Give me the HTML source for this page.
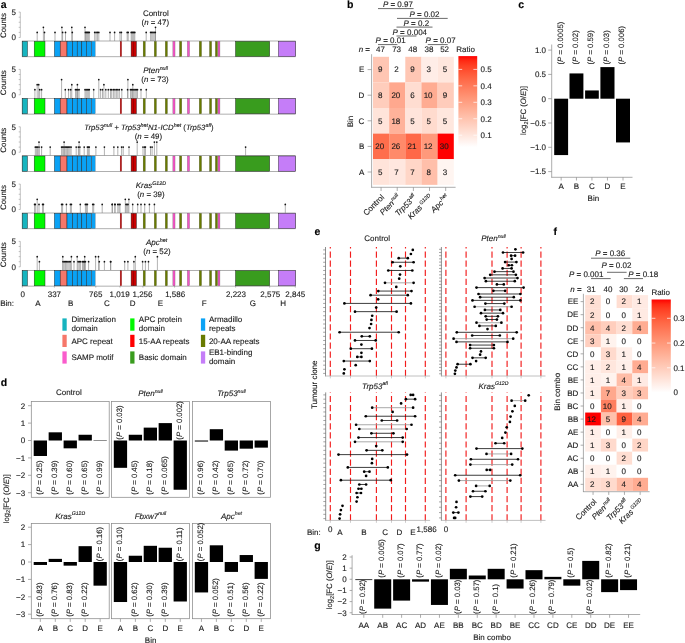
<!DOCTYPE html>
<html><head><meta charset="utf-8"><style>
html,body{margin:0;padding:0;background:#fff;width:685px;height:643px;overflow:hidden}
svg{display:block}
text{font-family:"Liberation Sans",sans-serif;text-rendering:geometricPrecision}
svg{will-change:transform}
</style></head><body>
<svg width="685" height="643" viewBox="0 0 685 643">
<rect width="685" height="643" fill="#fff"/>
<text x="0.80" y="8.30" font-size="10.5" fill="#000" stroke="#000" stroke-width="0.12" font-weight="bold" >a</text>
<line x1="20.30" y1="12.10" x2="20.30" y2="37.50" stroke="#999" stroke-width="0.6" />
<line x1="18.70" y1="37.50" x2="20.30" y2="37.50" stroke="#999" stroke-width="0.6" />
<line x1="18.70" y1="32.42" x2="20.30" y2="32.42" stroke="#999" stroke-width="0.6" />
<line x1="18.70" y1="27.34" x2="20.30" y2="27.34" stroke="#999" stroke-width="0.6" />
<line x1="18.70" y1="22.26" x2="20.30" y2="22.26" stroke="#999" stroke-width="0.6" />
<line x1="18.70" y1="17.18" x2="20.30" y2="17.18" stroke="#999" stroke-width="0.6" />
<line x1="18.70" y1="12.10" x2="20.30" y2="12.10" stroke="#999" stroke-width="0.6" />
<text x="16.00" y="14.90" font-size="8.0" fill="#1a1a1a" stroke="#1a1a1a" stroke-width="0.12" text-anchor="end" >5</text>
<text x="16.00" y="40.30" font-size="8.0" fill="#1a1a1a" stroke="#1a1a1a" stroke-width="0.12" text-anchor="end" >0</text>
<text transform="translate(6.10,25.50) rotate(-90)" font-size="7.9" fill="#1a1a1a" stroke="#1a1a1a" stroke-width="0.12" text-anchor="middle" >Counts</text>
<line x1="37.20" y1="41.00" x2="37.20" y2="32.42" stroke="#808080" stroke-width="0.6" />
<line x1="43.40" y1="41.00" x2="43.40" y2="27.34" stroke="#808080" stroke-width="0.6" />
<line x1="44.50" y1="41.00" x2="44.50" y2="32.42" stroke="#808080" stroke-width="0.6" />
<line x1="55.00" y1="41.00" x2="55.00" y2="32.42" stroke="#808080" stroke-width="0.6" />
<line x1="61.90" y1="41.00" x2="61.90" y2="27.34" stroke="#808080" stroke-width="0.6" />
<line x1="62.60" y1="41.00" x2="62.60" y2="32.42" stroke="#808080" stroke-width="0.6" />
<line x1="65.50" y1="41.00" x2="65.50" y2="32.42" stroke="#808080" stroke-width="0.6" />
<line x1="71.80" y1="41.00" x2="71.80" y2="27.34" stroke="#808080" stroke-width="0.6" />
<line x1="72.30" y1="41.00" x2="72.30" y2="32.42" stroke="#808080" stroke-width="0.6" />
<line x1="85.00" y1="41.00" x2="85.00" y2="27.34" stroke="#808080" stroke-width="0.6" />
<line x1="85.40" y1="41.00" x2="85.40" y2="32.42" stroke="#808080" stroke-width="0.6" />
<line x1="86.38" y1="41.00" x2="86.38" y2="32.42" stroke="#808080" stroke-width="0.6" />
<line x1="87.35" y1="41.00" x2="87.35" y2="32.42" stroke="#808080" stroke-width="0.6" />
<line x1="88.33" y1="41.00" x2="88.33" y2="32.42" stroke="#808080" stroke-width="0.6" />
<line x1="89.30" y1="41.00" x2="89.30" y2="32.42" stroke="#808080" stroke-width="0.6" />
<line x1="94.70" y1="41.00" x2="94.70" y2="32.42" stroke="#808080" stroke-width="0.6" />
<line x1="96.07" y1="41.00" x2="96.07" y2="32.42" stroke="#808080" stroke-width="0.6" />
<line x1="97.43" y1="41.00" x2="97.43" y2="32.42" stroke="#808080" stroke-width="0.6" />
<line x1="98.80" y1="41.00" x2="98.80" y2="32.42" stroke="#808080" stroke-width="0.6" />
<line x1="110.00" y1="41.00" x2="110.00" y2="32.42" stroke="#808080" stroke-width="0.6" />
<line x1="114.60" y1="41.00" x2="114.60" y2="32.42" stroke="#808080" stroke-width="0.6" />
<line x1="120.00" y1="41.00" x2="120.00" y2="32.42" stroke="#808080" stroke-width="0.6" />
<line x1="121.40" y1="41.00" x2="121.40" y2="32.42" stroke="#808080" stroke-width="0.6" />
<line x1="127.20" y1="41.00" x2="127.20" y2="32.42" stroke="#808080" stroke-width="0.6" />
<line x1="128.20" y1="41.00" x2="128.20" y2="32.42" stroke="#808080" stroke-width="0.6" />
<line x1="131.20" y1="41.00" x2="131.20" y2="32.42" stroke="#808080" stroke-width="0.6" />
<line x1="132.10" y1="41.00" x2="132.10" y2="32.42" stroke="#808080" stroke-width="0.6" />
<line x1="133.00" y1="41.00" x2="133.00" y2="32.42" stroke="#808080" stroke-width="0.6" />
<line x1="133.90" y1="41.00" x2="133.90" y2="32.42" stroke="#808080" stroke-width="0.6" />
<line x1="134.80" y1="41.00" x2="134.80" y2="32.42" stroke="#808080" stroke-width="0.6" />
<line x1="146.20" y1="41.00" x2="146.20" y2="32.42" stroke="#808080" stroke-width="0.6" />
<line x1="150.60" y1="41.00" x2="150.60" y2="32.42" stroke="#808080" stroke-width="0.6" />
<line x1="151.78" y1="41.00" x2="151.78" y2="32.42" stroke="#808080" stroke-width="0.6" />
<line x1="152.95" y1="41.00" x2="152.95" y2="32.42" stroke="#808080" stroke-width="0.6" />
<line x1="154.12" y1="41.00" x2="154.12" y2="32.42" stroke="#808080" stroke-width="0.6" />
<line x1="155.30" y1="41.00" x2="155.30" y2="32.42" stroke="#808080" stroke-width="0.6" />
<line x1="155.50" y1="41.00" x2="155.50" y2="27.34" stroke="#808080" stroke-width="0.6" />
<circle cx="37.20" cy="32.42" r="0.85" fill="#111"/>
<circle cx="43.40" cy="27.34" r="0.85" fill="#111"/>
<circle cx="44.50" cy="32.42" r="0.85" fill="#111"/>
<circle cx="55.00" cy="32.42" r="0.85" fill="#111"/>
<circle cx="61.90" cy="27.34" r="0.85" fill="#111"/>
<circle cx="62.60" cy="32.42" r="0.85" fill="#111"/>
<circle cx="65.50" cy="32.42" r="0.85" fill="#111"/>
<circle cx="71.80" cy="27.34" r="0.85" fill="#111"/>
<circle cx="72.30" cy="32.42" r="0.85" fill="#111"/>
<circle cx="85.00" cy="27.34" r="0.85" fill="#111"/>
<circle cx="85.40" cy="32.42" r="0.85" fill="#111"/>
<circle cx="86.38" cy="32.42" r="0.85" fill="#111"/>
<circle cx="87.35" cy="32.42" r="0.85" fill="#111"/>
<circle cx="88.33" cy="32.42" r="0.85" fill="#111"/>
<circle cx="89.30" cy="32.42" r="0.85" fill="#111"/>
<circle cx="94.70" cy="32.42" r="0.85" fill="#111"/>
<circle cx="96.07" cy="32.42" r="0.85" fill="#111"/>
<circle cx="97.43" cy="32.42" r="0.85" fill="#111"/>
<circle cx="98.80" cy="32.42" r="0.85" fill="#111"/>
<circle cx="110.00" cy="32.42" r="0.85" fill="#111"/>
<circle cx="114.60" cy="32.42" r="0.85" fill="#111"/>
<circle cx="120.00" cy="32.42" r="0.85" fill="#111"/>
<circle cx="121.40" cy="32.42" r="0.85" fill="#111"/>
<circle cx="127.20" cy="32.42" r="0.85" fill="#111"/>
<circle cx="128.20" cy="32.42" r="0.85" fill="#111"/>
<circle cx="131.20" cy="32.42" r="0.85" fill="#111"/>
<circle cx="132.10" cy="32.42" r="0.85" fill="#111"/>
<circle cx="133.00" cy="32.42" r="0.85" fill="#111"/>
<circle cx="133.90" cy="32.42" r="0.85" fill="#111"/>
<circle cx="134.80" cy="32.42" r="0.85" fill="#111"/>
<circle cx="146.20" cy="32.42" r="0.85" fill="#111"/>
<circle cx="150.60" cy="32.42" r="0.85" fill="#111"/>
<circle cx="151.78" cy="32.42" r="0.85" fill="#111"/>
<circle cx="152.95" cy="32.42" r="0.85" fill="#111"/>
<circle cx="154.12" cy="32.42" r="0.85" fill="#111"/>
<circle cx="155.30" cy="32.42" r="0.85" fill="#111"/>
<circle cx="155.50" cy="27.34" r="0.85" fill="#111"/>
<rect x="22.20" y="41.00" width="273.30" height="15.80" fill="#fff" stroke="#7a7a7a" stroke-width="0.6" />
<rect x="22.20" y="41.30" width="5.30" height="15.20" fill="#16b4bf" stroke="#222" stroke-width="0.45" />
<rect x="34.20" y="41.30" width="10.80" height="15.20" fill="#00f800" stroke="#222" stroke-width="0.45" />
<rect x="54.40" y="41.30" width="5.80" height="15.20" fill="#0aa2f5" stroke="#222" stroke-width="0.45" />
<rect x="60.20" y="41.30" width="6.80" height="15.20" fill="#f6776a" stroke="#222" stroke-width="0.45" />
<rect x="67.00" y="41.30" width="5.60" height="15.20" fill="#0aa2f5" stroke="#222" stroke-width="0.45" />
<rect x="72.60" y="41.30" width="4.60" height="15.20" fill="#0aa2f5" stroke="#222" stroke-width="0.45" />
<rect x="77.20" y="41.30" width="4.60" height="15.20" fill="#0aa2f5" stroke="#222" stroke-width="0.45" />
<rect x="81.80" y="41.30" width="4.60" height="15.20" fill="#0aa2f5" stroke="#222" stroke-width="0.45" />
<rect x="86.40" y="41.30" width="5.20" height="15.20" fill="#0aa2f5" stroke="#222" stroke-width="0.45" />
<rect x="91.85" y="41.30" width="3.40" height="15.20" fill="#0aa2f5" stroke="#222" stroke-width="0.35" stroke-opacity="0.55"/>
<rect x="120.15" y="41.30" width="1.50" height="15.20" fill="#c80000" stroke="#222" stroke-width="0.35" stroke-opacity="0.55"/>
<rect x="131.10" y="41.30" width="5.30" height="15.20" fill="#c80000" stroke="#222" stroke-width="0.45" />
<rect x="143.15" y="41.30" width="2.20" height="15.20" fill="#687a00" stroke="#222" stroke-width="0.35" stroke-opacity="0.55"/>
<rect x="154.25" y="41.30" width="2.20" height="15.20" fill="#687a00" stroke="#222" stroke-width="0.35" stroke-opacity="0.55"/>
<rect x="165.25" y="41.30" width="2.20" height="15.20" fill="#687a00" stroke="#222" stroke-width="0.35" stroke-opacity="0.55"/>
<rect x="172.85" y="41.30" width="2.20" height="15.20" fill="#f056c4" stroke="#222" stroke-width="0.35" stroke-opacity="0.55"/>
<rect x="179.45" y="41.30" width="2.30" height="15.20" fill="#687a00" stroke="#222" stroke-width="0.35" stroke-opacity="0.55"/>
<rect x="187.35" y="41.30" width="2.20" height="15.20" fill="#f056c4" stroke="#222" stroke-width="0.35" stroke-opacity="0.55"/>
<rect x="199.25" y="41.30" width="2.30" height="15.20" fill="#687a00" stroke="#222" stroke-width="0.35" stroke-opacity="0.55"/>
<rect x="209.45" y="41.30" width="2.20" height="15.20" fill="#687a00" stroke="#222" stroke-width="0.35" stroke-opacity="0.55"/>
<rect x="215.35" y="41.30" width="2.20" height="15.20" fill="#687a00" stroke="#222" stroke-width="0.35" stroke-opacity="0.55"/>
<rect x="218.05" y="41.30" width="1.90" height="15.20" fill="#f056c4" stroke="#222" stroke-width="0.35" stroke-opacity="0.55"/>
<rect x="235.50" y="41.30" width="34.20" height="15.20" fill="#399c1e" stroke="#222" stroke-width="0.45" />
<rect x="278.40" y="41.30" width="17.10" height="15.20" fill="#c57df8" stroke="#222" stroke-width="0.45" />
<line x1="133.50" y1="41.30" x2="133.50" y2="56.50" stroke="#600" stroke-width="0.45" />
<text x="155.80" y="15.70" font-size="8.0" fill="#1a1a1a" stroke="#1a1a1a" stroke-width="0.12" text-anchor="middle" >Control</text>
<text x="155.30" y="24.50" font-size="7.9" fill="#1a1a1a" stroke="#1a1a1a" stroke-width="0.12" text-anchor="middle" ><tspan>(</tspan><tspan font-style="italic">n</tspan><tspan> = 47)</tspan></text>
<line x1="20.30" y1="69.40" x2="20.30" y2="94.80" stroke="#999" stroke-width="0.6" />
<line x1="18.70" y1="94.80" x2="20.30" y2="94.80" stroke="#999" stroke-width="0.6" />
<line x1="18.70" y1="89.72" x2="20.30" y2="89.72" stroke="#999" stroke-width="0.6" />
<line x1="18.70" y1="84.64" x2="20.30" y2="84.64" stroke="#999" stroke-width="0.6" />
<line x1="18.70" y1="79.56" x2="20.30" y2="79.56" stroke="#999" stroke-width="0.6" />
<line x1="18.70" y1="74.48" x2="20.30" y2="74.48" stroke="#999" stroke-width="0.6" />
<line x1="18.70" y1="69.40" x2="20.30" y2="69.40" stroke="#999" stroke-width="0.6" />
<text x="16.00" y="72.20" font-size="8.0" fill="#1a1a1a" stroke="#1a1a1a" stroke-width="0.12" text-anchor="end" >5</text>
<text x="16.00" y="97.60" font-size="8.0" fill="#1a1a1a" stroke="#1a1a1a" stroke-width="0.12" text-anchor="end" >0</text>
<text transform="translate(6.10,82.80) rotate(-90)" font-size="7.9" fill="#1a1a1a" stroke="#1a1a1a" stroke-width="0.12" text-anchor="middle" >Counts</text>
<line x1="34.90" y1="98.30" x2="34.90" y2="89.72" stroke="#808080" stroke-width="0.6" />
<line x1="37.20" y1="98.30" x2="37.20" y2="84.64" stroke="#808080" stroke-width="0.6" />
<line x1="38.70" y1="98.30" x2="38.70" y2="84.64" stroke="#808080" stroke-width="0.6" />
<line x1="39.70" y1="98.30" x2="39.70" y2="89.72" stroke="#808080" stroke-width="0.6" />
<line x1="41.60" y1="98.30" x2="41.60" y2="89.72" stroke="#808080" stroke-width="0.6" />
<line x1="61.60" y1="98.30" x2="61.60" y2="79.56" stroke="#808080" stroke-width="0.6" />
<line x1="65.30" y1="98.30" x2="65.30" y2="89.72" stroke="#808080" stroke-width="0.6" />
<line x1="68.60" y1="98.30" x2="68.60" y2="89.72" stroke="#808080" stroke-width="0.6" />
<line x1="70.70" y1="98.30" x2="70.70" y2="89.72" stroke="#808080" stroke-width="0.6" />
<line x1="71.80" y1="98.30" x2="71.80" y2="84.64" stroke="#808080" stroke-width="0.6" />
<line x1="75.50" y1="98.30" x2="75.50" y2="89.72" stroke="#808080" stroke-width="0.6" />
<line x1="76.70" y1="98.30" x2="76.70" y2="89.72" stroke="#808080" stroke-width="0.6" />
<line x1="77.90" y1="98.30" x2="77.90" y2="89.72" stroke="#808080" stroke-width="0.6" />
<line x1="79.10" y1="98.30" x2="79.10" y2="89.72" stroke="#808080" stroke-width="0.6" />
<line x1="77.40" y1="98.30" x2="77.40" y2="84.64" stroke="#808080" stroke-width="0.6" />
<line x1="85.00" y1="98.30" x2="85.00" y2="89.72" stroke="#808080" stroke-width="0.6" />
<line x1="86.08" y1="98.30" x2="86.08" y2="89.72" stroke="#808080" stroke-width="0.6" />
<line x1="87.15" y1="98.30" x2="87.15" y2="89.72" stroke="#808080" stroke-width="0.6" />
<line x1="88.22" y1="98.30" x2="88.22" y2="89.72" stroke="#808080" stroke-width="0.6" />
<line x1="89.30" y1="98.30" x2="89.30" y2="89.72" stroke="#808080" stroke-width="0.6" />
<line x1="93.70" y1="98.30" x2="93.70" y2="89.72" stroke="#808080" stroke-width="0.6" />
<line x1="98.80" y1="98.30" x2="98.80" y2="79.56" stroke="#808080" stroke-width="0.6" />
<line x1="100.60" y1="98.30" x2="100.60" y2="89.72" stroke="#808080" stroke-width="0.6" />
<line x1="102.50" y1="98.30" x2="102.50" y2="89.72" stroke="#808080" stroke-width="0.6" />
<line x1="103.90" y1="98.30" x2="103.90" y2="84.64" stroke="#808080" stroke-width="0.6" />
<line x1="105.80" y1="98.30" x2="105.80" y2="89.72" stroke="#808080" stroke-width="0.6" />
<line x1="108.30" y1="98.30" x2="108.30" y2="89.72" stroke="#808080" stroke-width="0.6" />
<line x1="110.50" y1="98.30" x2="110.50" y2="89.72" stroke="#808080" stroke-width="0.6" />
<line x1="111.70" y1="98.30" x2="111.70" y2="89.72" stroke="#808080" stroke-width="0.6" />
<line x1="113.40" y1="98.30" x2="113.40" y2="89.72" stroke="#808080" stroke-width="0.6" />
<line x1="114.88" y1="98.30" x2="114.88" y2="89.72" stroke="#808080" stroke-width="0.6" />
<line x1="116.35" y1="98.30" x2="116.35" y2="89.72" stroke="#808080" stroke-width="0.6" />
<line x1="117.83" y1="98.30" x2="117.83" y2="89.72" stroke="#808080" stroke-width="0.6" />
<line x1="119.30" y1="98.30" x2="119.30" y2="89.72" stroke="#808080" stroke-width="0.6" />
<line x1="121.80" y1="98.30" x2="121.80" y2="89.72" stroke="#808080" stroke-width="0.6" />
<line x1="127.60" y1="98.30" x2="127.60" y2="89.72" stroke="#808080" stroke-width="0.6" />
<line x1="127.90" y1="98.30" x2="127.90" y2="79.56" stroke="#808080" stroke-width="0.6" />
<line x1="130.50" y1="98.30" x2="130.50" y2="89.72" stroke="#808080" stroke-width="0.6" />
<line x1="131.67" y1="98.30" x2="131.67" y2="89.72" stroke="#808080" stroke-width="0.6" />
<line x1="132.83" y1="98.30" x2="132.83" y2="89.72" stroke="#808080" stroke-width="0.6" />
<line x1="134.00" y1="98.30" x2="134.00" y2="89.72" stroke="#808080" stroke-width="0.6" />
<line x1="135.17" y1="98.30" x2="135.17" y2="89.72" stroke="#808080" stroke-width="0.6" />
<line x1="136.33" y1="98.30" x2="136.33" y2="89.72" stroke="#808080" stroke-width="0.6" />
<line x1="137.50" y1="98.30" x2="137.50" y2="89.72" stroke="#808080" stroke-width="0.6" />
<line x1="132.80" y1="98.30" x2="132.80" y2="84.64" stroke="#808080" stroke-width="0.6" />
<line x1="141.00" y1="98.30" x2="141.00" y2="89.72" stroke="#808080" stroke-width="0.6" />
<line x1="146.30" y1="98.30" x2="146.30" y2="89.72" stroke="#808080" stroke-width="0.6" />
<circle cx="34.90" cy="89.72" r="0.85" fill="#111"/>
<circle cx="37.20" cy="84.64" r="0.85" fill="#111"/>
<circle cx="38.70" cy="84.64" r="0.85" fill="#111"/>
<circle cx="39.70" cy="89.72" r="0.85" fill="#111"/>
<circle cx="41.60" cy="89.72" r="0.85" fill="#111"/>
<circle cx="61.60" cy="79.56" r="0.85" fill="#111"/>
<circle cx="65.30" cy="89.72" r="0.85" fill="#111"/>
<circle cx="68.60" cy="89.72" r="0.85" fill="#111"/>
<circle cx="70.70" cy="89.72" r="0.85" fill="#111"/>
<circle cx="71.80" cy="84.64" r="0.85" fill="#111"/>
<circle cx="75.50" cy="89.72" r="0.85" fill="#111"/>
<circle cx="76.70" cy="89.72" r="0.85" fill="#111"/>
<circle cx="77.90" cy="89.72" r="0.85" fill="#111"/>
<circle cx="79.10" cy="89.72" r="0.85" fill="#111"/>
<circle cx="77.40" cy="84.64" r="0.85" fill="#111"/>
<circle cx="85.00" cy="89.72" r="0.85" fill="#111"/>
<circle cx="86.08" cy="89.72" r="0.85" fill="#111"/>
<circle cx="87.15" cy="89.72" r="0.85" fill="#111"/>
<circle cx="88.22" cy="89.72" r="0.85" fill="#111"/>
<circle cx="89.30" cy="89.72" r="0.85" fill="#111"/>
<circle cx="93.70" cy="89.72" r="0.85" fill="#111"/>
<circle cx="98.80" cy="79.56" r="0.85" fill="#111"/>
<circle cx="100.60" cy="89.72" r="0.85" fill="#111"/>
<circle cx="102.50" cy="89.72" r="0.85" fill="#111"/>
<circle cx="103.90" cy="84.64" r="0.85" fill="#111"/>
<circle cx="105.80" cy="89.72" r="0.85" fill="#111"/>
<circle cx="108.30" cy="89.72" r="0.85" fill="#111"/>
<circle cx="110.50" cy="89.72" r="0.85" fill="#111"/>
<circle cx="111.70" cy="89.72" r="0.85" fill="#111"/>
<circle cx="113.40" cy="89.72" r="0.85" fill="#111"/>
<circle cx="114.88" cy="89.72" r="0.85" fill="#111"/>
<circle cx="116.35" cy="89.72" r="0.85" fill="#111"/>
<circle cx="117.83" cy="89.72" r="0.85" fill="#111"/>
<circle cx="119.30" cy="89.72" r="0.85" fill="#111"/>
<circle cx="121.80" cy="89.72" r="0.85" fill="#111"/>
<circle cx="127.60" cy="89.72" r="0.85" fill="#111"/>
<circle cx="127.90" cy="79.56" r="0.85" fill="#111"/>
<circle cx="130.50" cy="89.72" r="0.85" fill="#111"/>
<circle cx="131.67" cy="89.72" r="0.85" fill="#111"/>
<circle cx="132.83" cy="89.72" r="0.85" fill="#111"/>
<circle cx="134.00" cy="89.72" r="0.85" fill="#111"/>
<circle cx="135.17" cy="89.72" r="0.85" fill="#111"/>
<circle cx="136.33" cy="89.72" r="0.85" fill="#111"/>
<circle cx="137.50" cy="89.72" r="0.85" fill="#111"/>
<circle cx="132.80" cy="84.64" r="0.85" fill="#111"/>
<circle cx="141.00" cy="89.72" r="0.85" fill="#111"/>
<circle cx="146.30" cy="89.72" r="0.85" fill="#111"/>
<rect x="22.20" y="98.30" width="273.30" height="15.80" fill="#fff" stroke="#7a7a7a" stroke-width="0.6" />
<rect x="22.20" y="98.60" width="5.30" height="15.20" fill="#16b4bf" stroke="#222" stroke-width="0.45" />
<rect x="34.20" y="98.60" width="10.80" height="15.20" fill="#00f800" stroke="#222" stroke-width="0.45" />
<rect x="54.40" y="98.60" width="5.80" height="15.20" fill="#0aa2f5" stroke="#222" stroke-width="0.45" />
<rect x="60.20" y="98.60" width="6.80" height="15.20" fill="#f6776a" stroke="#222" stroke-width="0.45" />
<rect x="67.00" y="98.60" width="5.60" height="15.20" fill="#0aa2f5" stroke="#222" stroke-width="0.45" />
<rect x="72.60" y="98.60" width="4.60" height="15.20" fill="#0aa2f5" stroke="#222" stroke-width="0.45" />
<rect x="77.20" y="98.60" width="4.60" height="15.20" fill="#0aa2f5" stroke="#222" stroke-width="0.45" />
<rect x="81.80" y="98.60" width="4.60" height="15.20" fill="#0aa2f5" stroke="#222" stroke-width="0.45" />
<rect x="86.40" y="98.60" width="5.20" height="15.20" fill="#0aa2f5" stroke="#222" stroke-width="0.45" />
<rect x="91.85" y="98.60" width="3.40" height="15.20" fill="#0aa2f5" stroke="#222" stroke-width="0.35" stroke-opacity="0.55"/>
<rect x="120.15" y="98.60" width="1.50" height="15.20" fill="#c80000" stroke="#222" stroke-width="0.35" stroke-opacity="0.55"/>
<rect x="131.10" y="98.60" width="5.30" height="15.20" fill="#c80000" stroke="#222" stroke-width="0.45" />
<rect x="143.15" y="98.60" width="2.20" height="15.20" fill="#687a00" stroke="#222" stroke-width="0.35" stroke-opacity="0.55"/>
<rect x="154.25" y="98.60" width="2.20" height="15.20" fill="#687a00" stroke="#222" stroke-width="0.35" stroke-opacity="0.55"/>
<rect x="165.25" y="98.60" width="2.20" height="15.20" fill="#687a00" stroke="#222" stroke-width="0.35" stroke-opacity="0.55"/>
<rect x="172.85" y="98.60" width="2.20" height="15.20" fill="#f056c4" stroke="#222" stroke-width="0.35" stroke-opacity="0.55"/>
<rect x="179.45" y="98.60" width="2.30" height="15.20" fill="#687a00" stroke="#222" stroke-width="0.35" stroke-opacity="0.55"/>
<rect x="187.35" y="98.60" width="2.20" height="15.20" fill="#f056c4" stroke="#222" stroke-width="0.35" stroke-opacity="0.55"/>
<rect x="199.25" y="98.60" width="2.30" height="15.20" fill="#687a00" stroke="#222" stroke-width="0.35" stroke-opacity="0.55"/>
<rect x="209.45" y="98.60" width="2.20" height="15.20" fill="#687a00" stroke="#222" stroke-width="0.35" stroke-opacity="0.55"/>
<rect x="215.35" y="98.60" width="2.20" height="15.20" fill="#687a00" stroke="#222" stroke-width="0.35" stroke-opacity="0.55"/>
<rect x="218.05" y="98.60" width="1.90" height="15.20" fill="#f056c4" stroke="#222" stroke-width="0.35" stroke-opacity="0.55"/>
<rect x="235.50" y="98.60" width="34.20" height="15.20" fill="#399c1e" stroke="#222" stroke-width="0.45" />
<rect x="278.40" y="98.60" width="17.10" height="15.20" fill="#c57df8" stroke="#222" stroke-width="0.45" />
<line x1="133.50" y1="98.60" x2="133.50" y2="113.80" stroke="#600" stroke-width="0.45" />
<text x="155.60" y="73.00" font-size="8.0" fill="#1a1a1a" stroke="#1a1a1a" stroke-width="0.12" text-anchor="middle" ><tspan font-style="italic">Pten</tspan><tspan dy="-3.0" font-style="italic" font-size="5.4">null</tspan></text>
<text x="155.00" y="81.80" font-size="7.9" fill="#1a1a1a" stroke="#1a1a1a" stroke-width="0.12" text-anchor="middle" ><tspan>(</tspan><tspan font-style="italic">n</tspan><tspan> = 73)</tspan></text>
<line x1="20.30" y1="126.80" x2="20.30" y2="152.20" stroke="#999" stroke-width="0.6" />
<line x1="18.70" y1="152.20" x2="20.30" y2="152.20" stroke="#999" stroke-width="0.6" />
<line x1="18.70" y1="147.12" x2="20.30" y2="147.12" stroke="#999" stroke-width="0.6" />
<line x1="18.70" y1="142.04" x2="20.30" y2="142.04" stroke="#999" stroke-width="0.6" />
<line x1="18.70" y1="136.96" x2="20.30" y2="136.96" stroke="#999" stroke-width="0.6" />
<line x1="18.70" y1="131.88" x2="20.30" y2="131.88" stroke="#999" stroke-width="0.6" />
<line x1="18.70" y1="126.80" x2="20.30" y2="126.80" stroke="#999" stroke-width="0.6" />
<text x="16.00" y="129.60" font-size="8.0" fill="#1a1a1a" stroke="#1a1a1a" stroke-width="0.12" text-anchor="end" >5</text>
<text x="16.00" y="155.00" font-size="8.0" fill="#1a1a1a" stroke="#1a1a1a" stroke-width="0.12" text-anchor="end" >0</text>
<text transform="translate(6.10,140.20) rotate(-90)" font-size="7.9" fill="#1a1a1a" stroke="#1a1a1a" stroke-width="0.12" text-anchor="middle" >Counts</text>
<line x1="35.30" y1="155.70" x2="35.30" y2="147.12" stroke="#808080" stroke-width="0.6" />
<line x1="36.40" y1="155.70" x2="36.40" y2="147.12" stroke="#808080" stroke-width="0.6" />
<line x1="37.50" y1="155.70" x2="37.50" y2="147.12" stroke="#808080" stroke-width="0.6" />
<line x1="39.00" y1="155.70" x2="39.00" y2="142.04" stroke="#808080" stroke-width="0.6" />
<line x1="39.00" y1="155.70" x2="39.00" y2="147.12" stroke="#808080" stroke-width="0.6" />
<line x1="41.60" y1="155.70" x2="41.60" y2="147.12" stroke="#808080" stroke-width="0.6" />
<line x1="50.20" y1="155.70" x2="50.20" y2="147.12" stroke="#808080" stroke-width="0.6" />
<line x1="61.60" y1="155.70" x2="61.60" y2="147.12" stroke="#808080" stroke-width="0.6" />
<line x1="62.79" y1="155.70" x2="62.79" y2="147.12" stroke="#808080" stroke-width="0.6" />
<line x1="63.98" y1="155.70" x2="63.98" y2="147.12" stroke="#808080" stroke-width="0.6" />
<line x1="65.16" y1="155.70" x2="65.16" y2="147.12" stroke="#808080" stroke-width="0.6" />
<line x1="66.35" y1="155.70" x2="66.35" y2="147.12" stroke="#808080" stroke-width="0.6" />
<line x1="67.54" y1="155.70" x2="67.54" y2="147.12" stroke="#808080" stroke-width="0.6" />
<line x1="68.72" y1="155.70" x2="68.72" y2="147.12" stroke="#808080" stroke-width="0.6" />
<line x1="69.91" y1="155.70" x2="69.91" y2="147.12" stroke="#808080" stroke-width="0.6" />
<line x1="71.10" y1="155.70" x2="71.10" y2="147.12" stroke="#808080" stroke-width="0.6" />
<line x1="64.10" y1="155.70" x2="64.10" y2="142.04" stroke="#808080" stroke-width="0.6" />
<line x1="76.20" y1="155.70" x2="76.20" y2="147.12" stroke="#808080" stroke-width="0.6" />
<line x1="78.40" y1="155.70" x2="78.40" y2="147.12" stroke="#808080" stroke-width="0.6" />
<line x1="79.90" y1="155.70" x2="79.90" y2="147.12" stroke="#808080" stroke-width="0.6" />
<line x1="79.10" y1="155.70" x2="79.10" y2="142.04" stroke="#808080" stroke-width="0.6" />
<line x1="84.20" y1="155.70" x2="84.20" y2="147.12" stroke="#808080" stroke-width="0.6" />
<line x1="87.40" y1="155.70" x2="87.40" y2="147.12" stroke="#808080" stroke-width="0.6" />
<line x1="88.35" y1="155.70" x2="88.35" y2="147.12" stroke="#808080" stroke-width="0.6" />
<line x1="89.30" y1="155.70" x2="89.30" y2="147.12" stroke="#808080" stroke-width="0.6" />
<line x1="95.90" y1="155.70" x2="95.90" y2="147.12" stroke="#808080" stroke-width="0.6" />
<line x1="104.40" y1="155.70" x2="104.40" y2="147.12" stroke="#808080" stroke-width="0.6" />
<line x1="113.90" y1="155.70" x2="113.90" y2="147.12" stroke="#808080" stroke-width="0.6" />
<line x1="117.80" y1="155.70" x2="117.80" y2="147.12" stroke="#808080" stroke-width="0.6" />
<line x1="121.60" y1="155.70" x2="121.60" y2="147.12" stroke="#808080" stroke-width="0.6" />
<line x1="123.20" y1="155.70" x2="123.20" y2="147.12" stroke="#808080" stroke-width="0.6" />
<line x1="129.00" y1="155.70" x2="129.00" y2="147.12" stroke="#808080" stroke-width="0.6" />
<line x1="137.20" y1="155.70" x2="137.20" y2="142.04" stroke="#808080" stroke-width="0.6" />
<line x1="143.00" y1="155.70" x2="143.00" y2="147.12" stroke="#808080" stroke-width="0.6" />
<line x1="144.70" y1="155.70" x2="144.70" y2="147.12" stroke="#808080" stroke-width="0.6" />
<line x1="145.40" y1="155.70" x2="145.40" y2="147.12" stroke="#808080" stroke-width="0.6" />
<line x1="150.50" y1="155.70" x2="150.50" y2="147.12" stroke="#808080" stroke-width="0.6" />
<line x1="152.10" y1="155.70" x2="152.10" y2="147.12" stroke="#808080" stroke-width="0.6" />
<line x1="154.40" y1="155.70" x2="154.40" y2="142.04" stroke="#808080" stroke-width="0.6" />
<line x1="156.80" y1="155.70" x2="156.80" y2="142.04" stroke="#808080" stroke-width="0.6" />
<line x1="245.60" y1="155.70" x2="245.60" y2="147.12" stroke="#808080" stroke-width="0.6" />
<circle cx="35.30" cy="147.12" r="0.85" fill="#111"/>
<circle cx="36.40" cy="147.12" r="0.85" fill="#111"/>
<circle cx="37.50" cy="147.12" r="0.85" fill="#111"/>
<circle cx="39.00" cy="142.04" r="0.85" fill="#111"/>
<circle cx="39.00" cy="147.12" r="0.85" fill="#111"/>
<circle cx="41.60" cy="147.12" r="0.85" fill="#111"/>
<circle cx="50.20" cy="147.12" r="0.85" fill="#111"/>
<circle cx="61.60" cy="147.12" r="0.85" fill="#111"/>
<circle cx="62.79" cy="147.12" r="0.85" fill="#111"/>
<circle cx="63.98" cy="147.12" r="0.85" fill="#111"/>
<circle cx="65.16" cy="147.12" r="0.85" fill="#111"/>
<circle cx="66.35" cy="147.12" r="0.85" fill="#111"/>
<circle cx="67.54" cy="147.12" r="0.85" fill="#111"/>
<circle cx="68.72" cy="147.12" r="0.85" fill="#111"/>
<circle cx="69.91" cy="147.12" r="0.85" fill="#111"/>
<circle cx="71.10" cy="147.12" r="0.85" fill="#111"/>
<circle cx="64.10" cy="142.04" r="0.85" fill="#111"/>
<circle cx="76.20" cy="147.12" r="0.85" fill="#111"/>
<circle cx="78.40" cy="147.12" r="0.85" fill="#111"/>
<circle cx="79.90" cy="147.12" r="0.85" fill="#111"/>
<circle cx="79.10" cy="142.04" r="0.85" fill="#111"/>
<circle cx="84.20" cy="147.12" r="0.85" fill="#111"/>
<circle cx="87.40" cy="147.12" r="0.85" fill="#111"/>
<circle cx="88.35" cy="147.12" r="0.85" fill="#111"/>
<circle cx="89.30" cy="147.12" r="0.85" fill="#111"/>
<circle cx="95.90" cy="147.12" r="0.85" fill="#111"/>
<circle cx="104.40" cy="147.12" r="0.85" fill="#111"/>
<circle cx="113.90" cy="147.12" r="0.85" fill="#111"/>
<circle cx="117.80" cy="147.12" r="0.85" fill="#111"/>
<circle cx="121.60" cy="147.12" r="0.85" fill="#111"/>
<circle cx="123.20" cy="147.12" r="0.85" fill="#111"/>
<circle cx="129.00" cy="147.12" r="0.85" fill="#111"/>
<circle cx="137.20" cy="142.04" r="0.85" fill="#111"/>
<circle cx="143.00" cy="147.12" r="0.85" fill="#111"/>
<circle cx="144.70" cy="147.12" r="0.85" fill="#111"/>
<circle cx="145.40" cy="147.12" r="0.85" fill="#111"/>
<circle cx="150.50" cy="147.12" r="0.85" fill="#111"/>
<circle cx="152.10" cy="147.12" r="0.85" fill="#111"/>
<circle cx="154.40" cy="142.04" r="0.85" fill="#111"/>
<circle cx="156.80" cy="142.04" r="0.85" fill="#111"/>
<circle cx="245.60" cy="147.12" r="0.85" fill="#111"/>
<rect x="22.20" y="155.70" width="273.30" height="15.80" fill="#fff" stroke="#7a7a7a" stroke-width="0.6" />
<rect x="22.20" y="156.00" width="5.30" height="15.20" fill="#16b4bf" stroke="#222" stroke-width="0.45" />
<rect x="34.20" y="156.00" width="10.80" height="15.20" fill="#00f800" stroke="#222" stroke-width="0.45" />
<rect x="54.40" y="156.00" width="5.80" height="15.20" fill="#0aa2f5" stroke="#222" stroke-width="0.45" />
<rect x="60.20" y="156.00" width="6.80" height="15.20" fill="#f6776a" stroke="#222" stroke-width="0.45" />
<rect x="67.00" y="156.00" width="5.60" height="15.20" fill="#0aa2f5" stroke="#222" stroke-width="0.45" />
<rect x="72.60" y="156.00" width="4.60" height="15.20" fill="#0aa2f5" stroke="#222" stroke-width="0.45" />
<rect x="77.20" y="156.00" width="4.60" height="15.20" fill="#0aa2f5" stroke="#222" stroke-width="0.45" />
<rect x="81.80" y="156.00" width="4.60" height="15.20" fill="#0aa2f5" stroke="#222" stroke-width="0.45" />
<rect x="86.40" y="156.00" width="5.20" height="15.20" fill="#0aa2f5" stroke="#222" stroke-width="0.45" />
<rect x="91.85" y="156.00" width="3.40" height="15.20" fill="#0aa2f5" stroke="#222" stroke-width="0.35" stroke-opacity="0.55"/>
<rect x="120.15" y="156.00" width="1.50" height="15.20" fill="#c80000" stroke="#222" stroke-width="0.35" stroke-opacity="0.55"/>
<rect x="131.10" y="156.00" width="5.30" height="15.20" fill="#c80000" stroke="#222" stroke-width="0.45" />
<rect x="143.15" y="156.00" width="2.20" height="15.20" fill="#687a00" stroke="#222" stroke-width="0.35" stroke-opacity="0.55"/>
<rect x="154.25" y="156.00" width="2.20" height="15.20" fill="#687a00" stroke="#222" stroke-width="0.35" stroke-opacity="0.55"/>
<rect x="165.25" y="156.00" width="2.20" height="15.20" fill="#687a00" stroke="#222" stroke-width="0.35" stroke-opacity="0.55"/>
<rect x="172.85" y="156.00" width="2.20" height="15.20" fill="#f056c4" stroke="#222" stroke-width="0.35" stroke-opacity="0.55"/>
<rect x="179.45" y="156.00" width="2.30" height="15.20" fill="#687a00" stroke="#222" stroke-width="0.35" stroke-opacity="0.55"/>
<rect x="187.35" y="156.00" width="2.20" height="15.20" fill="#f056c4" stroke="#222" stroke-width="0.35" stroke-opacity="0.55"/>
<rect x="199.25" y="156.00" width="2.30" height="15.20" fill="#687a00" stroke="#222" stroke-width="0.35" stroke-opacity="0.55"/>
<rect x="209.45" y="156.00" width="2.20" height="15.20" fill="#687a00" stroke="#222" stroke-width="0.35" stroke-opacity="0.55"/>
<rect x="215.35" y="156.00" width="2.20" height="15.20" fill="#687a00" stroke="#222" stroke-width="0.35" stroke-opacity="0.55"/>
<rect x="218.05" y="156.00" width="1.90" height="15.20" fill="#f056c4" stroke="#222" stroke-width="0.35" stroke-opacity="0.55"/>
<rect x="235.50" y="156.00" width="34.20" height="15.20" fill="#399c1e" stroke="#222" stroke-width="0.45" />
<rect x="278.40" y="156.00" width="17.10" height="15.20" fill="#c57df8" stroke="#222" stroke-width="0.45" />
<line x1="133.50" y1="156.00" x2="133.50" y2="171.20" stroke="#600" stroke-width="0.45" />
<text x="149.00" y="130.40" font-size="7.7" fill="#1a1a1a" stroke="#1a1a1a" stroke-width="0.12" text-anchor="middle" ><tspan font-style="italic">Trp53</tspan><tspan dy="-3.0" font-style="italic" font-size="5.4">null</tspan><tspan dy="3.0"> + </tspan><tspan font-style="italic">Trp53</tspan><tspan dy="-3.0" font-style="italic" font-size="5.4">het</tspan><tspan dy="3.0" font-style="italic">N1-ICD</tspan><tspan dy="-3.0" font-style="italic" font-size="5.4">het</tspan><tspan dy="3.0"> (</tspan><tspan font-style="italic">Trp53</tspan><tspan dy="-3.0" font-style="italic" font-size="5.4">afl</tspan><tspan dy="3.0">)</tspan></text>
<text x="148.40" y="139.20" font-size="7.9" fill="#1a1a1a" stroke="#1a1a1a" stroke-width="0.12" text-anchor="middle" ><tspan>(</tspan><tspan font-style="italic">n</tspan><tspan> = 49)</tspan></text>
<line x1="20.30" y1="184.10" x2="20.30" y2="209.50" stroke="#999" stroke-width="0.6" />
<line x1="18.70" y1="209.50" x2="20.30" y2="209.50" stroke="#999" stroke-width="0.6" />
<line x1="18.70" y1="204.42" x2="20.30" y2="204.42" stroke="#999" stroke-width="0.6" />
<line x1="18.70" y1="199.34" x2="20.30" y2="199.34" stroke="#999" stroke-width="0.6" />
<line x1="18.70" y1="194.26" x2="20.30" y2="194.26" stroke="#999" stroke-width="0.6" />
<line x1="18.70" y1="189.18" x2="20.30" y2="189.18" stroke="#999" stroke-width="0.6" />
<line x1="18.70" y1="184.10" x2="20.30" y2="184.10" stroke="#999" stroke-width="0.6" />
<text x="16.00" y="186.90" font-size="8.0" fill="#1a1a1a" stroke="#1a1a1a" stroke-width="0.12" text-anchor="end" >5</text>
<text x="16.00" y="212.30" font-size="8.0" fill="#1a1a1a" stroke="#1a1a1a" stroke-width="0.12" text-anchor="end" >0</text>
<text transform="translate(6.10,197.50) rotate(-90)" font-size="7.9" fill="#1a1a1a" stroke="#1a1a1a" stroke-width="0.12" text-anchor="middle" >Counts</text>
<line x1="34.60" y1="213.00" x2="34.60" y2="204.42" stroke="#808080" stroke-width="0.6" />
<line x1="35.30" y1="213.00" x2="35.30" y2="204.42" stroke="#808080" stroke-width="0.6" />
<line x1="37.20" y1="213.00" x2="37.20" y2="199.34" stroke="#808080" stroke-width="0.6" />
<line x1="39.00" y1="213.00" x2="39.00" y2="204.42" stroke="#808080" stroke-width="0.6" />
<line x1="42.60" y1="213.00" x2="42.60" y2="204.42" stroke="#808080" stroke-width="0.6" />
<line x1="43.40" y1="213.00" x2="43.40" y2="204.42" stroke="#808080" stroke-width="0.6" />
<line x1="61.60" y1="213.00" x2="61.60" y2="204.42" stroke="#808080" stroke-width="0.6" />
<line x1="62.60" y1="213.00" x2="62.60" y2="204.42" stroke="#808080" stroke-width="0.6" />
<line x1="66.40" y1="213.00" x2="66.40" y2="204.42" stroke="#808080" stroke-width="0.6" />
<line x1="70.40" y1="213.00" x2="70.40" y2="204.42" stroke="#808080" stroke-width="0.6" />
<line x1="71.40" y1="213.00" x2="71.40" y2="204.42" stroke="#808080" stroke-width="0.6" />
<line x1="80.30" y1="213.00" x2="80.30" y2="204.42" stroke="#808080" stroke-width="0.6" />
<line x1="85.40" y1="213.00" x2="85.40" y2="204.42" stroke="#808080" stroke-width="0.6" />
<line x1="86.40" y1="213.00" x2="86.40" y2="204.42" stroke="#808080" stroke-width="0.6" />
<line x1="87.40" y1="213.00" x2="87.40" y2="204.42" stroke="#808080" stroke-width="0.6" />
<line x1="92.70" y1="213.00" x2="92.70" y2="204.42" stroke="#808080" stroke-width="0.6" />
<line x1="93.70" y1="213.00" x2="93.70" y2="204.42" stroke="#808080" stroke-width="0.6" />
<line x1="102.20" y1="213.00" x2="102.20" y2="204.42" stroke="#808080" stroke-width="0.6" />
<line x1="112.30" y1="213.00" x2="112.30" y2="204.42" stroke="#808080" stroke-width="0.6" />
<line x1="114.90" y1="213.00" x2="114.90" y2="204.42" stroke="#808080" stroke-width="0.6" />
<line x1="117.80" y1="213.00" x2="117.80" y2="204.42" stroke="#808080" stroke-width="0.6" />
<line x1="119.00" y1="213.00" x2="119.00" y2="204.42" stroke="#808080" stroke-width="0.6" />
<line x1="120.00" y1="213.00" x2="120.00" y2="204.42" stroke="#808080" stroke-width="0.6" />
<line x1="112.20" y1="213.00" x2="112.20" y2="204.42" stroke="#808080" stroke-width="0.6" />
<line x1="115.00" y1="213.00" x2="115.00" y2="204.42" stroke="#808080" stroke-width="0.6" />
<line x1="125.30" y1="213.00" x2="125.30" y2="199.34" stroke="#808080" stroke-width="0.6" />
<line x1="126.00" y1="213.00" x2="126.00" y2="204.42" stroke="#808080" stroke-width="0.6" />
<line x1="127.00" y1="213.00" x2="127.00" y2="204.42" stroke="#808080" stroke-width="0.6" />
<line x1="128.00" y1="213.00" x2="128.00" y2="204.42" stroke="#808080" stroke-width="0.6" />
<line x1="128.90" y1="213.00" x2="128.90" y2="199.34" stroke="#808080" stroke-width="0.6" />
<line x1="132.70" y1="213.00" x2="132.70" y2="204.42" stroke="#808080" stroke-width="0.6" />
<line x1="137.70" y1="213.00" x2="137.70" y2="204.42" stroke="#808080" stroke-width="0.6" />
<line x1="141.00" y1="213.00" x2="141.00" y2="204.42" stroke="#808080" stroke-width="0.6" />
<line x1="144.70" y1="213.00" x2="144.70" y2="204.42" stroke="#808080" stroke-width="0.6" />
<line x1="149.40" y1="213.00" x2="149.40" y2="204.42" stroke="#808080" stroke-width="0.6" />
<line x1="154.40" y1="213.00" x2="154.40" y2="204.42" stroke="#808080" stroke-width="0.6" />
<line x1="285.30" y1="213.00" x2="285.30" y2="204.42" stroke="#808080" stroke-width="0.6" />
<circle cx="34.60" cy="204.42" r="0.85" fill="#111"/>
<circle cx="35.30" cy="204.42" r="0.85" fill="#111"/>
<circle cx="37.20" cy="199.34" r="0.85" fill="#111"/>
<circle cx="39.00" cy="204.42" r="0.85" fill="#111"/>
<circle cx="42.60" cy="204.42" r="0.85" fill="#111"/>
<circle cx="43.40" cy="204.42" r="0.85" fill="#111"/>
<circle cx="61.60" cy="204.42" r="0.85" fill="#111"/>
<circle cx="62.60" cy="204.42" r="0.85" fill="#111"/>
<circle cx="66.40" cy="204.42" r="0.85" fill="#111"/>
<circle cx="70.40" cy="204.42" r="0.85" fill="#111"/>
<circle cx="71.40" cy="204.42" r="0.85" fill="#111"/>
<circle cx="80.30" cy="204.42" r="0.85" fill="#111"/>
<circle cx="85.40" cy="204.42" r="0.85" fill="#111"/>
<circle cx="86.40" cy="204.42" r="0.85" fill="#111"/>
<circle cx="87.40" cy="204.42" r="0.85" fill="#111"/>
<circle cx="92.70" cy="204.42" r="0.85" fill="#111"/>
<circle cx="93.70" cy="204.42" r="0.85" fill="#111"/>
<circle cx="102.20" cy="204.42" r="0.85" fill="#111"/>
<circle cx="112.30" cy="204.42" r="0.85" fill="#111"/>
<circle cx="114.90" cy="204.42" r="0.85" fill="#111"/>
<circle cx="117.80" cy="204.42" r="0.85" fill="#111"/>
<circle cx="119.00" cy="204.42" r="0.85" fill="#111"/>
<circle cx="120.00" cy="204.42" r="0.85" fill="#111"/>
<circle cx="112.20" cy="204.42" r="0.85" fill="#111"/>
<circle cx="115.00" cy="204.42" r="0.85" fill="#111"/>
<circle cx="125.30" cy="199.34" r="0.85" fill="#111"/>
<circle cx="126.00" cy="204.42" r="0.85" fill="#111"/>
<circle cx="127.00" cy="204.42" r="0.85" fill="#111"/>
<circle cx="128.00" cy="204.42" r="0.85" fill="#111"/>
<circle cx="128.90" cy="199.34" r="0.85" fill="#111"/>
<circle cx="132.70" cy="204.42" r="0.85" fill="#111"/>
<circle cx="137.70" cy="204.42" r="0.85" fill="#111"/>
<circle cx="141.00" cy="204.42" r="0.85" fill="#111"/>
<circle cx="144.70" cy="204.42" r="0.85" fill="#111"/>
<circle cx="149.40" cy="204.42" r="0.85" fill="#111"/>
<circle cx="154.40" cy="204.42" r="0.85" fill="#111"/>
<circle cx="285.30" cy="204.42" r="0.85" fill="#111"/>
<rect x="22.20" y="213.00" width="273.30" height="15.80" fill="#fff" stroke="#7a7a7a" stroke-width="0.6" />
<rect x="22.20" y="213.30" width="5.30" height="15.20" fill="#16b4bf" stroke="#222" stroke-width="0.45" />
<rect x="34.20" y="213.30" width="10.80" height="15.20" fill="#00f800" stroke="#222" stroke-width="0.45" />
<rect x="54.40" y="213.30" width="5.80" height="15.20" fill="#0aa2f5" stroke="#222" stroke-width="0.45" />
<rect x="60.20" y="213.30" width="6.80" height="15.20" fill="#f6776a" stroke="#222" stroke-width="0.45" />
<rect x="67.00" y="213.30" width="5.60" height="15.20" fill="#0aa2f5" stroke="#222" stroke-width="0.45" />
<rect x="72.60" y="213.30" width="4.60" height="15.20" fill="#0aa2f5" stroke="#222" stroke-width="0.45" />
<rect x="77.20" y="213.30" width="4.60" height="15.20" fill="#0aa2f5" stroke="#222" stroke-width="0.45" />
<rect x="81.80" y="213.30" width="4.60" height="15.20" fill="#0aa2f5" stroke="#222" stroke-width="0.45" />
<rect x="86.40" y="213.30" width="5.20" height="15.20" fill="#0aa2f5" stroke="#222" stroke-width="0.45" />
<rect x="91.85" y="213.30" width="3.40" height="15.20" fill="#0aa2f5" stroke="#222" stroke-width="0.35" stroke-opacity="0.55"/>
<rect x="120.15" y="213.30" width="1.50" height="15.20" fill="#c80000" stroke="#222" stroke-width="0.35" stroke-opacity="0.55"/>
<rect x="131.10" y="213.30" width="5.30" height="15.20" fill="#c80000" stroke="#222" stroke-width="0.45" />
<rect x="143.15" y="213.30" width="2.20" height="15.20" fill="#687a00" stroke="#222" stroke-width="0.35" stroke-opacity="0.55"/>
<rect x="154.25" y="213.30" width="2.20" height="15.20" fill="#687a00" stroke="#222" stroke-width="0.35" stroke-opacity="0.55"/>
<rect x="165.25" y="213.30" width="2.20" height="15.20" fill="#687a00" stroke="#222" stroke-width="0.35" stroke-opacity="0.55"/>
<rect x="172.85" y="213.30" width="2.20" height="15.20" fill="#f056c4" stroke="#222" stroke-width="0.35" stroke-opacity="0.55"/>
<rect x="179.45" y="213.30" width="2.30" height="15.20" fill="#687a00" stroke="#222" stroke-width="0.35" stroke-opacity="0.55"/>
<rect x="187.35" y="213.30" width="2.20" height="15.20" fill="#f056c4" stroke="#222" stroke-width="0.35" stroke-opacity="0.55"/>
<rect x="199.25" y="213.30" width="2.30" height="15.20" fill="#687a00" stroke="#222" stroke-width="0.35" stroke-opacity="0.55"/>
<rect x="209.45" y="213.30" width="2.20" height="15.20" fill="#687a00" stroke="#222" stroke-width="0.35" stroke-opacity="0.55"/>
<rect x="215.35" y="213.30" width="2.20" height="15.20" fill="#687a00" stroke="#222" stroke-width="0.35" stroke-opacity="0.55"/>
<rect x="218.05" y="213.30" width="1.90" height="15.20" fill="#f056c4" stroke="#222" stroke-width="0.35" stroke-opacity="0.55"/>
<rect x="235.50" y="213.30" width="34.20" height="15.20" fill="#399c1e" stroke="#222" stroke-width="0.45" />
<rect x="278.40" y="213.30" width="17.10" height="15.20" fill="#c57df8" stroke="#222" stroke-width="0.45" />
<line x1="133.50" y1="213.30" x2="133.50" y2="228.50" stroke="#600" stroke-width="0.45" />
<text x="151.00" y="187.70" font-size="8.0" fill="#1a1a1a" stroke="#1a1a1a" stroke-width="0.12" text-anchor="middle" ><tspan font-style="italic">Kras</tspan><tspan dy="-3.0" font-style="italic" font-size="5.4">G12D</tspan></text>
<text x="150.90" y="196.50" font-size="7.9" fill="#1a1a1a" stroke="#1a1a1a" stroke-width="0.12" text-anchor="middle" ><tspan>(</tspan><tspan font-style="italic">n</tspan><tspan> = 39)</tspan></text>
<line x1="20.30" y1="241.40" x2="20.30" y2="266.80" stroke="#999" stroke-width="0.6" />
<line x1="18.70" y1="266.80" x2="20.30" y2="266.80" stroke="#999" stroke-width="0.6" />
<line x1="18.70" y1="261.72" x2="20.30" y2="261.72" stroke="#999" stroke-width="0.6" />
<line x1="18.70" y1="256.64" x2="20.30" y2="256.64" stroke="#999" stroke-width="0.6" />
<line x1="18.70" y1="251.56" x2="20.30" y2="251.56" stroke="#999" stroke-width="0.6" />
<line x1="18.70" y1="246.48" x2="20.30" y2="246.48" stroke="#999" stroke-width="0.6" />
<line x1="18.70" y1="241.40" x2="20.30" y2="241.40" stroke="#999" stroke-width="0.6" />
<text x="16.00" y="244.20" font-size="8.0" fill="#1a1a1a" stroke="#1a1a1a" stroke-width="0.12" text-anchor="end" >5</text>
<text x="16.00" y="269.60" font-size="8.0" fill="#1a1a1a" stroke="#1a1a1a" stroke-width="0.12" text-anchor="end" >0</text>
<text transform="translate(6.10,254.80) rotate(-90)" font-size="7.9" fill="#1a1a1a" stroke="#1a1a1a" stroke-width="0.12" text-anchor="middle" >Counts</text>
<line x1="37.20" y1="270.30" x2="37.20" y2="256.64" stroke="#808080" stroke-width="0.6" />
<line x1="39.40" y1="270.30" x2="39.40" y2="261.72" stroke="#808080" stroke-width="0.6" />
<line x1="62.80" y1="270.30" x2="62.80" y2="256.64" stroke="#808080" stroke-width="0.6" />
<line x1="63.00" y1="270.30" x2="63.00" y2="261.72" stroke="#808080" stroke-width="0.6" />
<line x1="64.23" y1="270.30" x2="64.23" y2="261.72" stroke="#808080" stroke-width="0.6" />
<line x1="65.47" y1="270.30" x2="65.47" y2="261.72" stroke="#808080" stroke-width="0.6" />
<line x1="66.70" y1="270.30" x2="66.70" y2="261.72" stroke="#808080" stroke-width="0.6" />
<line x1="67.93" y1="270.30" x2="67.93" y2="261.72" stroke="#808080" stroke-width="0.6" />
<line x1="69.17" y1="270.30" x2="69.17" y2="261.72" stroke="#808080" stroke-width="0.6" />
<line x1="70.40" y1="270.30" x2="70.40" y2="261.72" stroke="#808080" stroke-width="0.6" />
<line x1="71.40" y1="270.30" x2="71.40" y2="256.64" stroke="#808080" stroke-width="0.6" />
<line x1="74.00" y1="270.30" x2="74.00" y2="261.72" stroke="#808080" stroke-width="0.6" />
<line x1="77.20" y1="270.30" x2="77.20" y2="256.64" stroke="#808080" stroke-width="0.6" />
<line x1="78.10" y1="270.30" x2="78.10" y2="261.72" stroke="#808080" stroke-width="0.6" />
<line x1="79.35" y1="270.30" x2="79.35" y2="261.72" stroke="#808080" stroke-width="0.6" />
<line x1="80.60" y1="270.30" x2="80.60" y2="261.72" stroke="#808080" stroke-width="0.6" />
<line x1="82.50" y1="270.30" x2="82.50" y2="261.72" stroke="#808080" stroke-width="0.6" />
<line x1="83.47" y1="270.30" x2="83.47" y2="261.72" stroke="#808080" stroke-width="0.6" />
<line x1="84.43" y1="270.30" x2="84.43" y2="261.72" stroke="#808080" stroke-width="0.6" />
<line x1="85.40" y1="270.30" x2="85.40" y2="261.72" stroke="#808080" stroke-width="0.6" />
<line x1="84.70" y1="270.30" x2="84.70" y2="256.64" stroke="#808080" stroke-width="0.6" />
<line x1="88.60" y1="270.30" x2="88.60" y2="261.72" stroke="#808080" stroke-width="0.6" />
<line x1="95.60" y1="270.30" x2="95.60" y2="256.64" stroke="#808080" stroke-width="0.6" />
<line x1="98.50" y1="270.30" x2="98.50" y2="256.64" stroke="#808080" stroke-width="0.6" />
<line x1="99.30" y1="270.30" x2="99.30" y2="261.72" stroke="#808080" stroke-width="0.6" />
<line x1="104.40" y1="270.30" x2="104.40" y2="261.72" stroke="#808080" stroke-width="0.6" />
<line x1="110.50" y1="270.30" x2="110.50" y2="261.72" stroke="#808080" stroke-width="0.6" />
<line x1="110.80" y1="270.30" x2="110.80" y2="261.72" stroke="#808080" stroke-width="0.6" />
<line x1="124.70" y1="270.30" x2="124.70" y2="261.72" stroke="#808080" stroke-width="0.6" />
<line x1="127.90" y1="270.30" x2="127.90" y2="261.72" stroke="#808080" stroke-width="0.6" />
<line x1="133.90" y1="270.30" x2="133.90" y2="261.72" stroke="#808080" stroke-width="0.6" />
<line x1="135.30" y1="270.30" x2="135.30" y2="256.64" stroke="#808080" stroke-width="0.6" />
<line x1="142.60" y1="270.30" x2="142.60" y2="261.72" stroke="#808080" stroke-width="0.6" />
<line x1="145.40" y1="270.30" x2="145.40" y2="261.72" stroke="#808080" stroke-width="0.6" />
<line x1="148.50" y1="270.30" x2="148.50" y2="261.72" stroke="#808080" stroke-width="0.6" />
<line x1="157.40" y1="270.30" x2="157.40" y2="256.64" stroke="#808080" stroke-width="0.6" />
<circle cx="37.20" cy="256.64" r="0.85" fill="#111"/>
<circle cx="39.40" cy="261.72" r="0.85" fill="#111"/>
<circle cx="62.80" cy="256.64" r="0.85" fill="#111"/>
<circle cx="63.00" cy="261.72" r="0.85" fill="#111"/>
<circle cx="64.23" cy="261.72" r="0.85" fill="#111"/>
<circle cx="65.47" cy="261.72" r="0.85" fill="#111"/>
<circle cx="66.70" cy="261.72" r="0.85" fill="#111"/>
<circle cx="67.93" cy="261.72" r="0.85" fill="#111"/>
<circle cx="69.17" cy="261.72" r="0.85" fill="#111"/>
<circle cx="70.40" cy="261.72" r="0.85" fill="#111"/>
<circle cx="71.40" cy="256.64" r="0.85" fill="#111"/>
<circle cx="74.00" cy="261.72" r="0.85" fill="#111"/>
<circle cx="77.20" cy="256.64" r="0.85" fill="#111"/>
<circle cx="78.10" cy="261.72" r="0.85" fill="#111"/>
<circle cx="79.35" cy="261.72" r="0.85" fill="#111"/>
<circle cx="80.60" cy="261.72" r="0.85" fill="#111"/>
<circle cx="82.50" cy="261.72" r="0.85" fill="#111"/>
<circle cx="83.47" cy="261.72" r="0.85" fill="#111"/>
<circle cx="84.43" cy="261.72" r="0.85" fill="#111"/>
<circle cx="85.40" cy="261.72" r="0.85" fill="#111"/>
<circle cx="84.70" cy="256.64" r="0.85" fill="#111"/>
<circle cx="88.60" cy="261.72" r="0.85" fill="#111"/>
<circle cx="95.60" cy="256.64" r="0.85" fill="#111"/>
<circle cx="98.50" cy="256.64" r="0.85" fill="#111"/>
<circle cx="99.30" cy="261.72" r="0.85" fill="#111"/>
<circle cx="104.40" cy="261.72" r="0.85" fill="#111"/>
<circle cx="110.50" cy="261.72" r="0.85" fill="#111"/>
<circle cx="110.80" cy="261.72" r="0.85" fill="#111"/>
<circle cx="124.70" cy="261.72" r="0.85" fill="#111"/>
<circle cx="127.90" cy="261.72" r="0.85" fill="#111"/>
<circle cx="133.90" cy="261.72" r="0.85" fill="#111"/>
<circle cx="135.30" cy="256.64" r="0.85" fill="#111"/>
<circle cx="142.60" cy="261.72" r="0.85" fill="#111"/>
<circle cx="145.40" cy="261.72" r="0.85" fill="#111"/>
<circle cx="148.50" cy="261.72" r="0.85" fill="#111"/>
<circle cx="157.40" cy="256.64" r="0.85" fill="#111"/>
<rect x="22.20" y="270.30" width="273.30" height="15.80" fill="#fff" stroke="#7a7a7a" stroke-width="0.6" />
<rect x="22.20" y="270.60" width="5.30" height="15.20" fill="#16b4bf" stroke="#222" stroke-width="0.45" />
<rect x="34.20" y="270.60" width="10.80" height="15.20" fill="#00f800" stroke="#222" stroke-width="0.45" />
<rect x="54.40" y="270.60" width="5.80" height="15.20" fill="#0aa2f5" stroke="#222" stroke-width="0.45" />
<rect x="60.20" y="270.60" width="6.80" height="15.20" fill="#f6776a" stroke="#222" stroke-width="0.45" />
<rect x="67.00" y="270.60" width="5.60" height="15.20" fill="#0aa2f5" stroke="#222" stroke-width="0.45" />
<rect x="72.60" y="270.60" width="4.60" height="15.20" fill="#0aa2f5" stroke="#222" stroke-width="0.45" />
<rect x="77.20" y="270.60" width="4.60" height="15.20" fill="#0aa2f5" stroke="#222" stroke-width="0.45" />
<rect x="81.80" y="270.60" width="4.60" height="15.20" fill="#0aa2f5" stroke="#222" stroke-width="0.45" />
<rect x="86.40" y="270.60" width="5.20" height="15.20" fill="#0aa2f5" stroke="#222" stroke-width="0.45" />
<rect x="91.85" y="270.60" width="3.40" height="15.20" fill="#0aa2f5" stroke="#222" stroke-width="0.35" stroke-opacity="0.55"/>
<rect x="120.15" y="270.60" width="1.50" height="15.20" fill="#c80000" stroke="#222" stroke-width="0.35" stroke-opacity="0.55"/>
<rect x="131.10" y="270.60" width="5.30" height="15.20" fill="#c80000" stroke="#222" stroke-width="0.45" />
<rect x="143.15" y="270.60" width="2.20" height="15.20" fill="#687a00" stroke="#222" stroke-width="0.35" stroke-opacity="0.55"/>
<rect x="154.25" y="270.60" width="2.20" height="15.20" fill="#687a00" stroke="#222" stroke-width="0.35" stroke-opacity="0.55"/>
<rect x="165.25" y="270.60" width="2.20" height="15.20" fill="#687a00" stroke="#222" stroke-width="0.35" stroke-opacity="0.55"/>
<rect x="172.85" y="270.60" width="2.20" height="15.20" fill="#f056c4" stroke="#222" stroke-width="0.35" stroke-opacity="0.55"/>
<rect x="179.45" y="270.60" width="2.30" height="15.20" fill="#687a00" stroke="#222" stroke-width="0.35" stroke-opacity="0.55"/>
<rect x="187.35" y="270.60" width="2.20" height="15.20" fill="#f056c4" stroke="#222" stroke-width="0.35" stroke-opacity="0.55"/>
<rect x="199.25" y="270.60" width="2.30" height="15.20" fill="#687a00" stroke="#222" stroke-width="0.35" stroke-opacity="0.55"/>
<rect x="209.45" y="270.60" width="2.20" height="15.20" fill="#687a00" stroke="#222" stroke-width="0.35" stroke-opacity="0.55"/>
<rect x="215.35" y="270.60" width="2.20" height="15.20" fill="#687a00" stroke="#222" stroke-width="0.35" stroke-opacity="0.55"/>
<rect x="218.05" y="270.60" width="1.90" height="15.20" fill="#f056c4" stroke="#222" stroke-width="0.35" stroke-opacity="0.55"/>
<rect x="235.50" y="270.60" width="34.20" height="15.20" fill="#399c1e" stroke="#222" stroke-width="0.45" />
<rect x="278.40" y="270.60" width="17.10" height="15.20" fill="#c57df8" stroke="#222" stroke-width="0.45" />
<line x1="133.50" y1="270.60" x2="133.50" y2="285.80" stroke="#600" stroke-width="0.45" />
<text x="156.60" y="245.00" font-size="8.0" fill="#1a1a1a" stroke="#1a1a1a" stroke-width="0.12" text-anchor="middle" ><tspan font-style="italic">Apc</tspan><tspan dy="-3.0" font-style="italic" font-size="5.4">het</tspan></text>
<text x="157.00" y="253.80" font-size="7.9" fill="#1a1a1a" stroke="#1a1a1a" stroke-width="0.12" text-anchor="middle" ><tspan>(</tspan><tspan font-style="italic">n</tspan><tspan> = 52)</tspan></text>
<text x="22.70" y="297.00" font-size="8.0" fill="#1a1a1a" stroke="#1a1a1a" stroke-width="0.12" text-anchor="middle" >0</text>
<text x="54.40" y="297.00" font-size="8.0" fill="#1a1a1a" stroke="#1a1a1a" stroke-width="0.12" text-anchor="middle" >337</text>
<text x="95.80" y="297.00" font-size="8.0" fill="#1a1a1a" stroke="#1a1a1a" stroke-width="0.12" text-anchor="middle" >765</text>
<text x="119.60" y="297.00" font-size="8.0" fill="#1a1a1a" stroke="#1a1a1a" stroke-width="0.12" text-anchor="middle" >1,019</text>
<text x="142.50" y="297.00" font-size="8.0" fill="#1a1a1a" stroke="#1a1a1a" stroke-width="0.12" text-anchor="middle" >1,256</text>
<text x="175.20" y="297.00" font-size="8.0" fill="#1a1a1a" stroke="#1a1a1a" stroke-width="0.12" text-anchor="middle" >1,586</text>
<text x="236.00" y="297.00" font-size="8.0" fill="#1a1a1a" stroke="#1a1a1a" stroke-width="0.12" text-anchor="middle" >2,223</text>
<text x="270.30" y="297.00" font-size="8.0" fill="#1a1a1a" stroke="#1a1a1a" stroke-width="0.12" text-anchor="middle" >2,575</text>
<text x="295.30" y="297.00" font-size="8.0" fill="#1a1a1a" stroke="#1a1a1a" stroke-width="0.12" text-anchor="middle" >2,845</text>
<text x="0.20" y="306.30" font-size="8.0" fill="#1a1a1a" stroke="#1a1a1a" stroke-width="0.12" >Bin:</text>
<text x="38.00" y="306.30" font-size="8.0" fill="#1a1a1a" stroke="#1a1a1a" stroke-width="0.12" text-anchor="middle" >A</text>
<text x="70.60" y="306.30" font-size="8.0" fill="#1a1a1a" stroke="#1a1a1a" stroke-width="0.12" text-anchor="middle" >B</text>
<text x="106.80" y="306.30" font-size="8.0" fill="#1a1a1a" stroke="#1a1a1a" stroke-width="0.12" text-anchor="middle" >C</text>
<text x="132.70" y="306.30" font-size="8.0" fill="#1a1a1a" stroke="#1a1a1a" stroke-width="0.12" text-anchor="middle" >D</text>
<text x="160.50" y="306.30" font-size="8.0" fill="#1a1a1a" stroke="#1a1a1a" stroke-width="0.12" text-anchor="middle" >E</text>
<text x="204.20" y="306.30" font-size="8.0" fill="#1a1a1a" stroke="#1a1a1a" stroke-width="0.12" text-anchor="middle" >F</text>
<text x="252.80" y="306.30" font-size="8.0" fill="#1a1a1a" stroke="#1a1a1a" stroke-width="0.12" text-anchor="middle" >G</text>
<text x="283.20" y="306.30" font-size="8.0" fill="#1a1a1a" stroke="#1a1a1a" stroke-width="0.12" text-anchor="middle" >H</text>
<rect x="62.40" y="318.40" width="4.30" height="12.30" fill="#16b4bf" />
<text x="71.40" y="322.30" font-size="8.0" fill="#1a1a1a" stroke="#1a1a1a" stroke-width="0.12" >Dimerization</text>
<text x="71.40" y="331.30" font-size="8.0" fill="#1a1a1a" stroke="#1a1a1a" stroke-width="0.12" >domain</text>
<rect x="62.40" y="334.80" width="4.30" height="12.20" fill="#f6776a" />
<text x="71.40" y="343.75" font-size="8.0" fill="#1a1a1a" stroke="#1a1a1a" stroke-width="0.12" >APC repeat</text>
<rect x="62.40" y="351.40" width="4.30" height="12.20" fill="#fa5ccc" />
<text x="71.40" y="360.35" font-size="8.0" fill="#1a1a1a" stroke="#1a1a1a" stroke-width="0.12" >SAMP motif</text>
<rect x="130.20" y="318.40" width="4.30" height="12.30" fill="#00f800" />
<text x="138.80" y="322.30" font-size="8.0" fill="#1a1a1a" stroke="#1a1a1a" stroke-width="0.12" >APC protein</text>
<text x="138.80" y="331.30" font-size="8.0" fill="#1a1a1a" stroke="#1a1a1a" stroke-width="0.12" >domain</text>
<rect x="130.20" y="334.80" width="4.30" height="12.20" fill="#ff0000" />
<text x="138.80" y="343.75" font-size="8.0" fill="#1a1a1a" stroke="#1a1a1a" stroke-width="0.12" >15-AA repeats</text>
<rect x="130.20" y="351.40" width="4.30" height="12.20" fill="#399c1e" />
<text x="138.80" y="360.35" font-size="8.0" fill="#1a1a1a" stroke="#1a1a1a" stroke-width="0.12" >Basic domain</text>
<rect x="200.90" y="318.40" width="4.30" height="12.30" fill="#0aa2f5" />
<text x="208.90" y="322.30" font-size="8.0" fill="#1a1a1a" stroke="#1a1a1a" stroke-width="0.12" >Armadillo</text>
<text x="208.90" y="331.30" font-size="8.0" fill="#1a1a1a" stroke="#1a1a1a" stroke-width="0.12" >repeats</text>
<rect x="200.90" y="334.80" width="4.30" height="12.20" fill="#687a00" />
<text x="208.90" y="343.75" font-size="8.0" fill="#1a1a1a" stroke="#1a1a1a" stroke-width="0.12" >20-AA repeats</text>
<rect x="200.90" y="351.40" width="4.30" height="12.20" fill="#c57df8" />
<text x="208.90" y="355.30" font-size="8.0" fill="#1a1a1a" stroke="#1a1a1a" stroke-width="0.12" >EB1-binding</text>
<text x="208.90" y="364.30" font-size="8.0" fill="#1a1a1a" stroke="#1a1a1a" stroke-width="0.12" >domain</text>
<line x1="22.30" y1="285.90" x2="22.30" y2="287.60" stroke="#777" stroke-width="0.5" />
<line x1="54.40" y1="285.90" x2="54.40" y2="287.60" stroke="#777" stroke-width="0.5" />
<line x1="95.80" y1="285.90" x2="95.80" y2="287.60" stroke="#777" stroke-width="0.5" />
<line x1="120.00" y1="285.90" x2="120.00" y2="287.60" stroke="#777" stroke-width="0.5" />
<line x1="142.90" y1="285.90" x2="142.90" y2="287.60" stroke="#777" stroke-width="0.5" />
<line x1="174.60" y1="285.90" x2="174.60" y2="287.60" stroke="#777" stroke-width="0.5" />
<line x1="235.60" y1="285.90" x2="235.60" y2="287.60" stroke="#777" stroke-width="0.5" />
<line x1="269.70" y1="285.90" x2="269.70" y2="287.60" stroke="#777" stroke-width="0.5" />
<line x1="295.30" y1="285.90" x2="295.30" y2="287.60" stroke="#777" stroke-width="0.5" />
<text x="346.90" y="7.80" font-size="10.5" fill="#000" stroke="#000" stroke-width="0.12" font-weight="bold" >b</text>
<rect x="373.00" y="56.80" width="16.20" height="25.65" fill="#ffc6b3" />
<rect x="389.15" y="56.80" width="16.20" height="25.65" fill="#ffffff" />
<rect x="405.30" y="56.80" width="16.20" height="25.65" fill="#ffc7b4" />
<rect x="421.45" y="56.80" width="16.20" height="25.65" fill="#ffede7" />
<rect x="437.60" y="56.80" width="16.20" height="25.65" fill="#ffe7de" />
<rect x="373.00" y="82.40" width="16.20" height="25.65" fill="#ffcdbc" />
<rect x="389.15" y="82.40" width="16.20" height="25.65" fill="#ffa88e" />
<rect x="405.30" y="82.40" width="16.20" height="25.65" fill="#ffddd1" />
<rect x="421.45" y="82.40" width="16.20" height="25.65" fill="#ffac92" />
<rect x="437.60" y="82.40" width="16.20" height="25.65" fill="#ffccbb" />
<rect x="373.00" y="108.00" width="16.20" height="25.65" fill="#ffe4da" />
<rect x="389.15" y="108.00" width="16.20" height="25.65" fill="#ffb29a" />
<rect x="405.30" y="108.00" width="16.20" height="25.65" fill="#ffe4db" />
<rect x="421.45" y="108.00" width="16.20" height="25.65" fill="#ffdbce" />
<rect x="437.60" y="108.00" width="16.20" height="25.65" fill="#ffe7de" />
<rect x="373.00" y="133.60" width="16.20" height="25.65" fill="#ff6e4c" />
<rect x="389.15" y="133.60" width="16.20" height="25.65" fill="#ff8a6a" />
<rect x="405.30" y="133.60" width="16.20" height="25.65" fill="#ff6847" />
<rect x="421.45" y="133.60" width="16.20" height="25.65" fill="#ff997b" />
<rect x="437.60" y="133.60" width="16.20" height="25.65" fill="#ff0000" />
<rect x="373.00" y="159.20" width="16.20" height="25.65" fill="#ffe4da" />
<rect x="389.15" y="159.20" width="16.20" height="25.65" fill="#ffe7df" />
<rect x="405.30" y="159.20" width="16.20" height="25.65" fill="#ffd6c7" />
<rect x="421.45" y="159.20" width="16.20" height="25.65" fill="#ffbfaa" />
<rect x="437.60" y="159.20" width="16.20" height="25.65" fill="#fff5f1" />
<text x="380.27" y="72.45" font-size="8.0" fill="#1a1a1a" stroke="#1a1a1a" stroke-width="0.12" text-anchor="middle" >9</text>
<text x="396.43" y="72.45" font-size="8.0" fill="#1a1a1a" stroke="#1a1a1a" stroke-width="0.12" text-anchor="middle" >2</text>
<text x="412.57" y="72.45" font-size="8.0" fill="#1a1a1a" stroke="#1a1a1a" stroke-width="0.12" text-anchor="middle" >9</text>
<text x="428.72" y="72.45" font-size="8.0" fill="#1a1a1a" stroke="#1a1a1a" stroke-width="0.12" text-anchor="middle" >3</text>
<text x="444.88" y="72.45" font-size="8.0" fill="#1a1a1a" stroke="#1a1a1a" stroke-width="0.12" text-anchor="middle" >5</text>
<line x1="367.60" y1="69.60" x2="371.60" y2="69.60" stroke="#8a8a8a" stroke-width="0.7" />
<text x="364.40" y="72.40" font-size="8.0" fill="#1a1a1a" stroke="#1a1a1a" stroke-width="0.12" text-anchor="end" >E</text>
<text x="380.27" y="98.05" font-size="8.0" fill="#1a1a1a" stroke="#1a1a1a" stroke-width="0.12" text-anchor="middle" >8</text>
<text x="395.83" y="98.05" font-size="8.0" fill="#1a1a1a" stroke="#1a1a1a" stroke-width="0.12" text-anchor="middle" >20</text>
<text x="412.57" y="98.05" font-size="8.0" fill="#1a1a1a" stroke="#1a1a1a" stroke-width="0.12" text-anchor="middle" >6</text>
<text x="428.12" y="98.05" font-size="8.0" fill="#1a1a1a" stroke="#1a1a1a" stroke-width="0.12" text-anchor="middle" >10</text>
<text x="444.88" y="98.05" font-size="8.0" fill="#1a1a1a" stroke="#1a1a1a" stroke-width="0.12" text-anchor="middle" >9</text>
<line x1="367.60" y1="95.20" x2="371.60" y2="95.20" stroke="#8a8a8a" stroke-width="0.7" />
<text x="364.40" y="98.00" font-size="8.0" fill="#1a1a1a" stroke="#1a1a1a" stroke-width="0.12" text-anchor="end" >D</text>
<text x="380.27" y="123.65" font-size="8.0" fill="#1a1a1a" stroke="#1a1a1a" stroke-width="0.12" text-anchor="middle" >5</text>
<text x="395.83" y="123.65" font-size="8.0" fill="#1a1a1a" stroke="#1a1a1a" stroke-width="0.12" text-anchor="middle" >18</text>
<text x="412.57" y="123.65" font-size="8.0" fill="#1a1a1a" stroke="#1a1a1a" stroke-width="0.12" text-anchor="middle" >5</text>
<text x="428.72" y="123.65" font-size="8.0" fill="#1a1a1a" stroke="#1a1a1a" stroke-width="0.12" text-anchor="middle" >5</text>
<text x="444.88" y="123.65" font-size="8.0" fill="#1a1a1a" stroke="#1a1a1a" stroke-width="0.12" text-anchor="middle" >5</text>
<line x1="367.60" y1="120.80" x2="371.60" y2="120.80" stroke="#8a8a8a" stroke-width="0.7" />
<text x="364.40" y="123.60" font-size="8.0" fill="#1a1a1a" stroke="#1a1a1a" stroke-width="0.12" text-anchor="end" >C</text>
<text x="379.68" y="149.25" font-size="8.0" fill="#1a1a1a" stroke="#1a1a1a" stroke-width="0.12" text-anchor="middle" >20</text>
<text x="395.83" y="149.25" font-size="8.0" fill="#1a1a1a" stroke="#1a1a1a" stroke-width="0.12" text-anchor="middle" >26</text>
<text x="411.98" y="149.25" font-size="8.0" fill="#1a1a1a" stroke="#1a1a1a" stroke-width="0.12" text-anchor="middle" >21</text>
<text x="428.12" y="149.25" font-size="8.0" fill="#1a1a1a" stroke="#1a1a1a" stroke-width="0.12" text-anchor="middle" >12</text>
<text x="444.28" y="149.25" font-size="8.0" fill="#1a1a1a" stroke="#1a1a1a" stroke-width="0.12" text-anchor="middle" >30</text>
<line x1="367.60" y1="146.40" x2="371.60" y2="146.40" stroke="#8a8a8a" stroke-width="0.7" />
<text x="364.40" y="149.20" font-size="8.0" fill="#1a1a1a" stroke="#1a1a1a" stroke-width="0.12" text-anchor="end" >B</text>
<text x="380.27" y="174.85" font-size="8.0" fill="#1a1a1a" stroke="#1a1a1a" stroke-width="0.12" text-anchor="middle" >5</text>
<text x="396.43" y="174.85" font-size="8.0" fill="#1a1a1a" stroke="#1a1a1a" stroke-width="0.12" text-anchor="middle" >7</text>
<text x="412.57" y="174.85" font-size="8.0" fill="#1a1a1a" stroke="#1a1a1a" stroke-width="0.12" text-anchor="middle" >7</text>
<text x="428.72" y="174.85" font-size="8.0" fill="#1a1a1a" stroke="#1a1a1a" stroke-width="0.12" text-anchor="middle" >8</text>
<text x="444.88" y="174.85" font-size="8.0" fill="#1a1a1a" stroke="#1a1a1a" stroke-width="0.12" text-anchor="middle" >3</text>
<line x1="367.60" y1="172.00" x2="371.60" y2="172.00" stroke="#8a8a8a" stroke-width="0.7" />
<text x="364.40" y="174.80" font-size="8.0" fill="#1a1a1a" stroke="#1a1a1a" stroke-width="0.12" text-anchor="end" >A</text>
<line x1="371.60" y1="54.20" x2="371.60" y2="187.60" stroke="#8a8a8a" stroke-width="0.7" />
<line x1="371.30" y1="187.30" x2="455.60" y2="187.30" stroke="#8a8a8a" stroke-width="0.7" />
<line x1="381.07" y1="187.30" x2="381.07" y2="191.00" stroke="#8a8a8a" stroke-width="0.7" />
<line x1="397.23" y1="187.30" x2="397.23" y2="191.00" stroke="#8a8a8a" stroke-width="0.7" />
<line x1="413.38" y1="187.30" x2="413.38" y2="191.00" stroke="#8a8a8a" stroke-width="0.7" />
<line x1="429.52" y1="187.30" x2="429.52" y2="191.00" stroke="#8a8a8a" stroke-width="0.7" />
<line x1="445.68" y1="187.30" x2="445.68" y2="191.00" stroke="#8a8a8a" stroke-width="0.7" />
<text transform="translate(353.00,121.50) rotate(-90)" font-size="8.0" fill="#1a1a1a" stroke="#1a1a1a" stroke-width="0.12" text-anchor="middle" >Bin</text>
<text x="370.00" y="52.20" font-size="8.0" fill="#1a1a1a" stroke="#1a1a1a" stroke-width="0.12" text-anchor="end" ><tspan font-style="italic">n</tspan> =</text>
<text x="380.50" y="52.20" font-size="8.0" fill="#1a1a1a" stroke="#1a1a1a" stroke-width="0.12" text-anchor="middle" >47</text>
<text x="396.60" y="52.20" font-size="8.0" fill="#1a1a1a" stroke="#1a1a1a" stroke-width="0.12" text-anchor="middle" >73</text>
<text x="412.80" y="52.20" font-size="8.0" fill="#1a1a1a" stroke="#1a1a1a" stroke-width="0.12" text-anchor="middle" >48</text>
<text x="428.90" y="52.20" font-size="8.0" fill="#1a1a1a" stroke="#1a1a1a" stroke-width="0.12" text-anchor="middle" >38</text>
<text x="444.60" y="52.20" font-size="8.0" fill="#1a1a1a" stroke="#1a1a1a" stroke-width="0.12" text-anchor="middle" >52</text>
<text x="456.30" y="52.20" font-size="8.0" fill="#1a1a1a" stroke="#1a1a1a" stroke-width="0.12" >Ratio</text>
<defs><linearGradient id="cbb" x1="0" y1="1" x2="0" y2="0"><stop offset="0.00" stop-color="#ffffff"/><stop offset="0.05" stop-color="#fff5f2"/><stop offset="0.10" stop-color="#ffece5"/><stop offset="0.15" stop-color="#ffe2d8"/><stop offset="0.20" stop-color="#ffd9cb"/><stop offset="0.25" stop-color="#ffcfbf"/><stop offset="0.30" stop-color="#ffc6b2"/><stop offset="0.35" stop-color="#ffbca6"/><stop offset="0.40" stop-color="#ffb299"/><stop offset="0.45" stop-color="#ffa88d"/><stop offset="0.50" stop-color="#ff9e81"/><stop offset="0.55" stop-color="#ff9475"/><stop offset="0.60" stop-color="#ff8969"/><stop offset="0.65" stop-color="#ff7e5e"/><stop offset="0.70" stop-color="#ff7352"/><stop offset="0.75" stop-color="#ff6846"/><stop offset="0.80" stop-color="#ff5b3a"/><stop offset="0.85" stop-color="#ff4d2e"/><stop offset="0.90" stop-color="#ff3e22"/><stop offset="0.95" stop-color="#ff2913"/><stop offset="1.00" stop-color="#ff0000"/></linearGradient></defs>
<rect x="458.40" y="56.10" width="18.80" height="91.04" fill="url(#cbb)" />
<line x1="458.40" y1="69.40" x2="462.20" y2="69.40" stroke="#fff" stroke-width="0.7" />
<line x1="473.40" y1="69.40" x2="477.20" y2="69.40" stroke="#fff" stroke-width="0.7" />
<text x="480.60" y="72.20" font-size="8.0" fill="#1a1a1a" stroke="#1a1a1a" stroke-width="0.12" >0.5</text>
<line x1="458.40" y1="85.85" x2="462.20" y2="85.85" stroke="#fff" stroke-width="0.7" />
<line x1="473.40" y1="85.85" x2="477.20" y2="85.85" stroke="#fff" stroke-width="0.7" />
<text x="480.60" y="88.65" font-size="8.0" fill="#1a1a1a" stroke="#1a1a1a" stroke-width="0.12" >0.4</text>
<line x1="458.40" y1="102.30" x2="462.20" y2="102.30" stroke="#fff" stroke-width="0.7" />
<line x1="473.40" y1="102.30" x2="477.20" y2="102.30" stroke="#fff" stroke-width="0.7" />
<text x="480.60" y="105.10" font-size="8.0" fill="#1a1a1a" stroke="#1a1a1a" stroke-width="0.12" >0.3</text>
<line x1="458.40" y1="118.75" x2="462.20" y2="118.75" stroke="#fff" stroke-width="0.7" />
<line x1="473.40" y1="118.75" x2="477.20" y2="118.75" stroke="#fff" stroke-width="0.7" />
<text x="480.60" y="121.55" font-size="8.0" fill="#1a1a1a" stroke="#1a1a1a" stroke-width="0.12" >0.2</text>
<line x1="458.40" y1="135.20" x2="462.20" y2="135.20" stroke="#fff" stroke-width="0.7" />
<line x1="473.40" y1="135.20" x2="477.20" y2="135.20" stroke="#fff" stroke-width="0.7" />
<text x="480.60" y="138.00" font-size="8.0" fill="#1a1a1a" stroke="#1a1a1a" stroke-width="0.12" >0.1</text>
<text x="397.90" y="7.20" font-size="8.0" fill="#1a1a1a" stroke="#1a1a1a" stroke-width="0.12" text-anchor="middle" ><tspan font-style="italic">P</tspan> = 0.97</text>
<line x1="378.00" y1="8.60" x2="413.60" y2="8.60" stroke="#3a3a3a" stroke-width="0.75" />
<text x="424.50" y="17.00" font-size="8.0" fill="#1a1a1a" stroke="#1a1a1a" stroke-width="0.12" text-anchor="middle" ><tspan font-style="italic">P</tspan> = 0.02</text>
<line x1="397.00" y1="18.40" x2="447.70" y2="18.40" stroke="#3a3a3a" stroke-width="0.75" />
<text x="416.30" y="25.60" font-size="8.0" fill="#1a1a1a" stroke="#1a1a1a" stroke-width="0.12" text-anchor="middle" ><tspan font-style="italic">P</tspan> = 0.2</text>
<line x1="396.50" y1="27.10" x2="432.50" y2="27.10" stroke="#3a3a3a" stroke-width="0.75" />
<text x="409.80" y="34.70" font-size="8.0" fill="#1a1a1a" stroke="#1a1a1a" stroke-width="0.12" text-anchor="middle" ><tspan font-style="italic">P</tspan> = 0.004</text>
<line x1="396.50" y1="36.00" x2="416.40" y2="36.00" stroke="#3a3a3a" stroke-width="0.75" />
<text x="390.60" y="43.30" font-size="8.0" fill="#1a1a1a" stroke="#1a1a1a" stroke-width="0.12" text-anchor="middle" ><tspan font-style="italic">P</tspan> = 0.01</text>
<line x1="378.00" y1="44.60" x2="397.40" y2="44.60" stroke="#3a3a3a" stroke-width="0.75" />
<text x="440.60" y="43.30" font-size="8.0" fill="#1a1a1a" stroke="#1a1a1a" stroke-width="0.12" text-anchor="middle" ><tspan font-style="italic">P</tspan> = 0.07</text>
<line x1="427.80" y1="44.60" x2="447.70" y2="44.60" stroke="#3a3a3a" stroke-width="0.75" />
<text transform="translate(384.68,197.80) rotate(-45)" font-size="8.0" fill="#1a1a1a" stroke="#1a1a1a" stroke-width="0.12" text-anchor="end" >Control</text>
<text transform="translate(400.83,197.80) rotate(-45)" font-size="8.0" fill="#1a1a1a" stroke="#1a1a1a" stroke-width="0.12" text-anchor="end" ><tspan font-style="italic">Pten</tspan><tspan dy="-3.3" dx="0.6" font-style="italic" font-size="5.2">null</tspan></text>
<text transform="translate(416.98,197.80) rotate(-45)" font-size="8.0" fill="#1a1a1a" stroke="#1a1a1a" stroke-width="0.12" text-anchor="end" ><tspan font-style="italic">Trp53</tspan><tspan dy="-3.3" dx="0.6" font-style="italic" font-size="5.2">afl</tspan></text>
<text transform="translate(433.12,197.80) rotate(-45)" font-size="8.0" fill="#1a1a1a" stroke="#1a1a1a" stroke-width="0.12" text-anchor="end" ><tspan font-style="italic">Kras</tspan><tspan dy="-3.3" dx="1.2" font-style="italic" font-size="5.2">G12D</tspan></text>
<text transform="translate(449.28,197.80) rotate(-45)" font-size="8.0" fill="#1a1a1a" stroke="#1a1a1a" stroke-width="0.12" text-anchor="end" ><tspan font-style="italic">Apc</tspan><tspan dy="-3.3" dx="0.6" font-style="italic" font-size="5.2">het</tspan></text>
<text x="518.30" y="7.60" font-size="10.5" fill="#000" stroke="#000" stroke-width="0.12" font-weight="bold" >c</text>
<line x1="551.70" y1="44.50" x2="551.70" y2="177.60" stroke="#8a8a8a" stroke-width="0.7" />
<line x1="551.40" y1="177.30" x2="632.50" y2="177.30" stroke="#8a8a8a" stroke-width="0.7" />
<line x1="548.20" y1="50.10" x2="551.70" y2="50.10" stroke="#8a8a8a" stroke-width="0.7" />
<text x="546.00" y="52.90" font-size="8.0" fill="#1a1a1a" stroke="#1a1a1a" stroke-width="0.12" text-anchor="end" >1.0</text>
<line x1="548.20" y1="74.40" x2="551.70" y2="74.40" stroke="#8a8a8a" stroke-width="0.7" />
<text x="546.00" y="77.20" font-size="8.0" fill="#1a1a1a" stroke="#1a1a1a" stroke-width="0.12" text-anchor="end" >0.5</text>
<line x1="548.20" y1="98.70" x2="551.70" y2="98.70" stroke="#8a8a8a" stroke-width="0.7" />
<text x="546.00" y="101.50" font-size="8.0" fill="#1a1a1a" stroke="#1a1a1a" stroke-width="0.12" text-anchor="end" >0</text>
<line x1="548.20" y1="123.00" x2="551.70" y2="123.00" stroke="#8a8a8a" stroke-width="0.7" />
<text x="546.00" y="125.80" font-size="8.0" fill="#1a1a1a" stroke="#1a1a1a" stroke-width="0.12" text-anchor="end" >−0.5</text>
<line x1="548.20" y1="147.30" x2="551.70" y2="147.30" stroke="#8a8a8a" stroke-width="0.7" />
<text x="546.00" y="150.10" font-size="8.0" fill="#1a1a1a" stroke="#1a1a1a" stroke-width="0.12" text-anchor="end" >−1.0</text>
<line x1="548.20" y1="171.60" x2="551.70" y2="171.60" stroke="#8a8a8a" stroke-width="0.7" />
<text x="546.00" y="174.40" font-size="8.0" fill="#1a1a1a" stroke="#1a1a1a" stroke-width="0.12" text-anchor="end" >−1.5</text>
<rect x="554.20" y="98.70" width="13.90" height="56.38" fill="#000" />
<line x1="561.15" y1="177.30" x2="561.15" y2="180.50" stroke="#8a8a8a" stroke-width="0.7" />
<text x="561.15" y="189.20" font-size="8.0" fill="#1a1a1a" stroke="#1a1a1a" stroke-width="0.12" text-anchor="middle" >A</text>
<text transform="translate(562.55,64.50) rotate(-90)" font-size="7.75" fill="#1a1a1a" stroke="#1a1a1a" stroke-width="0.12" >(<tspan font-style="italic">P</tspan> = 0.0005)</text>
<rect x="569.50" y="73.43" width="13.90" height="25.27" fill="#000" />
<line x1="576.45" y1="177.30" x2="576.45" y2="180.50" stroke="#8a8a8a" stroke-width="0.7" />
<text x="576.45" y="189.20" font-size="8.0" fill="#1a1a1a" stroke="#1a1a1a" stroke-width="0.12" text-anchor="middle" >B</text>
<text transform="translate(577.85,64.50) rotate(-90)" font-size="7.75" fill="#1a1a1a" stroke="#1a1a1a" stroke-width="0.12" >(<tspan font-style="italic">P</tspan> = 0.02)</text>
<rect x="585.10" y="90.44" width="13.70" height="8.26" fill="#000" />
<line x1="591.95" y1="177.30" x2="591.95" y2="180.50" stroke="#8a8a8a" stroke-width="0.7" />
<text x="591.95" y="189.20" font-size="8.0" fill="#1a1a1a" stroke="#1a1a1a" stroke-width="0.12" text-anchor="middle" >C</text>
<text transform="translate(593.35,64.50) rotate(-90)" font-size="7.75" fill="#1a1a1a" stroke="#1a1a1a" stroke-width="0.12" >(<tspan font-style="italic">P</tspan> = 0.59)</text>
<rect x="600.40" y="67.11" width="14.10" height="31.59" fill="#000" />
<line x1="607.45" y1="177.30" x2="607.45" y2="180.50" stroke="#8a8a8a" stroke-width="0.7" />
<text x="607.45" y="189.20" font-size="8.0" fill="#1a1a1a" stroke="#1a1a1a" stroke-width="0.12" text-anchor="middle" >D</text>
<text transform="translate(608.85,64.50) rotate(-90)" font-size="7.75" fill="#1a1a1a" stroke="#1a1a1a" stroke-width="0.12" >(<tspan font-style="italic">P</tspan> = 0.03)</text>
<rect x="616.00" y="98.70" width="14.00" height="43.74" fill="#000" />
<line x1="623.00" y1="177.30" x2="623.00" y2="180.50" stroke="#8a8a8a" stroke-width="0.7" />
<text x="623.00" y="189.20" font-size="8.0" fill="#1a1a1a" stroke="#1a1a1a" stroke-width="0.12" text-anchor="middle" >E</text>
<text transform="translate(624.40,64.50) rotate(-90)" font-size="7.75" fill="#1a1a1a" stroke="#1a1a1a" stroke-width="0.12" >(<tspan font-style="italic">P</tspan> = 0.006)</text>
<text x="593.40" y="200.50" font-size="8.0" fill="#1a1a1a" stroke="#1a1a1a" stroke-width="0.12" text-anchor="middle" >Bin</text>
<text transform="translate(526.40,110.50) rotate(-90)" font-size="7.8" fill="#1a1a1a" stroke="#1a1a1a" stroke-width="0.12" text-anchor="middle" >log<tspan font-size="5.5" dy="1.8">2</tspan><tspan dy="-1.8">[FC (</tspan><tspan font-style="italic">O</tspan>/<tspan font-style="italic">E</tspan>)]</text>
<text x="0.80" y="386.20" font-size="10.5" fill="#000" stroke="#000" stroke-width="0.12" font-weight="bold" >d</text>
<line x1="28.00" y1="405.70" x2="31.30" y2="405.70" stroke="#8a8a8a" stroke-width="0.7" />
<text x="25.20" y="408.50" font-size="8.0" fill="#1a1a1a" stroke="#1a1a1a" stroke-width="0.12" text-anchor="end" >2</text>
<line x1="28.00" y1="423.10" x2="31.30" y2="423.10" stroke="#8a8a8a" stroke-width="0.7" />
<text x="25.20" y="425.90" font-size="8.0" fill="#1a1a1a" stroke="#1a1a1a" stroke-width="0.12" text-anchor="end" >1</text>
<line x1="28.00" y1="440.50" x2="31.30" y2="440.50" stroke="#8a8a8a" stroke-width="0.7" />
<text x="25.20" y="443.30" font-size="8.0" fill="#1a1a1a" stroke="#1a1a1a" stroke-width="0.12" text-anchor="end" >0</text>
<line x1="28.00" y1="457.90" x2="31.30" y2="457.90" stroke="#8a8a8a" stroke-width="0.7" />
<text x="25.20" y="460.70" font-size="8.0" fill="#1a1a1a" stroke="#1a1a1a" stroke-width="0.12" text-anchor="end" >−1</text>
<line x1="28.00" y1="475.30" x2="31.30" y2="475.30" stroke="#8a8a8a" stroke-width="0.7" />
<text x="25.20" y="478.10" font-size="8.0" fill="#1a1a1a" stroke="#1a1a1a" stroke-width="0.12" text-anchor="end" >−2</text>
<line x1="28.00" y1="492.70" x2="31.30" y2="492.70" stroke="#8a8a8a" stroke-width="0.7" />
<text x="25.20" y="495.50" font-size="8.0" fill="#1a1a1a" stroke="#1a1a1a" stroke-width="0.12" text-anchor="end" >−3</text>
<rect x="31.30" y="401.50" width="77.90" height="95.80" fill="none" stroke="#8a8a8a" stroke-width="0.75" />
<text x="68.85" y="395.40" font-size="8.0" fill="#1a1a1a" stroke="#1a1a1a" stroke-width="0.12" text-anchor="middle" ><tspan>Control</tspan></text>
<rect x="33.70" y="440.50" width="13.30" height="15.49" fill="#000" />
<text transform="translate(41.75,494.70) rotate(-90)" font-size="7.75" fill="#1a1a1a" stroke="#1a1a1a" stroke-width="0.12" >(<tspan font-style="italic">P</tspan> = 0.25)</text>
<rect x="48.65" y="432.32" width="13.30" height="8.18" fill="#000" />
<text transform="translate(56.70,494.70) rotate(-90)" font-size="7.75" fill="#1a1a1a" stroke="#1a1a1a" stroke-width="0.12" >(<tspan font-style="italic">P</tspan> = 0.39)</text>
<rect x="63.60" y="440.50" width="13.30" height="7.83" fill="#000" />
<text transform="translate(71.65,494.70) rotate(-90)" font-size="7.75" fill="#1a1a1a" stroke="#1a1a1a" stroke-width="0.12" >(<tspan font-style="italic">P</tspan> = 0.60)</text>
<rect x="78.55" y="434.76" width="13.30" height="5.74" fill="#000" />
<text transform="translate(86.60,494.70) rotate(-90)" font-size="7.75" fill="#1a1a1a" stroke="#1a1a1a" stroke-width="0.12" >(<tspan font-style="italic">P</tspan> = 0.65)</text>
<rect x="93.50" y="440.50" width="13.30" height="0.44" fill="#000" />
<text transform="translate(101.55,494.70) rotate(-90)" font-size="7.75" fill="#1a1a1a" stroke="#1a1a1a" stroke-width="0.12" >(<tspan font-style="italic">P</tspan> = 0.99)</text>
<rect x="111.40" y="401.50" width="78.10" height="95.80" fill="none" stroke="#8a8a8a" stroke-width="0.75" />
<text x="150.45" y="396.00" font-size="8.0" fill="#1a1a1a" stroke="#1a1a1a" stroke-width="0.12" text-anchor="middle" ><tspan font-style="italic">Pten</tspan><tspan font-style="italic" font-size="5.2" dy="-3.2">null</tspan></text>
<rect x="113.80" y="440.50" width="13.30" height="27.32" fill="#000" />
<text transform="translate(121.85,439.70) rotate(-90)" font-size="7.75" fill="#1a1a1a" stroke="#1a1a1a" stroke-width="0.12" >(<tspan font-style="italic">P</tspan> = 0.03)</text>
<rect x="128.75" y="434.76" width="13.30" height="5.74" fill="#000" />
<text transform="translate(136.80,494.70) rotate(-90)" font-size="7.75" fill="#1a1a1a" stroke="#1a1a1a" stroke-width="0.12" >(<tspan font-style="italic">P</tspan> = 0.45)</text>
<rect x="143.70" y="427.62" width="13.30" height="12.88" fill="#000" />
<text transform="translate(151.75,494.70) rotate(-90)" font-size="7.75" fill="#1a1a1a" stroke="#1a1a1a" stroke-width="0.12" >(<tspan font-style="italic">P</tspan> = 0.18)</text>
<rect x="158.65" y="423.10" width="13.30" height="17.40" fill="#000" />
<text transform="translate(166.70,494.70) rotate(-90)" font-size="7.75" fill="#1a1a1a" stroke="#1a1a1a" stroke-width="0.12" >(<tspan font-style="italic">P</tspan> = 0.065)</text>
<rect x="173.60" y="440.50" width="13.30" height="49.24" fill="#000" />
<text transform="translate(181.65,439.70) rotate(-90)" font-size="7.75" fill="#1a1a1a" stroke="#1a1a1a" stroke-width="0.12" >(<tspan font-style="italic">P</tspan> = 0.002)</text>
<rect x="192.40" y="401.50" width="78.20" height="95.80" fill="none" stroke="#8a8a8a" stroke-width="0.75" />
<text x="231.50" y="396.00" font-size="8.0" fill="#1a1a1a" stroke="#1a1a1a" stroke-width="0.12" text-anchor="middle" ><tspan font-style="italic">Trp53</tspan><tspan font-style="italic" font-size="5.2" dy="-3.2">null</tspan></text>
<rect x="194.80" y="440.50" width="13.30" height="1.04" fill="#000" />
<text transform="translate(202.85,494.70) rotate(-90)" font-size="7.75" fill="#1a1a1a" stroke="#1a1a1a" stroke-width="0.12" >(<tspan font-style="italic">P</tspan> = 0.96)</text>
<rect x="209.75" y="429.19" width="13.30" height="11.31" fill="#000" />
<text transform="translate(217.80,494.70) rotate(-90)" font-size="7.75" fill="#1a1a1a" stroke="#1a1a1a" stroke-width="0.12" >(<tspan font-style="italic">P</tspan> = 0.42)</text>
<rect x="224.70" y="440.50" width="13.30" height="10.09" fill="#000" />
<text transform="translate(232.75,494.70) rotate(-90)" font-size="7.75" fill="#1a1a1a" stroke="#1a1a1a" stroke-width="0.12" >(<tspan font-style="italic">P</tspan> = 0.65)</text>
<rect x="239.65" y="440.50" width="13.30" height="8.18" fill="#000" />
<text transform="translate(247.70,494.70) rotate(-90)" font-size="7.75" fill="#1a1a1a" stroke="#1a1a1a" stroke-width="0.12" >(<tspan font-style="italic">P</tspan> = 0.72)</text>
<rect x="254.60" y="440.50" width="13.30" height="7.13" fill="#000" />
<text transform="translate(262.65,494.70) rotate(-90)" font-size="7.75" fill="#1a1a1a" stroke="#1a1a1a" stroke-width="0.12" >(<tspan font-style="italic">P</tspan> = 0.70)</text>
<line x1="28.00" y1="527.20" x2="31.30" y2="527.20" stroke="#8a8a8a" stroke-width="0.7" />
<text x="25.20" y="530.00" font-size="8.0" fill="#1a1a1a" stroke="#1a1a1a" stroke-width="0.12" text-anchor="end" >2</text>
<line x1="28.00" y1="544.60" x2="31.30" y2="544.60" stroke="#8a8a8a" stroke-width="0.7" />
<text x="25.20" y="547.40" font-size="8.0" fill="#1a1a1a" stroke="#1a1a1a" stroke-width="0.12" text-anchor="end" >1</text>
<line x1="28.00" y1="562.00" x2="31.30" y2="562.00" stroke="#8a8a8a" stroke-width="0.7" />
<text x="25.20" y="564.80" font-size="8.0" fill="#1a1a1a" stroke="#1a1a1a" stroke-width="0.12" text-anchor="end" >0</text>
<line x1="28.00" y1="579.40" x2="31.30" y2="579.40" stroke="#8a8a8a" stroke-width="0.7" />
<text x="25.20" y="582.20" font-size="8.0" fill="#1a1a1a" stroke="#1a1a1a" stroke-width="0.12" text-anchor="end" >−1</text>
<line x1="28.00" y1="596.80" x2="31.30" y2="596.80" stroke="#8a8a8a" stroke-width="0.7" />
<text x="25.20" y="599.60" font-size="8.0" fill="#1a1a1a" stroke="#1a1a1a" stroke-width="0.12" text-anchor="end" >−2</text>
<line x1="28.00" y1="614.20" x2="31.30" y2="614.20" stroke="#8a8a8a" stroke-width="0.7" />
<text x="25.20" y="617.00" font-size="8.0" fill="#1a1a1a" stroke="#1a1a1a" stroke-width="0.12" text-anchor="end" >−3</text>
<rect x="31.30" y="523.60" width="77.90" height="95.10" fill="none" stroke="#8a8a8a" stroke-width="0.75" />
<text x="70.25" y="518.60" font-size="8.0" fill="#1a1a1a" stroke="#1a1a1a" stroke-width="0.12" text-anchor="middle" ><tspan font-style="italic">Kras</tspan><tspan font-style="italic" font-size="5.2" dy="-3.2">G12D</tspan></text>
<rect x="33.70" y="562.00" width="13.30" height="2.96" fill="#000" />
<text transform="translate(41.75,616.80) rotate(-90)" font-size="7.75" fill="#1a1a1a" stroke="#1a1a1a" stroke-width="0.12" >(<tspan font-style="italic">P</tspan> = 0.83)</text>
<line x1="40.35" y1="618.70" x2="40.35" y2="621.90" stroke="#8a8a8a" stroke-width="0.7" />
<text x="40.35" y="631.00" font-size="8.0" fill="#1a1a1a" stroke="#1a1a1a" stroke-width="0.12" text-anchor="middle" >A</text>
<rect x="48.65" y="558.87" width="13.30" height="3.13" fill="#000" />
<text transform="translate(56.70,616.80) rotate(-90)" font-size="7.75" fill="#1a1a1a" stroke="#1a1a1a" stroke-width="0.12" >(<tspan font-style="italic">P</tspan> = 0.76)</text>
<line x1="55.30" y1="618.70" x2="55.30" y2="621.90" stroke="#8a8a8a" stroke-width="0.7" />
<text x="55.30" y="631.00" font-size="8.0" fill="#1a1a1a" stroke="#1a1a1a" stroke-width="0.12" text-anchor="middle" >B</text>
<rect x="63.60" y="562.00" width="13.30" height="3.65" fill="#000" />
<text transform="translate(71.65,616.80) rotate(-90)" font-size="7.75" fill="#1a1a1a" stroke="#1a1a1a" stroke-width="0.12" >(<tspan font-style="italic">P</tspan> = 0.83)</text>
<line x1="70.25" y1="618.70" x2="70.25" y2="621.90" stroke="#8a8a8a" stroke-width="0.7" />
<text x="70.25" y="631.00" font-size="8.0" fill="#1a1a1a" stroke="#1a1a1a" stroke-width="0.12" text-anchor="middle" >C</text>
<rect x="78.55" y="546.17" width="13.30" height="15.83" fill="#000" />
<text transform="translate(86.60,616.80) rotate(-90)" font-size="7.75" fill="#1a1a1a" stroke="#1a1a1a" stroke-width="0.12" >(<tspan font-style="italic">P</tspan> = 0.22)</text>
<line x1="85.20" y1="618.70" x2="85.20" y2="621.90" stroke="#8a8a8a" stroke-width="0.7" />
<text x="85.20" y="631.00" font-size="8.0" fill="#1a1a1a" stroke="#1a1a1a" stroke-width="0.12" text-anchor="middle" >D</text>
<rect x="93.50" y="562.00" width="13.30" height="23.66" fill="#000" />
<text transform="translate(101.55,561.20) rotate(-90)" font-size="7.75" fill="#1a1a1a" stroke="#1a1a1a" stroke-width="0.12" >(<tspan font-style="italic">P</tspan> = 0.16)</text>
<line x1="100.15" y1="618.70" x2="100.15" y2="621.90" stroke="#8a8a8a" stroke-width="0.7" />
<text x="100.15" y="631.00" font-size="8.0" fill="#1a1a1a" stroke="#1a1a1a" stroke-width="0.12" text-anchor="middle" >E</text>
<rect x="111.40" y="523.60" width="78.10" height="95.10" fill="none" stroke="#8a8a8a" stroke-width="0.75" />
<text x="150.45" y="518.60" font-size="8.0" fill="#1a1a1a" stroke="#1a1a1a" stroke-width="0.12" text-anchor="middle" ><tspan font-style="italic">Fbxw7</tspan><tspan font-style="italic" font-size="5.2" dy="-3.2">null</tspan></text>
<rect x="113.80" y="562.00" width="13.30" height="40.02" fill="#000" />
<text transform="translate(121.85,561.20) rotate(-90)" font-size="7.75" fill="#1a1a1a" stroke="#1a1a1a" stroke-width="0.12" >(<tspan font-style="italic">P</tspan> = 0.10)</text>
<line x1="120.45" y1="618.70" x2="120.45" y2="621.90" stroke="#8a8a8a" stroke-width="0.7" />
<text x="120.45" y="631.00" font-size="8.0" fill="#1a1a1a" stroke="#1a1a1a" stroke-width="0.12" text-anchor="middle" >A</text>
<rect x="128.75" y="555.74" width="13.30" height="6.26" fill="#000" />
<text transform="translate(136.80,616.80) rotate(-90)" font-size="7.75" fill="#1a1a1a" stroke="#1a1a1a" stroke-width="0.12" >(<tspan font-style="italic">P</tspan> = 0.62)</text>
<line x1="135.40" y1="618.70" x2="135.40" y2="621.90" stroke="#8a8a8a" stroke-width="0.7" />
<text x="135.40" y="631.00" font-size="8.0" fill="#1a1a1a" stroke="#1a1a1a" stroke-width="0.12" text-anchor="middle" >B</text>
<rect x="143.70" y="545.82" width="13.30" height="16.18" fill="#000" />
<text transform="translate(151.75,616.80) rotate(-90)" font-size="7.75" fill="#1a1a1a" stroke="#1a1a1a" stroke-width="0.12" >(<tspan font-style="italic">P</tspan> = 0.30)</text>
<line x1="150.35" y1="618.70" x2="150.35" y2="621.90" stroke="#8a8a8a" stroke-width="0.7" />
<text x="150.35" y="631.00" font-size="8.0" fill="#1a1a1a" stroke="#1a1a1a" stroke-width="0.12" text-anchor="middle" >C</text>
<rect x="158.65" y="547.73" width="13.30" height="14.27" fill="#000" />
<text transform="translate(166.70,616.80) rotate(-90)" font-size="7.75" fill="#1a1a1a" stroke="#1a1a1a" stroke-width="0.12" >(<tspan font-style="italic">P</tspan> = 0.39)</text>
<line x1="165.30" y1="618.70" x2="165.30" y2="621.90" stroke="#8a8a8a" stroke-width="0.7" />
<text x="165.30" y="631.00" font-size="8.0" fill="#1a1a1a" stroke="#1a1a1a" stroke-width="0.12" text-anchor="middle" >D</text>
<rect x="173.60" y="562.00" width="13.30" height="39.50" fill="#000" />
<text transform="translate(181.65,561.20) rotate(-90)" font-size="7.75" fill="#1a1a1a" stroke="#1a1a1a" stroke-width="0.12" >(<tspan font-style="italic">P</tspan> = 0.11)</text>
<line x1="180.25" y1="618.70" x2="180.25" y2="621.90" stroke="#8a8a8a" stroke-width="0.7" />
<text x="180.25" y="631.00" font-size="8.0" fill="#1a1a1a" stroke="#1a1a1a" stroke-width="0.12" text-anchor="middle" >E</text>
<rect x="192.40" y="523.60" width="78.20" height="95.10" fill="none" stroke="#8a8a8a" stroke-width="0.75" />
<text x="231.50" y="518.60" font-size="8.0" fill="#1a1a1a" stroke="#1a1a1a" stroke-width="0.12" text-anchor="middle" ><tspan font-style="italic">Apc</tspan><tspan font-style="italic" font-size="5.2" dy="-3.2">het</tspan></text>
<rect x="194.80" y="562.00" width="13.30" height="30.45" fill="#000" />
<text transform="translate(202.85,561.20) rotate(-90)" font-size="7.75" fill="#1a1a1a" stroke="#1a1a1a" stroke-width="0.12" >(<tspan font-style="italic">P</tspan> = 0.052)</text>
<line x1="201.45" y1="618.70" x2="201.45" y2="621.90" stroke="#8a8a8a" stroke-width="0.7" />
<text x="201.45" y="631.00" font-size="8.0" fill="#1a1a1a" stroke="#1a1a1a" stroke-width="0.12" text-anchor="middle" >A</text>
<rect x="209.75" y="545.30" width="13.30" height="16.70" fill="#000" />
<text transform="translate(217.80,616.80) rotate(-90)" font-size="7.75" fill="#1a1a1a" stroke="#1a1a1a" stroke-width="0.12" >(<tspan font-style="italic">P</tspan> = 0.052)</text>
<line x1="216.40" y1="618.70" x2="216.40" y2="621.90" stroke="#8a8a8a" stroke-width="0.7" />
<text x="216.40" y="631.00" font-size="8.0" fill="#1a1a1a" stroke="#1a1a1a" stroke-width="0.12" text-anchor="middle" >B</text>
<rect x="224.70" y="562.00" width="13.30" height="9.92" fill="#000" />
<text transform="translate(232.75,616.80) rotate(-90)" font-size="7.75" fill="#1a1a1a" stroke="#1a1a1a" stroke-width="0.12" >(<tspan font-style="italic">P</tspan> = 0.51)</text>
<line x1="231.35" y1="618.70" x2="231.35" y2="621.90" stroke="#8a8a8a" stroke-width="0.7" />
<text x="231.35" y="631.00" font-size="8.0" fill="#1a1a1a" stroke="#1a1a1a" stroke-width="0.12" text-anchor="middle" >C</text>
<rect x="239.65" y="555.04" width="13.30" height="6.96" fill="#000" />
<text transform="translate(247.70,616.80) rotate(-90)" font-size="7.75" fill="#1a1a1a" stroke="#1a1a1a" stroke-width="0.12" >(<tspan font-style="italic">P</tspan> = 0.56)</text>
<line x1="246.30" y1="618.70" x2="246.30" y2="621.90" stroke="#8a8a8a" stroke-width="0.7" />
<text x="246.30" y="631.00" font-size="8.0" fill="#1a1a1a" stroke="#1a1a1a" stroke-width="0.12" text-anchor="middle" >D</text>
<rect x="254.60" y="562.00" width="13.30" height="16.88" fill="#000" />
<text transform="translate(262.65,616.80) rotate(-90)" font-size="7.75" fill="#1a1a1a" stroke="#1a1a1a" stroke-width="0.12" >(<tspan font-style="italic">P</tspan> = 0.22)</text>
<line x1="261.25" y1="618.70" x2="261.25" y2="621.90" stroke="#8a8a8a" stroke-width="0.7" />
<text x="261.25" y="631.00" font-size="8.0" fill="#1a1a1a" stroke="#1a1a1a" stroke-width="0.12" text-anchor="middle" >E</text>
<text x="150.60" y="642.60" font-size="8.0" fill="#1a1a1a" stroke="#1a1a1a" stroke-width="0.12" text-anchor="middle" >Bin</text>
<text transform="translate(8.60,498.80) rotate(-90)" font-size="7.8" fill="#1a1a1a" stroke="#1a1a1a" stroke-width="0.12" text-anchor="middle" >log<tspan font-size="5.5" dy="1.8">2</tspan><tspan dy="-1.8">[FC (</tspan><tspan font-style="italic">O</tspan>/<tspan font-style="italic">E</tspan>)]</text>
<text x="314.60" y="234.60" font-size="10.5" fill="#000" stroke="#000" stroke-width="0.12" font-weight="bold" >e</text>
<line x1="330.30" y1="376.00" x2="330.30" y2="247.00" stroke="#f21c1c" stroke-width="1.15" stroke-dasharray="6.2 2.9"/>
<line x1="330.30" y1="376.00" x2="330.30" y2="378.40" stroke="#aaa" stroke-width="0.6" />
<line x1="350.50" y1="376.00" x2="350.50" y2="247.00" stroke="#f21c1c" stroke-width="1.15" stroke-dasharray="6.2 2.9"/>
<line x1="350.50" y1="376.00" x2="350.50" y2="378.40" stroke="#aaa" stroke-width="0.6" />
<line x1="376.40" y1="376.00" x2="376.40" y2="247.00" stroke="#f21c1c" stroke-width="1.15" stroke-dasharray="6.2 2.9"/>
<line x1="376.40" y1="376.00" x2="376.40" y2="378.40" stroke="#aaa" stroke-width="0.6" />
<line x1="391.50" y1="376.00" x2="391.50" y2="247.00" stroke="#f21c1c" stroke-width="1.15" stroke-dasharray="6.2 2.9"/>
<line x1="391.50" y1="376.00" x2="391.50" y2="378.40" stroke="#aaa" stroke-width="0.6" />
<line x1="405.50" y1="376.00" x2="405.50" y2="247.00" stroke="#f21c1c" stroke-width="1.15" stroke-dasharray="6.2 2.9"/>
<line x1="405.50" y1="376.00" x2="405.50" y2="378.40" stroke="#aaa" stroke-width="0.6" />
<line x1="425.30" y1="376.00" x2="425.30" y2="247.00" stroke="#f21c1c" stroke-width="1.15" stroke-dasharray="6.2 2.9"/>
<line x1="425.30" y1="376.00" x2="425.30" y2="378.40" stroke="#aaa" stroke-width="0.6" />
<line x1="325.50" y1="247.00" x2="325.50" y2="376.30" stroke="#6a6a6a" stroke-width="0.75" />
<line x1="325.20" y1="376.00" x2="430.10" y2="376.00" stroke="#b0b0b0" stroke-width="0.8" />
<line x1="323.10" y1="249.90" x2="325.50" y2="249.90" stroke="#6a6a6a" stroke-width="0.6" />
<line x1="323.10" y1="254.02" x2="325.50" y2="254.02" stroke="#6a6a6a" stroke-width="0.6" />
<line x1="323.10" y1="258.13" x2="325.50" y2="258.13" stroke="#6a6a6a" stroke-width="0.6" />
<line x1="323.10" y1="262.25" x2="325.50" y2="262.25" stroke="#6a6a6a" stroke-width="0.6" />
<line x1="323.10" y1="266.37" x2="325.50" y2="266.37" stroke="#6a6a6a" stroke-width="0.6" />
<line x1="323.10" y1="270.48" x2="325.50" y2="270.48" stroke="#6a6a6a" stroke-width="0.6" />
<line x1="323.10" y1="274.60" x2="325.50" y2="274.60" stroke="#6a6a6a" stroke-width="0.6" />
<line x1="323.10" y1="278.72" x2="325.50" y2="278.72" stroke="#6a6a6a" stroke-width="0.6" />
<line x1="323.10" y1="282.83" x2="325.50" y2="282.83" stroke="#6a6a6a" stroke-width="0.6" />
<line x1="323.10" y1="286.95" x2="325.50" y2="286.95" stroke="#6a6a6a" stroke-width="0.6" />
<line x1="323.10" y1="291.07" x2="325.50" y2="291.07" stroke="#6a6a6a" stroke-width="0.6" />
<line x1="323.10" y1="295.18" x2="325.50" y2="295.18" stroke="#6a6a6a" stroke-width="0.6" />
<line x1="323.10" y1="299.30" x2="325.50" y2="299.30" stroke="#6a6a6a" stroke-width="0.6" />
<line x1="323.10" y1="303.42" x2="325.50" y2="303.42" stroke="#6a6a6a" stroke-width="0.6" />
<line x1="323.10" y1="307.53" x2="325.50" y2="307.53" stroke="#6a6a6a" stroke-width="0.6" />
<line x1="323.10" y1="311.65" x2="325.50" y2="311.65" stroke="#6a6a6a" stroke-width="0.6" />
<line x1="323.10" y1="315.77" x2="325.50" y2="315.77" stroke="#6a6a6a" stroke-width="0.6" />
<line x1="323.10" y1="319.88" x2="325.50" y2="319.88" stroke="#6a6a6a" stroke-width="0.6" />
<line x1="323.10" y1="324.00" x2="325.50" y2="324.00" stroke="#6a6a6a" stroke-width="0.6" />
<line x1="323.10" y1="328.12" x2="325.50" y2="328.12" stroke="#6a6a6a" stroke-width="0.6" />
<line x1="323.10" y1="332.23" x2="325.50" y2="332.23" stroke="#6a6a6a" stroke-width="0.6" />
<line x1="323.10" y1="336.35" x2="325.50" y2="336.35" stroke="#6a6a6a" stroke-width="0.6" />
<line x1="323.10" y1="340.47" x2="325.50" y2="340.47" stroke="#6a6a6a" stroke-width="0.6" />
<line x1="323.10" y1="344.58" x2="325.50" y2="344.58" stroke="#6a6a6a" stroke-width="0.6" />
<line x1="323.10" y1="348.70" x2="325.50" y2="348.70" stroke="#6a6a6a" stroke-width="0.6" />
<line x1="323.10" y1="352.82" x2="325.50" y2="352.82" stroke="#6a6a6a" stroke-width="0.6" />
<line x1="323.10" y1="356.93" x2="325.50" y2="356.93" stroke="#6a6a6a" stroke-width="0.6" />
<line x1="323.10" y1="361.05" x2="325.50" y2="361.05" stroke="#6a6a6a" stroke-width="0.6" />
<line x1="323.10" y1="365.17" x2="325.50" y2="365.17" stroke="#6a6a6a" stroke-width="0.6" />
<line x1="323.10" y1="369.28" x2="325.50" y2="369.28" stroke="#6a6a6a" stroke-width="0.6" />
<line x1="323.10" y1="373.40" x2="325.50" y2="373.40" stroke="#6a6a6a" stroke-width="0.6" />
<line x1="398.70" y1="258.13" x2="407.80" y2="258.13" stroke="#1a1a1a" stroke-width="0.85" />
<line x1="392.60" y1="262.25" x2="413.60" y2="262.25" stroke="#1a1a1a" stroke-width="0.85" />
<line x1="388.30" y1="270.48" x2="412.30" y2="270.48" stroke="#1a1a1a" stroke-width="0.85" />
<line x1="385.00" y1="282.83" x2="413.60" y2="282.83" stroke="#9a9a9a" stroke-width="0.85" />
<line x1="378.30" y1="291.07" x2="411.50" y2="291.07" stroke="#1a1a1a" stroke-width="0.85" />
<line x1="370.60" y1="295.18" x2="407.80" y2="295.18" stroke="#1a1a1a" stroke-width="0.85" />
<line x1="344.40" y1="303.42" x2="410.90" y2="303.42" stroke="#1a1a1a" stroke-width="0.85" />
<line x1="355.00" y1="311.65" x2="396.60" y2="311.65" stroke="#1a1a1a" stroke-width="0.85" />
<line x1="339.60" y1="332.23" x2="398.70" y2="332.23" stroke="#1a1a1a" stroke-width="0.85" />
<line x1="361.80" y1="336.35" x2="369.80" y2="336.35" stroke="#1a1a1a" stroke-width="0.85" />
<line x1="355.00" y1="340.47" x2="375.70" y2="340.47" stroke="#1a1a1a" stroke-width="0.85" />
<line x1="350.80" y1="348.70" x2="371.90" y2="348.70" stroke="#1a1a1a" stroke-width="0.85" />
<line x1="357.30" y1="356.93" x2="361.40" y2="356.93" stroke="#1a1a1a" stroke-width="0.85" />
<line x1="343.80" y1="361.05" x2="369.80" y2="361.05" stroke="#1a1a1a" stroke-width="0.85" />
<circle cx="412.80" cy="249.90" r="1.35" fill="#000"/>
<circle cx="410.90" cy="254.02" r="1.35" fill="#000"/>
<circle cx="398.70" cy="258.13" r="1.35" fill="#000"/>
<circle cx="407.80" cy="258.13" r="1.35" fill="#000"/>
<circle cx="392.60" cy="262.25" r="1.35" fill="#000"/>
<circle cx="413.60" cy="262.25" r="1.35" fill="#000"/>
<circle cx="400.30" cy="266.37" r="1.35" fill="#000"/>
<circle cx="388.30" cy="270.48" r="1.35" fill="#000"/>
<circle cx="412.30" cy="270.48" r="1.35" fill="#000"/>
<circle cx="400.00" cy="274.60" r="1.35" fill="#000"/>
<circle cx="399.20" cy="278.72" r="1.35" fill="#000"/>
<circle cx="385.00" cy="282.83" r="1.35" fill="#000"/>
<circle cx="413.60" cy="282.83" r="1.35" fill="#000"/>
<circle cx="396.30" cy="286.95" r="1.35" fill="#000"/>
<circle cx="378.30" cy="291.07" r="1.35" fill="#000"/>
<circle cx="411.50" cy="291.07" r="1.35" fill="#000"/>
<circle cx="370.60" cy="295.18" r="1.35" fill="#000"/>
<circle cx="407.80" cy="295.18" r="1.35" fill="#000"/>
<circle cx="378.10" cy="299.30" r="1.35" fill="#000"/>
<circle cx="344.40" cy="303.42" r="1.35" fill="#000"/>
<circle cx="410.90" cy="303.42" r="1.35" fill="#000"/>
<circle cx="376.20" cy="307.53" r="1.35" fill="#000"/>
<circle cx="355.00" cy="311.65" r="1.35" fill="#000"/>
<circle cx="396.60" cy="311.65" r="1.35" fill="#000"/>
<circle cx="372.20" cy="315.77" r="1.35" fill="#000"/>
<circle cx="371.40" cy="319.88" r="1.35" fill="#000"/>
<circle cx="371.10" cy="324.00" r="1.35" fill="#000"/>
<circle cx="369.50" cy="328.12" r="1.35" fill="#000"/>
<circle cx="339.60" cy="332.23" r="1.35" fill="#000"/>
<circle cx="398.70" cy="332.23" r="1.35" fill="#000"/>
<circle cx="361.80" cy="336.35" r="1.35" fill="#000"/>
<circle cx="369.80" cy="336.35" r="1.35" fill="#000"/>
<circle cx="355.00" cy="340.47" r="1.35" fill="#000"/>
<circle cx="375.70" cy="340.47" r="1.35" fill="#000"/>
<circle cx="361.40" cy="344.58" r="1.35" fill="#000"/>
<circle cx="350.80" cy="348.70" r="1.35" fill="#000"/>
<circle cx="371.90" cy="348.70" r="1.35" fill="#000"/>
<circle cx="361.40" cy="352.82" r="1.35" fill="#000"/>
<circle cx="357.30" cy="356.93" r="1.35" fill="#000"/>
<circle cx="361.40" cy="356.93" r="1.35" fill="#000"/>
<circle cx="343.80" cy="361.05" r="1.35" fill="#000"/>
<circle cx="369.80" cy="361.05" r="1.35" fill="#000"/>
<circle cx="355.70" cy="365.17" r="1.35" fill="#000"/>
<circle cx="344.40" cy="369.28" r="1.35" fill="#000"/>
<circle cx="343.80" cy="373.40" r="1.35" fill="#000"/>
<text x="377.20" y="241.30" font-size="8.0" fill="#1a1a1a" stroke="#1a1a1a" stroke-width="0.12" text-anchor="middle" >Control</text>
<line x1="445.90" y1="376.00" x2="445.90" y2="247.00" stroke="#f21c1c" stroke-width="1.15" stroke-dasharray="6.2 2.9"/>
<line x1="445.90" y1="376.00" x2="445.90" y2="378.40" stroke="#aaa" stroke-width="0.6" />
<line x1="466.10" y1="376.00" x2="466.10" y2="247.00" stroke="#f21c1c" stroke-width="1.15" stroke-dasharray="6.2 2.9"/>
<line x1="466.10" y1="376.00" x2="466.10" y2="378.40" stroke="#aaa" stroke-width="0.6" />
<line x1="492.00" y1="376.00" x2="492.00" y2="247.00" stroke="#f21c1c" stroke-width="1.15" stroke-dasharray="6.2 2.9"/>
<line x1="492.00" y1="376.00" x2="492.00" y2="378.40" stroke="#aaa" stroke-width="0.6" />
<line x1="507.10" y1="376.00" x2="507.10" y2="247.00" stroke="#f21c1c" stroke-width="1.15" stroke-dasharray="6.2 2.9"/>
<line x1="507.10" y1="376.00" x2="507.10" y2="378.40" stroke="#aaa" stroke-width="0.6" />
<line x1="521.10" y1="376.00" x2="521.10" y2="247.00" stroke="#f21c1c" stroke-width="1.15" stroke-dasharray="6.2 2.9"/>
<line x1="521.10" y1="376.00" x2="521.10" y2="378.40" stroke="#aaa" stroke-width="0.6" />
<line x1="540.90" y1="376.00" x2="540.90" y2="247.00" stroke="#f21c1c" stroke-width="1.15" stroke-dasharray="6.2 2.9"/>
<line x1="540.90" y1="376.00" x2="540.90" y2="378.40" stroke="#aaa" stroke-width="0.6" />
<line x1="441.40" y1="247.00" x2="441.40" y2="376.30" stroke="#6a6a6a" stroke-width="0.75" />
<line x1="441.10" y1="376.00" x2="545.50" y2="376.00" stroke="#b0b0b0" stroke-width="0.8" />
<line x1="439.00" y1="249.30" x2="441.40" y2="249.30" stroke="#6a6a6a" stroke-width="0.6" />
<line x1="439.00" y1="252.49" x2="441.40" y2="252.49" stroke="#6a6a6a" stroke-width="0.6" />
<line x1="439.00" y1="255.68" x2="441.40" y2="255.68" stroke="#6a6a6a" stroke-width="0.6" />
<line x1="439.00" y1="258.88" x2="441.40" y2="258.88" stroke="#6a6a6a" stroke-width="0.6" />
<line x1="439.00" y1="262.07" x2="441.40" y2="262.07" stroke="#6a6a6a" stroke-width="0.6" />
<line x1="439.00" y1="265.26" x2="441.40" y2="265.26" stroke="#6a6a6a" stroke-width="0.6" />
<line x1="439.00" y1="268.45" x2="441.40" y2="268.45" stroke="#6a6a6a" stroke-width="0.6" />
<line x1="439.00" y1="271.65" x2="441.40" y2="271.65" stroke="#6a6a6a" stroke-width="0.6" />
<line x1="439.00" y1="274.84" x2="441.40" y2="274.84" stroke="#6a6a6a" stroke-width="0.6" />
<line x1="439.00" y1="278.03" x2="441.40" y2="278.03" stroke="#6a6a6a" stroke-width="0.6" />
<line x1="439.00" y1="281.22" x2="441.40" y2="281.22" stroke="#6a6a6a" stroke-width="0.6" />
<line x1="439.00" y1="284.42" x2="441.40" y2="284.42" stroke="#6a6a6a" stroke-width="0.6" />
<line x1="439.00" y1="287.61" x2="441.40" y2="287.61" stroke="#6a6a6a" stroke-width="0.6" />
<line x1="439.00" y1="290.80" x2="441.40" y2="290.80" stroke="#6a6a6a" stroke-width="0.6" />
<line x1="439.00" y1="293.99" x2="441.40" y2="293.99" stroke="#6a6a6a" stroke-width="0.6" />
<line x1="439.00" y1="297.18" x2="441.40" y2="297.18" stroke="#6a6a6a" stroke-width="0.6" />
<line x1="439.00" y1="300.38" x2="441.40" y2="300.38" stroke="#6a6a6a" stroke-width="0.6" />
<line x1="439.00" y1="303.57" x2="441.40" y2="303.57" stroke="#6a6a6a" stroke-width="0.6" />
<line x1="439.00" y1="306.76" x2="441.40" y2="306.76" stroke="#6a6a6a" stroke-width="0.6" />
<line x1="439.00" y1="309.95" x2="441.40" y2="309.95" stroke="#6a6a6a" stroke-width="0.6" />
<line x1="439.00" y1="313.15" x2="441.40" y2="313.15" stroke="#6a6a6a" stroke-width="0.6" />
<line x1="439.00" y1="316.34" x2="441.40" y2="316.34" stroke="#6a6a6a" stroke-width="0.6" />
<line x1="439.00" y1="319.53" x2="441.40" y2="319.53" stroke="#6a6a6a" stroke-width="0.6" />
<line x1="439.00" y1="322.72" x2="441.40" y2="322.72" stroke="#6a6a6a" stroke-width="0.6" />
<line x1="439.00" y1="325.92" x2="441.40" y2="325.92" stroke="#6a6a6a" stroke-width="0.6" />
<line x1="439.00" y1="329.11" x2="441.40" y2="329.11" stroke="#6a6a6a" stroke-width="0.6" />
<line x1="439.00" y1="332.30" x2="441.40" y2="332.30" stroke="#6a6a6a" stroke-width="0.6" />
<line x1="439.00" y1="335.49" x2="441.40" y2="335.49" stroke="#6a6a6a" stroke-width="0.6" />
<line x1="439.00" y1="338.68" x2="441.40" y2="338.68" stroke="#6a6a6a" stroke-width="0.6" />
<line x1="439.00" y1="341.88" x2="441.40" y2="341.88" stroke="#6a6a6a" stroke-width="0.6" />
<line x1="439.00" y1="345.07" x2="441.40" y2="345.07" stroke="#6a6a6a" stroke-width="0.6" />
<line x1="439.00" y1="348.26" x2="441.40" y2="348.26" stroke="#6a6a6a" stroke-width="0.6" />
<line x1="439.00" y1="351.45" x2="441.40" y2="351.45" stroke="#6a6a6a" stroke-width="0.6" />
<line x1="439.00" y1="354.65" x2="441.40" y2="354.65" stroke="#6a6a6a" stroke-width="0.6" />
<line x1="439.00" y1="357.84" x2="441.40" y2="357.84" stroke="#6a6a6a" stroke-width="0.6" />
<line x1="439.00" y1="361.03" x2="441.40" y2="361.03" stroke="#6a6a6a" stroke-width="0.6" />
<line x1="439.00" y1="364.22" x2="441.40" y2="364.22" stroke="#6a6a6a" stroke-width="0.6" />
<line x1="439.00" y1="367.42" x2="441.40" y2="367.42" stroke="#6a6a6a" stroke-width="0.6" />
<line x1="439.00" y1="370.61" x2="441.40" y2="370.61" stroke="#6a6a6a" stroke-width="0.6" />
<line x1="439.00" y1="373.80" x2="441.40" y2="373.80" stroke="#6a6a6a" stroke-width="0.6" />
<line x1="503.00" y1="252.49" x2="523.10" y2="252.49" stroke="#1a1a1a" stroke-width="0.85" />
<line x1="511.10" y1="255.68" x2="515.10" y2="255.68" stroke="#1a1a1a" stroke-width="0.85" />
<line x1="505.10" y1="262.07" x2="516.40" y2="262.07" stroke="#1a1a1a" stroke-width="0.85" />
<line x1="508.70" y1="265.26" x2="511.90" y2="265.26" stroke="#1a1a1a" stroke-width="0.85" />
<line x1="502.60" y1="268.45" x2="511.60" y2="268.45" stroke="#1a1a1a" stroke-width="0.85" />
<line x1="494.50" y1="271.65" x2="513.50" y2="271.65" stroke="#1a1a1a" stroke-width="0.85" />
<line x1="490.20" y1="274.84" x2="515.90" y2="274.84" stroke="#1a1a1a" stroke-width="0.85" />
<line x1="484.60" y1="278.03" x2="517.50" y2="278.03" stroke="#1a1a1a" stroke-width="0.85" />
<line x1="485.90" y1="281.22" x2="514.80" y2="281.22" stroke="#1a1a1a" stroke-width="0.85" />
<line x1="496.90" y1="284.42" x2="503.80" y2="284.42" stroke="#1a1a1a" stroke-width="0.85" />
<line x1="476.50" y1="287.61" x2="523.60" y2="287.61" stroke="#1a1a1a" stroke-width="0.85" />
<line x1="493.40" y1="290.80" x2="505.10" y2="290.80" stroke="#1a1a1a" stroke-width="0.85" />
<line x1="478.50" y1="293.99" x2="520.40" y2="293.99" stroke="#1a1a1a" stroke-width="0.85" />
<line x1="480.10" y1="297.18" x2="513.80" y2="297.18" stroke="#1a1a1a" stroke-width="0.85" />
<line x1="472.50" y1="300.38" x2="520.40" y2="300.38" stroke="#1a1a1a" stroke-width="0.85" />
<line x1="485.40" y1="303.57" x2="504.30" y2="303.57" stroke="#1a1a1a" stroke-width="0.85" />
<line x1="474.60" y1="306.76" x2="511.60" y2="306.76" stroke="#9a9a9a" stroke-width="0.85" />
<line x1="484.90" y1="309.95" x2="500.30" y2="309.95" stroke="#1a1a1a" stroke-width="0.85" />
<line x1="481.00" y1="313.15" x2="503.00" y2="313.15" stroke="#1a1a1a" stroke-width="0.85" />
<line x1="485.70" y1="316.34" x2="497.90" y2="316.34" stroke="#1a1a1a" stroke-width="0.85" />
<line x1="486.70" y1="319.53" x2="496.90" y2="319.53" stroke="#1a1a1a" stroke-width="0.85" />
<line x1="476.50" y1="322.72" x2="501.40" y2="322.72" stroke="#9a9a9a" stroke-width="0.85" />
<line x1="479.40" y1="325.92" x2="495.80" y2="325.92" stroke="#1a1a1a" stroke-width="0.85" />
<line x1="456.80" y1="332.30" x2="516.70" y2="332.30" stroke="#1a1a1a" stroke-width="0.85" />
<line x1="472.20" y1="335.49" x2="499.80" y2="335.49" stroke="#1a1a1a" stroke-width="0.85" />
<line x1="453.60" y1="338.68" x2="513.20" y2="338.68" stroke="#9a9a9a" stroke-width="0.85" />
<line x1="456.50" y1="341.88" x2="507.50" y2="341.88" stroke="#1a1a1a" stroke-width="0.85" />
<line x1="470.10" y1="345.07" x2="493.90" y2="345.07" stroke="#1a1a1a" stroke-width="0.85" />
<line x1="470.10" y1="348.26" x2="493.90" y2="348.26" stroke="#1a1a1a" stroke-width="0.85" />
<line x1="472.50" y1="357.84" x2="485.70" y2="357.84" stroke="#1a1a1a" stroke-width="0.85" />
<line x1="457.60" y1="364.22" x2="470.40" y2="364.22" stroke="#1a1a1a" stroke-width="0.85" />
<circle cx="515.40" cy="249.30" r="1.35" fill="#000"/>
<circle cx="503.00" cy="252.49" r="1.35" fill="#000"/>
<circle cx="523.10" cy="252.49" r="1.35" fill="#000"/>
<circle cx="511.10" cy="255.68" r="1.35" fill="#000"/>
<circle cx="515.10" cy="255.68" r="1.35" fill="#000"/>
<circle cx="511.60" cy="258.88" r="1.35" fill="#000"/>
<circle cx="505.10" cy="262.07" r="1.35" fill="#000"/>
<circle cx="516.40" cy="262.07" r="1.35" fill="#000"/>
<circle cx="508.70" cy="265.26" r="1.35" fill="#000"/>
<circle cx="511.90" cy="265.26" r="1.35" fill="#000"/>
<circle cx="502.60" cy="268.45" r="1.35" fill="#000"/>
<circle cx="511.60" cy="268.45" r="1.35" fill="#000"/>
<circle cx="494.50" cy="271.65" r="1.35" fill="#000"/>
<circle cx="513.50" cy="271.65" r="1.35" fill="#000"/>
<circle cx="490.20" cy="274.84" r="1.35" fill="#000"/>
<circle cx="515.90" cy="274.84" r="1.35" fill="#000"/>
<circle cx="484.60" cy="278.03" r="1.35" fill="#000"/>
<circle cx="517.50" cy="278.03" r="1.35" fill="#000"/>
<circle cx="485.90" cy="281.22" r="1.35" fill="#000"/>
<circle cx="514.80" cy="281.22" r="1.35" fill="#000"/>
<circle cx="496.90" cy="284.42" r="1.35" fill="#000"/>
<circle cx="503.80" cy="284.42" r="1.35" fill="#000"/>
<circle cx="476.50" cy="287.61" r="1.35" fill="#000"/>
<circle cx="523.60" cy="287.61" r="1.35" fill="#000"/>
<circle cx="493.40" cy="290.80" r="1.35" fill="#000"/>
<circle cx="505.10" cy="290.80" r="1.35" fill="#000"/>
<circle cx="478.50" cy="293.99" r="1.35" fill="#000"/>
<circle cx="520.40" cy="293.99" r="1.35" fill="#000"/>
<circle cx="480.10" cy="297.18" r="1.35" fill="#000"/>
<circle cx="513.80" cy="297.18" r="1.35" fill="#000"/>
<circle cx="472.50" cy="300.38" r="1.35" fill="#000"/>
<circle cx="520.40" cy="300.38" r="1.35" fill="#000"/>
<circle cx="485.40" cy="303.57" r="1.35" fill="#000"/>
<circle cx="504.30" cy="303.57" r="1.35" fill="#000"/>
<circle cx="474.60" cy="306.76" r="1.35" fill="#000"/>
<circle cx="511.60" cy="306.76" r="1.35" fill="#000"/>
<circle cx="484.90" cy="309.95" r="1.35" fill="#000"/>
<circle cx="500.30" cy="309.95" r="1.35" fill="#000"/>
<circle cx="481.00" cy="313.15" r="1.35" fill="#000"/>
<circle cx="503.00" cy="313.15" r="1.35" fill="#000"/>
<circle cx="485.70" cy="316.34" r="1.35" fill="#000"/>
<circle cx="497.90" cy="316.34" r="1.35" fill="#000"/>
<circle cx="486.70" cy="319.53" r="1.35" fill="#000"/>
<circle cx="496.90" cy="319.53" r="1.35" fill="#000"/>
<circle cx="476.50" cy="322.72" r="1.35" fill="#000"/>
<circle cx="501.40" cy="322.72" r="1.35" fill="#000"/>
<circle cx="479.40" cy="325.92" r="1.35" fill="#000"/>
<circle cx="495.80" cy="325.92" r="1.35" fill="#000"/>
<circle cx="487.50" cy="329.11" r="1.35" fill="#000"/>
<circle cx="456.80" cy="332.30" r="1.35" fill="#000"/>
<circle cx="516.70" cy="332.30" r="1.35" fill="#000"/>
<circle cx="472.20" cy="335.49" r="1.35" fill="#000"/>
<circle cx="499.80" cy="335.49" r="1.35" fill="#000"/>
<circle cx="453.60" cy="338.68" r="1.35" fill="#000"/>
<circle cx="513.20" cy="338.68" r="1.35" fill="#000"/>
<circle cx="456.50" cy="341.88" r="1.35" fill="#000"/>
<circle cx="507.50" cy="341.88" r="1.35" fill="#000"/>
<circle cx="470.10" cy="345.07" r="1.35" fill="#000"/>
<circle cx="493.90" cy="345.07" r="1.35" fill="#000"/>
<circle cx="470.10" cy="348.26" r="1.35" fill="#000"/>
<circle cx="493.90" cy="348.26" r="1.35" fill="#000"/>
<circle cx="481.00" cy="351.45" r="1.35" fill="#000"/>
<circle cx="480.10" cy="354.65" r="1.35" fill="#000"/>
<circle cx="472.50" cy="357.84" r="1.35" fill="#000"/>
<circle cx="485.70" cy="357.84" r="1.35" fill="#000"/>
<circle cx="476.10" cy="361.03" r="1.35" fill="#000"/>
<circle cx="457.60" cy="364.22" r="1.35" fill="#000"/>
<circle cx="470.40" cy="364.22" r="1.35" fill="#000"/>
<circle cx="456.50" cy="367.42" r="1.35" fill="#000"/>
<circle cx="455.30" cy="370.61" r="1.35" fill="#000"/>
<circle cx="454.90" cy="373.80" r="1.35" fill="#000"/>
<text x="493.50" y="241.30" font-size="8.0" fill="#1a1a1a" stroke="#1a1a1a" stroke-width="0.12" text-anchor="middle" ><tspan font-style="italic">Pten</tspan><tspan font-style="italic" font-size="5.2" dy="-3.2">null</tspan></text>
<line x1="330.30" y1="520.40" x2="330.30" y2="392.40" stroke="#f21c1c" stroke-width="1.15" stroke-dasharray="6.2 2.9"/>
<line x1="330.30" y1="520.40" x2="330.30" y2="522.80" stroke="#aaa" stroke-width="0.6" />
<line x1="350.50" y1="520.40" x2="350.50" y2="392.40" stroke="#f21c1c" stroke-width="1.15" stroke-dasharray="6.2 2.9"/>
<line x1="350.50" y1="520.40" x2="350.50" y2="522.80" stroke="#aaa" stroke-width="0.6" />
<line x1="376.40" y1="520.40" x2="376.40" y2="392.40" stroke="#f21c1c" stroke-width="1.15" stroke-dasharray="6.2 2.9"/>
<line x1="376.40" y1="520.40" x2="376.40" y2="522.80" stroke="#aaa" stroke-width="0.6" />
<line x1="391.50" y1="520.40" x2="391.50" y2="392.40" stroke="#f21c1c" stroke-width="1.15" stroke-dasharray="6.2 2.9"/>
<line x1="391.50" y1="520.40" x2="391.50" y2="522.80" stroke="#aaa" stroke-width="0.6" />
<line x1="405.50" y1="520.40" x2="405.50" y2="392.40" stroke="#f21c1c" stroke-width="1.15" stroke-dasharray="6.2 2.9"/>
<line x1="405.50" y1="520.40" x2="405.50" y2="522.80" stroke="#aaa" stroke-width="0.6" />
<line x1="425.30" y1="520.40" x2="425.30" y2="392.40" stroke="#f21c1c" stroke-width="1.15" stroke-dasharray="6.2 2.9"/>
<line x1="425.30" y1="520.40" x2="425.30" y2="522.80" stroke="#aaa" stroke-width="0.6" />
<line x1="325.70" y1="392.40" x2="325.70" y2="520.70" stroke="#6a6a6a" stroke-width="0.75" />
<line x1="325.40" y1="520.40" x2="430.10" y2="520.40" stroke="#b0b0b0" stroke-width="0.8" />
<line x1="323.30" y1="394.90" x2="325.70" y2="394.90" stroke="#6a6a6a" stroke-width="0.6" />
<line x1="323.30" y1="399.17" x2="325.70" y2="399.17" stroke="#6a6a6a" stroke-width="0.6" />
<line x1="323.30" y1="403.43" x2="325.70" y2="403.43" stroke="#6a6a6a" stroke-width="0.6" />
<line x1="323.30" y1="407.70" x2="325.70" y2="407.70" stroke="#6a6a6a" stroke-width="0.6" />
<line x1="323.30" y1="411.96" x2="325.70" y2="411.96" stroke="#6a6a6a" stroke-width="0.6" />
<line x1="323.30" y1="416.23" x2="325.70" y2="416.23" stroke="#6a6a6a" stroke-width="0.6" />
<line x1="323.30" y1="420.49" x2="325.70" y2="420.49" stroke="#6a6a6a" stroke-width="0.6" />
<line x1="323.30" y1="424.76" x2="325.70" y2="424.76" stroke="#6a6a6a" stroke-width="0.6" />
<line x1="323.30" y1="429.02" x2="325.70" y2="429.02" stroke="#6a6a6a" stroke-width="0.6" />
<line x1="323.30" y1="433.29" x2="325.70" y2="433.29" stroke="#6a6a6a" stroke-width="0.6" />
<line x1="323.30" y1="437.56" x2="325.70" y2="437.56" stroke="#6a6a6a" stroke-width="0.6" />
<line x1="323.30" y1="441.82" x2="325.70" y2="441.82" stroke="#6a6a6a" stroke-width="0.6" />
<line x1="323.30" y1="446.09" x2="325.70" y2="446.09" stroke="#6a6a6a" stroke-width="0.6" />
<line x1="323.30" y1="450.35" x2="325.70" y2="450.35" stroke="#6a6a6a" stroke-width="0.6" />
<line x1="323.30" y1="454.62" x2="325.70" y2="454.62" stroke="#6a6a6a" stroke-width="0.6" />
<line x1="323.30" y1="458.88" x2="325.70" y2="458.88" stroke="#6a6a6a" stroke-width="0.6" />
<line x1="323.30" y1="463.15" x2="325.70" y2="463.15" stroke="#6a6a6a" stroke-width="0.6" />
<line x1="323.30" y1="467.41" x2="325.70" y2="467.41" stroke="#6a6a6a" stroke-width="0.6" />
<line x1="323.30" y1="471.68" x2="325.70" y2="471.68" stroke="#6a6a6a" stroke-width="0.6" />
<line x1="323.30" y1="475.94" x2="325.70" y2="475.94" stroke="#6a6a6a" stroke-width="0.6" />
<line x1="323.30" y1="480.21" x2="325.70" y2="480.21" stroke="#6a6a6a" stroke-width="0.6" />
<line x1="323.30" y1="484.48" x2="325.70" y2="484.48" stroke="#6a6a6a" stroke-width="0.6" />
<line x1="323.30" y1="488.74" x2="325.70" y2="488.74" stroke="#6a6a6a" stroke-width="0.6" />
<line x1="323.30" y1="493.01" x2="325.70" y2="493.01" stroke="#6a6a6a" stroke-width="0.6" />
<line x1="323.30" y1="497.27" x2="325.70" y2="497.27" stroke="#6a6a6a" stroke-width="0.6" />
<line x1="323.30" y1="501.54" x2="325.70" y2="501.54" stroke="#6a6a6a" stroke-width="0.6" />
<line x1="323.30" y1="505.80" x2="325.70" y2="505.80" stroke="#6a6a6a" stroke-width="0.6" />
<line x1="323.30" y1="510.07" x2="325.70" y2="510.07" stroke="#6a6a6a" stroke-width="0.6" />
<line x1="323.30" y1="514.33" x2="325.70" y2="514.33" stroke="#6a6a6a" stroke-width="0.6" />
<line x1="323.30" y1="518.60" x2="325.70" y2="518.60" stroke="#6a6a6a" stroke-width="0.6" />
<line x1="410.70" y1="394.90" x2="413.10" y2="394.90" stroke="#1a1a1a" stroke-width="0.85" />
<line x1="405.90" y1="399.17" x2="415.10" y2="399.17" stroke="#1a1a1a" stroke-width="0.85" />
<line x1="372.20" y1="407.70" x2="413.10" y2="407.70" stroke="#9a9a9a" stroke-width="0.85" />
<line x1="365.80" y1="416.23" x2="415.10" y2="416.23" stroke="#1a1a1a" stroke-width="0.85" />
<line x1="381.80" y1="420.49" x2="397.10" y2="420.49" stroke="#1a1a1a" stroke-width="0.85" />
<line x1="356.10" y1="424.76" x2="411.50" y2="424.76" stroke="#9a9a9a" stroke-width="0.85" />
<line x1="359.30" y1="429.02" x2="406.70" y2="429.02" stroke="#9a9a9a" stroke-width="0.85" />
<line x1="371.40" y1="433.29" x2="393.40" y2="433.29" stroke="#1a1a1a" stroke-width="0.85" />
<line x1="358.50" y1="437.56" x2="402.70" y2="437.56" stroke="#1a1a1a" stroke-width="0.85" />
<line x1="355.00" y1="441.82" x2="402.70" y2="441.82" stroke="#9a9a9a" stroke-width="0.85" />
<line x1="366.60" y1="450.35" x2="382.30" y2="450.35" stroke="#1a1a1a" stroke-width="0.85" />
<line x1="338.50" y1="454.62" x2="407.00" y2="454.62" stroke="#1a1a1a" stroke-width="0.85" />
<line x1="347.80" y1="467.41" x2="387.80" y2="467.41" stroke="#1a1a1a" stroke-width="0.85" />
<line x1="364.20" y1="471.68" x2="369.50" y2="471.68" stroke="#1a1a1a" stroke-width="0.85" />
<line x1="340.90" y1="480.21" x2="390.70" y2="480.21" stroke="#1a1a1a" stroke-width="0.85" />
<line x1="359.30" y1="484.48" x2="366.10" y2="484.48" stroke="#1a1a1a" stroke-width="0.85" />
<line x1="358.50" y1="488.74" x2="361.40" y2="488.74" stroke="#1a1a1a" stroke-width="0.85" />
<line x1="356.60" y1="493.01" x2="361.00" y2="493.01" stroke="#1a1a1a" stroke-width="0.85" />
<circle cx="410.70" cy="394.90" r="1.35" fill="#000"/>
<circle cx="413.10" cy="394.90" r="1.35" fill="#000"/>
<circle cx="405.90" cy="399.17" r="1.35" fill="#000"/>
<circle cx="415.10" cy="399.17" r="1.35" fill="#000"/>
<circle cx="401.10" cy="403.43" r="1.35" fill="#000"/>
<circle cx="372.20" cy="407.70" r="1.35" fill="#000"/>
<circle cx="413.10" cy="407.70" r="1.35" fill="#000"/>
<circle cx="392.60" cy="411.96" r="1.35" fill="#000"/>
<circle cx="365.80" cy="416.23" r="1.35" fill="#000"/>
<circle cx="415.10" cy="416.23" r="1.35" fill="#000"/>
<circle cx="381.80" cy="420.49" r="1.35" fill="#000"/>
<circle cx="397.10" cy="420.49" r="1.35" fill="#000"/>
<circle cx="356.10" cy="424.76" r="1.35" fill="#000"/>
<circle cx="411.50" cy="424.76" r="1.35" fill="#000"/>
<circle cx="359.30" cy="429.02" r="1.35" fill="#000"/>
<circle cx="406.70" cy="429.02" r="1.35" fill="#000"/>
<circle cx="371.40" cy="433.29" r="1.35" fill="#000"/>
<circle cx="393.40" cy="433.29" r="1.35" fill="#000"/>
<circle cx="358.50" cy="437.56" r="1.35" fill="#000"/>
<circle cx="402.70" cy="437.56" r="1.35" fill="#000"/>
<circle cx="355.00" cy="441.82" r="1.35" fill="#000"/>
<circle cx="402.70" cy="441.82" r="1.35" fill="#000"/>
<circle cx="376.20" cy="446.09" r="1.35" fill="#000"/>
<circle cx="366.60" cy="450.35" r="1.35" fill="#000"/>
<circle cx="382.30" cy="450.35" r="1.35" fill="#000"/>
<circle cx="338.50" cy="454.62" r="1.35" fill="#000"/>
<circle cx="407.00" cy="454.62" r="1.35" fill="#000"/>
<circle cx="372.20" cy="458.88" r="1.35" fill="#000"/>
<circle cx="371.90" cy="463.15" r="1.35" fill="#000"/>
<circle cx="347.80" cy="467.41" r="1.35" fill="#000"/>
<circle cx="387.80" cy="467.41" r="1.35" fill="#000"/>
<circle cx="364.20" cy="471.68" r="1.35" fill="#000"/>
<circle cx="369.50" cy="471.68" r="1.35" fill="#000"/>
<circle cx="366.10" cy="475.94" r="1.35" fill="#000"/>
<circle cx="340.90" cy="480.21" r="1.35" fill="#000"/>
<circle cx="390.70" cy="480.21" r="1.35" fill="#000"/>
<circle cx="359.30" cy="484.48" r="1.35" fill="#000"/>
<circle cx="366.10" cy="484.48" r="1.35" fill="#000"/>
<circle cx="358.50" cy="488.74" r="1.35" fill="#000"/>
<circle cx="361.40" cy="488.74" r="1.35" fill="#000"/>
<circle cx="356.60" cy="493.01" r="1.35" fill="#000"/>
<circle cx="361.00" cy="493.01" r="1.35" fill="#000"/>
<circle cx="357.40" cy="497.27" r="1.35" fill="#000"/>
<circle cx="356.60" cy="501.54" r="1.35" fill="#000"/>
<circle cx="342.50" cy="505.80" r="1.35" fill="#000"/>
<circle cx="340.90" cy="510.07" r="1.35" fill="#000"/>
<circle cx="340.10" cy="514.33" r="1.35" fill="#000"/>
<circle cx="339.60" cy="518.60" r="1.35" fill="#000"/>
<text x="375.00" y="388.60" font-size="8.0" fill="#1a1a1a" stroke="#1a1a1a" stroke-width="0.12" text-anchor="middle" ><tspan font-style="italic">Trp53</tspan><tspan font-style="italic" font-size="5.2" dy="-3.2">afl</tspan></text>
<line x1="445.90" y1="520.40" x2="445.90" y2="392.40" stroke="#f21c1c" stroke-width="1.15" stroke-dasharray="6.2 2.9"/>
<line x1="445.90" y1="520.40" x2="445.90" y2="522.80" stroke="#aaa" stroke-width="0.6" />
<line x1="466.10" y1="520.40" x2="466.10" y2="392.40" stroke="#f21c1c" stroke-width="1.15" stroke-dasharray="6.2 2.9"/>
<line x1="466.10" y1="520.40" x2="466.10" y2="522.80" stroke="#aaa" stroke-width="0.6" />
<line x1="492.00" y1="520.40" x2="492.00" y2="392.40" stroke="#f21c1c" stroke-width="1.15" stroke-dasharray="6.2 2.9"/>
<line x1="492.00" y1="520.40" x2="492.00" y2="522.80" stroke="#aaa" stroke-width="0.6" />
<line x1="507.10" y1="520.40" x2="507.10" y2="392.40" stroke="#f21c1c" stroke-width="1.15" stroke-dasharray="6.2 2.9"/>
<line x1="507.10" y1="520.40" x2="507.10" y2="522.80" stroke="#aaa" stroke-width="0.6" />
<line x1="521.10" y1="520.40" x2="521.10" y2="392.40" stroke="#f21c1c" stroke-width="1.15" stroke-dasharray="6.2 2.9"/>
<line x1="521.10" y1="520.40" x2="521.10" y2="522.80" stroke="#aaa" stroke-width="0.6" />
<line x1="540.90" y1="520.40" x2="540.90" y2="392.40" stroke="#f21c1c" stroke-width="1.15" stroke-dasharray="6.2 2.9"/>
<line x1="540.90" y1="520.40" x2="540.90" y2="522.80" stroke="#aaa" stroke-width="0.6" />
<line x1="441.40" y1="392.40" x2="441.40" y2="520.70" stroke="#6a6a6a" stroke-width="0.75" />
<line x1="441.10" y1="520.40" x2="545.50" y2="520.40" stroke="#b0b0b0" stroke-width="0.8" />
<line x1="439.00" y1="395.30" x2="441.40" y2="395.30" stroke="#6a6a6a" stroke-width="0.6" />
<line x1="439.00" y1="400.63" x2="441.40" y2="400.63" stroke="#6a6a6a" stroke-width="0.6" />
<line x1="439.00" y1="405.96" x2="441.40" y2="405.96" stroke="#6a6a6a" stroke-width="0.6" />
<line x1="439.00" y1="411.29" x2="441.40" y2="411.29" stroke="#6a6a6a" stroke-width="0.6" />
<line x1="439.00" y1="416.62" x2="441.40" y2="416.62" stroke="#6a6a6a" stroke-width="0.6" />
<line x1="439.00" y1="421.95" x2="441.40" y2="421.95" stroke="#6a6a6a" stroke-width="0.6" />
<line x1="439.00" y1="427.28" x2="441.40" y2="427.28" stroke="#6a6a6a" stroke-width="0.6" />
<line x1="439.00" y1="432.61" x2="441.40" y2="432.61" stroke="#6a6a6a" stroke-width="0.6" />
<line x1="439.00" y1="437.94" x2="441.40" y2="437.94" stroke="#6a6a6a" stroke-width="0.6" />
<line x1="439.00" y1="443.27" x2="441.40" y2="443.27" stroke="#6a6a6a" stroke-width="0.6" />
<line x1="439.00" y1="448.60" x2="441.40" y2="448.60" stroke="#6a6a6a" stroke-width="0.6" />
<line x1="439.00" y1="453.93" x2="441.40" y2="453.93" stroke="#6a6a6a" stroke-width="0.6" />
<line x1="439.00" y1="459.27" x2="441.40" y2="459.27" stroke="#6a6a6a" stroke-width="0.6" />
<line x1="439.00" y1="464.60" x2="441.40" y2="464.60" stroke="#6a6a6a" stroke-width="0.6" />
<line x1="439.00" y1="469.93" x2="441.40" y2="469.93" stroke="#6a6a6a" stroke-width="0.6" />
<line x1="439.00" y1="475.26" x2="441.40" y2="475.26" stroke="#6a6a6a" stroke-width="0.6" />
<line x1="439.00" y1="480.59" x2="441.40" y2="480.59" stroke="#6a6a6a" stroke-width="0.6" />
<line x1="439.00" y1="485.92" x2="441.40" y2="485.92" stroke="#6a6a6a" stroke-width="0.6" />
<line x1="439.00" y1="491.25" x2="441.40" y2="491.25" stroke="#6a6a6a" stroke-width="0.6" />
<line x1="439.00" y1="496.58" x2="441.40" y2="496.58" stroke="#6a6a6a" stroke-width="0.6" />
<line x1="439.00" y1="501.91" x2="441.40" y2="501.91" stroke="#6a6a6a" stroke-width="0.6" />
<line x1="439.00" y1="507.24" x2="441.40" y2="507.24" stroke="#6a6a6a" stroke-width="0.6" />
<line x1="439.00" y1="512.57" x2="441.40" y2="512.57" stroke="#6a6a6a" stroke-width="0.6" />
<line x1="439.00" y1="517.90" x2="441.40" y2="517.90" stroke="#6a6a6a" stroke-width="0.6" />
<line x1="511.60" y1="400.63" x2="525.20" y2="400.63" stroke="#9a9a9a" stroke-width="0.85" />
<line x1="495.50" y1="443.27" x2="504.20" y2="443.27" stroke="#1a1a1a" stroke-width="0.85" />
<line x1="476.50" y1="448.60" x2="522.30" y2="448.60" stroke="#1a1a1a" stroke-width="0.85" />
<line x1="486.50" y1="453.93" x2="511.10" y2="453.93" stroke="#9a9a9a" stroke-width="0.85" />
<line x1="470.90" y1="459.27" x2="518.00" y2="459.27" stroke="#1a1a1a" stroke-width="0.85" />
<line x1="470.40" y1="464.60" x2="512.20" y2="464.60" stroke="#9a9a9a" stroke-width="0.85" />
<line x1="486.70" y1="469.93" x2="490.20" y2="469.93" stroke="#1a1a1a" stroke-width="0.85" />
<line x1="455.20" y1="475.26" x2="520.20" y2="475.26" stroke="#1a1a1a" stroke-width="0.85" />
<line x1="458.90" y1="480.59" x2="510.30" y2="480.59" stroke="#9a9a9a" stroke-width="0.85" />
<line x1="476.10" y1="485.92" x2="489.70" y2="485.92" stroke="#9a9a9a" stroke-width="0.85" />
<line x1="473.00" y1="491.25" x2="485.40" y2="491.25" stroke="#1a1a1a" stroke-width="0.85" />
<line x1="470.40" y1="496.58" x2="482.20" y2="496.58" stroke="#1a1a1a" stroke-width="0.85" />
<line x1="453.30" y1="512.57" x2="458.40" y2="512.57" stroke="#1a1a1a" stroke-width="0.85" />
<line x1="454.10" y1="517.90" x2="455.20" y2="517.90" stroke="#1a1a1a" stroke-width="0.85" />
<circle cx="528.70" cy="395.30" r="1.35" fill="#000"/>
<circle cx="511.60" cy="400.63" r="1.35" fill="#000"/>
<circle cx="525.20" cy="400.63" r="1.35" fill="#000"/>
<circle cx="514.80" cy="405.96" r="1.35" fill="#000"/>
<circle cx="512.40" cy="411.29" r="1.35" fill="#000"/>
<circle cx="510.60" cy="416.62" r="1.35" fill="#000"/>
<circle cx="509.90" cy="421.95" r="1.35" fill="#000"/>
<circle cx="506.70" cy="427.28" r="1.35" fill="#000"/>
<circle cx="505.40" cy="432.61" r="1.35" fill="#000"/>
<circle cx="502.20" cy="437.94" r="1.35" fill="#000"/>
<circle cx="495.50" cy="443.27" r="1.35" fill="#000"/>
<circle cx="504.20" cy="443.27" r="1.35" fill="#000"/>
<circle cx="476.50" cy="448.60" r="1.35" fill="#000"/>
<circle cx="522.30" cy="448.60" r="1.35" fill="#000"/>
<circle cx="486.50" cy="453.93" r="1.35" fill="#000"/>
<circle cx="511.10" cy="453.93" r="1.35" fill="#000"/>
<circle cx="470.90" cy="459.27" r="1.35" fill="#000"/>
<circle cx="518.00" cy="459.27" r="1.35" fill="#000"/>
<circle cx="470.40" cy="464.60" r="1.35" fill="#000"/>
<circle cx="512.20" cy="464.60" r="1.35" fill="#000"/>
<circle cx="486.70" cy="469.93" r="1.35" fill="#000"/>
<circle cx="490.20" cy="469.93" r="1.35" fill="#000"/>
<circle cx="455.20" cy="475.26" r="1.35" fill="#000"/>
<circle cx="520.20" cy="475.26" r="1.35" fill="#000"/>
<circle cx="458.90" cy="480.59" r="1.35" fill="#000"/>
<circle cx="510.30" cy="480.59" r="1.35" fill="#000"/>
<circle cx="476.10" cy="485.92" r="1.35" fill="#000"/>
<circle cx="489.70" cy="485.92" r="1.35" fill="#000"/>
<circle cx="473.00" cy="491.25" r="1.35" fill="#000"/>
<circle cx="485.40" cy="491.25" r="1.35" fill="#000"/>
<circle cx="470.40" cy="496.58" r="1.35" fill="#000"/>
<circle cx="482.20" cy="496.58" r="1.35" fill="#000"/>
<circle cx="456.50" cy="501.91" r="1.35" fill="#000"/>
<circle cx="456.10" cy="507.24" r="1.35" fill="#000"/>
<circle cx="453.30" cy="512.57" r="1.35" fill="#000"/>
<circle cx="458.40" cy="512.57" r="1.35" fill="#000"/>
<circle cx="454.10" cy="517.90" r="1.35" fill="#000"/>
<circle cx="455.20" cy="517.90" r="1.35" fill="#000"/>
<text x="493.50" y="388.60" font-size="8.0" fill="#1a1a1a" stroke="#1a1a1a" stroke-width="0.12" text-anchor="middle" ><tspan font-style="italic">Kras</tspan><tspan font-style="italic" font-size="5.2" dy="-3.2">G12D</tspan></text>
<text transform="translate(316.90,384.80) rotate(-90)" font-size="8.0" fill="#1a1a1a" stroke="#1a1a1a" stroke-width="0.12" text-anchor="middle" >Tumour clone</text>
<text x="306.90" y="534.80" font-size="8.0" fill="#1a1a1a" stroke="#1a1a1a" stroke-width="0.12" >Bin:</text>
<text x="330.30" y="531.80" font-size="8.0" fill="#1a1a1a" stroke="#1a1a1a" stroke-width="0.12" text-anchor="middle" >0</text>
<text x="445.90" y="531.80" font-size="8.0" fill="#1a1a1a" stroke="#1a1a1a" stroke-width="0.12" text-anchor="middle" >0</text>
<text x="426.60" y="531.80" font-size="8.0" fill="#1a1a1a" stroke="#1a1a1a" stroke-width="0.12" text-anchor="middle" >1,586</text>
<text x="340.00" y="534.80" font-size="8.0" fill="#1a1a1a" stroke="#1a1a1a" stroke-width="0.12" text-anchor="middle" >A</text>
<text x="364.00" y="534.80" font-size="8.0" fill="#1a1a1a" stroke="#1a1a1a" stroke-width="0.12" text-anchor="middle" >B</text>
<text x="385.10" y="534.80" font-size="8.0" fill="#1a1a1a" stroke="#1a1a1a" stroke-width="0.12" text-anchor="middle" >C</text>
<text x="399.30" y="534.80" font-size="8.0" fill="#1a1a1a" stroke="#1a1a1a" stroke-width="0.12" text-anchor="middle" >D</text>
<text x="412.90" y="534.80" font-size="8.0" fill="#1a1a1a" stroke="#1a1a1a" stroke-width="0.12" text-anchor="middle" >E</text>
<text x="553.60" y="234.80" font-size="10.5" fill="#000" stroke="#000" stroke-width="0.12" font-weight="bold" >f</text>
<rect x="585.20" y="295.10" width="15.75" height="13.10" fill="#ffdfd4" />
<rect x="600.90" y="295.10" width="15.75" height="13.10" fill="#ffffff" />
<rect x="616.60" y="295.10" width="15.75" height="13.10" fill="#ffded2" />
<rect x="632.30" y="295.10" width="15.75" height="13.10" fill="#ffeae3" />
<rect x="585.20" y="308.15" width="15.75" height="13.10" fill="#ffdfd4" />
<rect x="600.90" y="308.15" width="15.75" height="13.10" fill="#ffffff" />
<rect x="616.60" y="308.15" width="15.75" height="13.10" fill="#ffffff" />
<rect x="632.30" y="308.15" width="15.75" height="13.10" fill="#ffeae3" />
<rect x="585.20" y="321.20" width="15.75" height="13.10" fill="#ffbfaa" />
<rect x="600.90" y="321.20" width="15.75" height="13.10" fill="#ffcebd" />
<rect x="616.60" y="321.20" width="15.75" height="13.10" fill="#ffded2" />
<rect x="632.30" y="321.20" width="15.75" height="13.10" fill="#ffac92" />
<rect x="585.20" y="334.25" width="15.75" height="13.10" fill="#ffcfbf" />
<rect x="600.90" y="334.25" width="15.75" height="13.10" fill="#fff3ee" />
<rect x="616.60" y="334.25" width="15.75" height="13.10" fill="#ffffff" />
<rect x="632.30" y="334.25" width="15.75" height="13.10" fill="#ffffff" />
<rect x="585.20" y="347.30" width="15.75" height="13.10" fill="#ffffff" />
<rect x="600.90" y="347.30" width="15.75" height="13.10" fill="#ffdacd" />
<rect x="616.60" y="347.30" width="15.75" height="13.10" fill="#ffefe9" />
<rect x="632.30" y="347.30" width="15.75" height="13.10" fill="#ffffff" />
<rect x="585.20" y="360.35" width="15.75" height="13.10" fill="#ffefe9" />
<rect x="600.90" y="360.35" width="15.75" height="13.10" fill="#ffe6dd" />
<rect x="616.60" y="360.35" width="15.75" height="13.10" fill="#ffefe9" />
<rect x="632.30" y="360.35" width="15.75" height="13.10" fill="#ffac92" />
<rect x="585.20" y="373.40" width="15.75" height="13.10" fill="#ffefe9" />
<rect x="600.90" y="373.40" width="15.75" height="13.10" fill="#fff3ee" />
<rect x="616.60" y="373.40" width="15.75" height="13.10" fill="#ffbda7" />
<rect x="632.30" y="373.40" width="15.75" height="13.10" fill="#ffeae3" />
<rect x="585.20" y="386.45" width="15.75" height="13.10" fill="#ffefe9" />
<rect x="600.90" y="386.45" width="15.75" height="13.10" fill="#ffa88d" />
<rect x="616.60" y="386.45" width="15.75" height="13.10" fill="#ffcebd" />
<rect x="632.30" y="386.45" width="15.75" height="13.10" fill="#ffc1ac" />
<rect x="585.20" y="399.50" width="15.75" height="13.10" fill="#ffffff" />
<rect x="600.90" y="399.50" width="15.75" height="13.10" fill="#ff7f5f" />
<rect x="616.60" y="399.50" width="15.75" height="13.10" fill="#ffefe9" />
<rect x="632.30" y="399.50" width="15.75" height="13.10" fill="#ffffff" />
<rect x="585.20" y="412.55" width="15.75" height="13.10" fill="#ff0000" />
<rect x="600.90" y="412.55" width="15.75" height="13.10" fill="#ffc1ac" />
<rect x="616.60" y="412.55" width="15.75" height="13.10" fill="#ff6140" />
<rect x="632.30" y="412.55" width="15.75" height="13.10" fill="#ffac92" />
<rect x="585.20" y="425.60" width="15.75" height="13.10" fill="#ffefe9" />
<rect x="600.90" y="425.60" width="15.75" height="13.10" fill="#ffffff" />
<rect x="616.60" y="425.60" width="15.75" height="13.10" fill="#ffefe9" />
<rect x="632.30" y="425.60" width="15.75" height="13.10" fill="#ffffff" />
<rect x="585.20" y="438.65" width="15.75" height="13.10" fill="#ffefe9" />
<rect x="600.90" y="438.65" width="15.75" height="13.10" fill="#ffdacd" />
<rect x="616.60" y="438.65" width="15.75" height="13.10" fill="#ffffff" />
<rect x="632.30" y="438.65" width="15.75" height="13.10" fill="#ffd6c7" />
<rect x="585.20" y="451.70" width="15.75" height="13.10" fill="#ffffff" />
<rect x="600.90" y="451.70" width="15.75" height="13.10" fill="#ffffff" />
<rect x="616.60" y="451.70" width="15.75" height="13.10" fill="#ffded2" />
<rect x="632.30" y="451.70" width="15.75" height="13.10" fill="#ffffff" />
<rect x="585.20" y="464.75" width="15.75" height="13.10" fill="#ffefe9" />
<rect x="600.90" y="464.75" width="15.75" height="13.10" fill="#fff3ee" />
<rect x="616.60" y="464.75" width="15.75" height="13.10" fill="#ffffff" />
<rect x="632.30" y="464.75" width="15.75" height="13.10" fill="#ffffff" />
<rect x="585.20" y="477.80" width="15.75" height="13.10" fill="#ffdfd4" />
<rect x="600.90" y="477.80" width="15.75" height="13.10" fill="#ffdacd" />
<rect x="616.60" y="477.80" width="15.75" height="13.10" fill="#ffbda7" />
<rect x="632.30" y="477.80" width="15.75" height="13.10" fill="#ffac92" />
<text x="592.25" y="304.48" font-size="8.0" fill="#1a1a1a" stroke="#1a1a1a" stroke-width="0.12" text-anchor="middle" >2</text>
<text x="607.95" y="304.48" font-size="8.0" fill="#1a1a1a" stroke="#1a1a1a" stroke-width="0.12" text-anchor="middle" >0</text>
<text x="623.65" y="304.48" font-size="8.0" fill="#1a1a1a" stroke="#1a1a1a" stroke-width="0.12" text-anchor="middle" >2</text>
<text x="639.35" y="304.48" font-size="8.0" fill="#1a1a1a" stroke="#1a1a1a" stroke-width="0.12" text-anchor="middle" >1</text>
<line x1="580.60" y1="301.62" x2="583.40" y2="301.62" stroke="#8a8a8a" stroke-width="0.7" />
<text x="578.40" y="304.43" font-size="8.0" fill="#1a1a1a" stroke="#1a1a1a" stroke-width="0.12" text-anchor="end" >EE</text>
<text x="592.25" y="317.53" font-size="8.0" fill="#1a1a1a" stroke="#1a1a1a" stroke-width="0.12" text-anchor="middle" >2</text>
<text x="607.95" y="317.53" font-size="8.0" fill="#1a1a1a" stroke="#1a1a1a" stroke-width="0.12" text-anchor="middle" >0</text>
<text x="623.65" y="317.53" font-size="8.0" fill="#1a1a1a" stroke="#1a1a1a" stroke-width="0.12" text-anchor="middle" >0</text>
<text x="639.35" y="317.53" font-size="8.0" fill="#1a1a1a" stroke="#1a1a1a" stroke-width="0.12" text-anchor="middle" >1</text>
<line x1="580.60" y1="314.68" x2="583.40" y2="314.68" stroke="#8a8a8a" stroke-width="0.7" />
<text x="578.40" y="317.48" font-size="8.0" fill="#1a1a1a" stroke="#1a1a1a" stroke-width="0.12" text-anchor="end" >DE</text>
<text x="592.25" y="330.58" font-size="8.0" fill="#1a1a1a" stroke="#1a1a1a" stroke-width="0.12" text-anchor="middle" >4</text>
<text x="607.95" y="330.58" font-size="8.0" fill="#1a1a1a" stroke="#1a1a1a" stroke-width="0.12" text-anchor="middle" >4</text>
<text x="623.65" y="330.58" font-size="8.0" fill="#1a1a1a" stroke="#1a1a1a" stroke-width="0.12" text-anchor="middle" >2</text>
<text x="639.35" y="330.58" font-size="8.0" fill="#1a1a1a" stroke="#1a1a1a" stroke-width="0.12" text-anchor="middle" >4</text>
<line x1="580.60" y1="327.73" x2="583.40" y2="327.73" stroke="#8a8a8a" stroke-width="0.7" />
<text x="578.40" y="330.53" font-size="8.0" fill="#1a1a1a" stroke="#1a1a1a" stroke-width="0.12" text-anchor="end" >DD</text>
<text x="592.25" y="343.63" font-size="8.0" fill="#1a1a1a" stroke="#1a1a1a" stroke-width="0.12" text-anchor="middle" >3</text>
<text x="607.95" y="343.63" font-size="8.0" fill="#1a1a1a" stroke="#1a1a1a" stroke-width="0.12" text-anchor="middle" >1</text>
<text x="623.65" y="343.63" font-size="8.0" fill="#1a1a1a" stroke="#1a1a1a" stroke-width="0.12" text-anchor="middle" >0</text>
<text x="639.35" y="343.63" font-size="8.0" fill="#1a1a1a" stroke="#1a1a1a" stroke-width="0.12" text-anchor="middle" >0</text>
<line x1="580.60" y1="340.78" x2="583.40" y2="340.78" stroke="#8a8a8a" stroke-width="0.7" />
<text x="578.40" y="343.58" font-size="8.0" fill="#1a1a1a" stroke="#1a1a1a" stroke-width="0.12" text-anchor="end" >CE</text>
<text x="592.25" y="356.68" font-size="8.0" fill="#1a1a1a" stroke="#1a1a1a" stroke-width="0.12" text-anchor="middle" >0</text>
<text x="607.95" y="356.68" font-size="8.0" fill="#1a1a1a" stroke="#1a1a1a" stroke-width="0.12" text-anchor="middle" >3</text>
<text x="623.65" y="356.68" font-size="8.0" fill="#1a1a1a" stroke="#1a1a1a" stroke-width="0.12" text-anchor="middle" >1</text>
<text x="639.35" y="356.68" font-size="8.0" fill="#1a1a1a" stroke="#1a1a1a" stroke-width="0.12" text-anchor="middle" >0</text>
<line x1="580.60" y1="353.83" x2="583.40" y2="353.83" stroke="#8a8a8a" stroke-width="0.7" />
<text x="578.40" y="356.63" font-size="8.0" fill="#1a1a1a" stroke="#1a1a1a" stroke-width="0.12" text-anchor="end" >CD</text>
<text x="592.25" y="369.73" font-size="8.0" fill="#1a1a1a" stroke="#1a1a1a" stroke-width="0.12" text-anchor="middle" >1</text>
<text x="607.95" y="369.73" font-size="8.0" fill="#1a1a1a" stroke="#1a1a1a" stroke-width="0.12" text-anchor="middle" >2</text>
<text x="623.65" y="369.73" font-size="8.0" fill="#1a1a1a" stroke="#1a1a1a" stroke-width="0.12" text-anchor="middle" >1</text>
<text x="639.35" y="369.73" font-size="8.0" fill="#1a1a1a" stroke="#1a1a1a" stroke-width="0.12" text-anchor="middle" >4</text>
<line x1="580.60" y1="366.88" x2="583.40" y2="366.88" stroke="#8a8a8a" stroke-width="0.7" />
<text x="578.40" y="369.68" font-size="8.0" fill="#1a1a1a" stroke="#1a1a1a" stroke-width="0.12" text-anchor="end" >CC</text>
<text x="592.25" y="382.78" font-size="8.0" fill="#1a1a1a" stroke="#1a1a1a" stroke-width="0.12" text-anchor="middle" >1</text>
<text x="607.95" y="382.78" font-size="8.0" fill="#1a1a1a" stroke="#1a1a1a" stroke-width="0.12" text-anchor="middle" >1</text>
<text x="623.65" y="382.78" font-size="8.0" fill="#1a1a1a" stroke="#1a1a1a" stroke-width="0.12" text-anchor="middle" >4</text>
<text x="639.35" y="382.78" font-size="8.0" fill="#1a1a1a" stroke="#1a1a1a" stroke-width="0.12" text-anchor="middle" >1</text>
<line x1="580.60" y1="379.93" x2="583.40" y2="379.93" stroke="#8a8a8a" stroke-width="0.7" />
<text x="578.40" y="382.73" font-size="8.0" fill="#1a1a1a" stroke="#1a1a1a" stroke-width="0.12" text-anchor="end" >BE</text>
<text x="592.25" y="395.83" font-size="8.0" fill="#1a1a1a" stroke="#1a1a1a" stroke-width="0.12" text-anchor="middle" >1</text>
<text x="607.95" y="395.83" font-size="8.0" fill="#1a1a1a" stroke="#1a1a1a" stroke-width="0.12" text-anchor="middle" >7</text>
<text x="623.65" y="395.83" font-size="8.0" fill="#1a1a1a" stroke="#1a1a1a" stroke-width="0.12" text-anchor="middle" >3</text>
<text x="639.35" y="395.83" font-size="8.0" fill="#1a1a1a" stroke="#1a1a1a" stroke-width="0.12" text-anchor="middle" >3</text>
<line x1="580.60" y1="392.98" x2="583.40" y2="392.98" stroke="#8a8a8a" stroke-width="0.7" />
<text x="578.40" y="395.78" font-size="8.0" fill="#1a1a1a" stroke="#1a1a1a" stroke-width="0.12" text-anchor="end" >BD</text>
<text x="592.25" y="408.88" font-size="8.0" fill="#1a1a1a" stroke="#1a1a1a" stroke-width="0.12" text-anchor="middle" >0</text>
<text x="607.25" y="408.88" font-size="8.0" fill="#1a1a1a" stroke="#1a1a1a" stroke-width="0.12" text-anchor="middle" >10</text>
<text x="623.65" y="408.88" font-size="8.0" fill="#1a1a1a" stroke="#1a1a1a" stroke-width="0.12" text-anchor="middle" >1</text>
<text x="639.35" y="408.88" font-size="8.0" fill="#1a1a1a" stroke="#1a1a1a" stroke-width="0.12" text-anchor="middle" >0</text>
<line x1="580.60" y1="406.03" x2="583.40" y2="406.03" stroke="#8a8a8a" stroke-width="0.7" />
<text x="578.40" y="408.83" font-size="8.0" fill="#1a1a1a" stroke="#1a1a1a" stroke-width="0.12" text-anchor="end" >BC</text>
<text x="591.55" y="421.93" font-size="8.0" fill="#1a1a1a" stroke="#1a1a1a" stroke-width="0.12" text-anchor="middle" >12</text>
<text x="607.95" y="421.93" font-size="8.0" fill="#1a1a1a" stroke="#1a1a1a" stroke-width="0.12" text-anchor="middle" >5</text>
<text x="623.65" y="421.93" font-size="8.0" fill="#1a1a1a" stroke="#1a1a1a" stroke-width="0.12" text-anchor="middle" >9</text>
<text x="639.35" y="421.93" font-size="8.0" fill="#1a1a1a" stroke="#1a1a1a" stroke-width="0.12" text-anchor="middle" >4</text>
<line x1="580.60" y1="419.08" x2="583.40" y2="419.08" stroke="#8a8a8a" stroke-width="0.7" />
<text x="578.40" y="421.88" font-size="8.0" fill="#1a1a1a" stroke="#1a1a1a" stroke-width="0.12" text-anchor="end" >BB</text>
<text x="592.25" y="434.98" font-size="8.0" fill="#1a1a1a" stroke="#1a1a1a" stroke-width="0.12" text-anchor="middle" >1</text>
<text x="607.95" y="434.98" font-size="8.0" fill="#1a1a1a" stroke="#1a1a1a" stroke-width="0.12" text-anchor="middle" >0</text>
<text x="623.65" y="434.98" font-size="8.0" fill="#1a1a1a" stroke="#1a1a1a" stroke-width="0.12" text-anchor="middle" >1</text>
<text x="639.35" y="434.98" font-size="8.0" fill="#1a1a1a" stroke="#1a1a1a" stroke-width="0.12" text-anchor="middle" >0</text>
<line x1="580.60" y1="432.12" x2="583.40" y2="432.12" stroke="#8a8a8a" stroke-width="0.7" />
<text x="578.40" y="434.93" font-size="8.0" fill="#1a1a1a" stroke="#1a1a1a" stroke-width="0.12" text-anchor="end" >AE</text>
<text x="592.25" y="448.03" font-size="8.0" fill="#1a1a1a" stroke="#1a1a1a" stroke-width="0.12" text-anchor="middle" >1</text>
<text x="607.95" y="448.03" font-size="8.0" fill="#1a1a1a" stroke="#1a1a1a" stroke-width="0.12" text-anchor="middle" >3</text>
<text x="623.65" y="448.03" font-size="8.0" fill="#1a1a1a" stroke="#1a1a1a" stroke-width="0.12" text-anchor="middle" >0</text>
<text x="639.35" y="448.03" font-size="8.0" fill="#1a1a1a" stroke="#1a1a1a" stroke-width="0.12" text-anchor="middle" >2</text>
<line x1="580.60" y1="445.18" x2="583.40" y2="445.18" stroke="#8a8a8a" stroke-width="0.7" />
<text x="578.40" y="447.98" font-size="8.0" fill="#1a1a1a" stroke="#1a1a1a" stroke-width="0.12" text-anchor="end" >AD</text>
<text x="592.25" y="461.08" font-size="8.0" fill="#1a1a1a" stroke="#1a1a1a" stroke-width="0.12" text-anchor="middle" >0</text>
<text x="607.95" y="461.08" font-size="8.0" fill="#1a1a1a" stroke="#1a1a1a" stroke-width="0.12" text-anchor="middle" >0</text>
<text x="623.65" y="461.08" font-size="8.0" fill="#1a1a1a" stroke="#1a1a1a" stroke-width="0.12" text-anchor="middle" >2</text>
<text x="639.35" y="461.08" font-size="8.0" fill="#1a1a1a" stroke="#1a1a1a" stroke-width="0.12" text-anchor="middle" >0</text>
<line x1="580.60" y1="458.23" x2="583.40" y2="458.23" stroke="#8a8a8a" stroke-width="0.7" />
<text x="578.40" y="461.03" font-size="8.0" fill="#1a1a1a" stroke="#1a1a1a" stroke-width="0.12" text-anchor="end" >AC</text>
<text x="592.25" y="474.13" font-size="8.0" fill="#1a1a1a" stroke="#1a1a1a" stroke-width="0.12" text-anchor="middle" >1</text>
<text x="607.95" y="474.13" font-size="8.0" fill="#1a1a1a" stroke="#1a1a1a" stroke-width="0.12" text-anchor="middle" >1</text>
<text x="623.65" y="474.13" font-size="8.0" fill="#1a1a1a" stroke="#1a1a1a" stroke-width="0.12" text-anchor="middle" >0</text>
<text x="639.35" y="474.13" font-size="8.0" fill="#1a1a1a" stroke="#1a1a1a" stroke-width="0.12" text-anchor="middle" >0</text>
<line x1="580.60" y1="471.28" x2="583.40" y2="471.28" stroke="#8a8a8a" stroke-width="0.7" />
<text x="578.40" y="474.08" font-size="8.0" fill="#1a1a1a" stroke="#1a1a1a" stroke-width="0.12" text-anchor="end" >AB</text>
<text x="592.25" y="487.18" font-size="8.0" fill="#1a1a1a" stroke="#1a1a1a" stroke-width="0.12" text-anchor="middle" >2</text>
<text x="607.95" y="487.18" font-size="8.0" fill="#1a1a1a" stroke="#1a1a1a" stroke-width="0.12" text-anchor="middle" >3</text>
<text x="623.65" y="487.18" font-size="8.0" fill="#1a1a1a" stroke="#1a1a1a" stroke-width="0.12" text-anchor="middle" >4</text>
<text x="639.35" y="487.18" font-size="8.0" fill="#1a1a1a" stroke="#1a1a1a" stroke-width="0.12" text-anchor="middle" >4</text>
<line x1="580.60" y1="484.33" x2="583.40" y2="484.33" stroke="#8a8a8a" stroke-width="0.7" />
<text x="578.40" y="487.13" font-size="8.0" fill="#1a1a1a" stroke="#1a1a1a" stroke-width="0.12" text-anchor="end" >AA</text>
<line x1="583.40" y1="293.80" x2="583.40" y2="492.00" stroke="#8a8a8a" stroke-width="0.7" />
<line x1="583.10" y1="491.70" x2="649.60" y2="491.70" stroke="#8a8a8a" stroke-width="0.7" />
<line x1="593.05" y1="491.70" x2="593.05" y2="494.90" stroke="#8a8a8a" stroke-width="0.7" />
<line x1="608.75" y1="491.70" x2="608.75" y2="494.90" stroke="#8a8a8a" stroke-width="0.7" />
<line x1="624.45" y1="491.70" x2="624.45" y2="494.90" stroke="#8a8a8a" stroke-width="0.7" />
<line x1="640.15" y1="491.70" x2="640.15" y2="494.90" stroke="#8a8a8a" stroke-width="0.7" />
<text transform="translate(560.20,391.80) rotate(-90)" font-size="8.0" fill="#1a1a1a" stroke="#1a1a1a" stroke-width="0.12" text-anchor="middle" >Bin combo</text>
<text x="581.60" y="291.60" font-size="8.0" fill="#1a1a1a" stroke="#1a1a1a" stroke-width="0.12" text-anchor="end" ><tspan font-style="italic">n</tspan> =</text>
<text x="591.20" y="291.60" font-size="8.0" fill="#1a1a1a" stroke="#1a1a1a" stroke-width="0.12" text-anchor="middle" >31</text>
<text x="608.00" y="291.60" font-size="8.0" fill="#1a1a1a" stroke="#1a1a1a" stroke-width="0.12" text-anchor="middle" >40</text>
<text x="623.60" y="291.60" font-size="8.0" fill="#1a1a1a" stroke="#1a1a1a" stroke-width="0.12" text-anchor="middle" >30</text>
<text x="639.60" y="291.60" font-size="8.0" fill="#1a1a1a" stroke="#1a1a1a" stroke-width="0.12" text-anchor="middle" >24</text>
<text x="651.40" y="294.60" font-size="8.0" fill="#1a1a1a" stroke="#1a1a1a" stroke-width="0.12" >Ratio</text>
<defs><linearGradient id="cbf" x1="0" y1="1" x2="0" y2="0"><stop offset="0.00" stop-color="#ffffff"/><stop offset="0.05" stop-color="#fff5f2"/><stop offset="0.10" stop-color="#ffece5"/><stop offset="0.15" stop-color="#ffe2d8"/><stop offset="0.20" stop-color="#ffd9cb"/><stop offset="0.25" stop-color="#ffcfbf"/><stop offset="0.30" stop-color="#ffc6b2"/><stop offset="0.35" stop-color="#ffbca6"/><stop offset="0.40" stop-color="#ffb299"/><stop offset="0.45" stop-color="#ffa88d"/><stop offset="0.50" stop-color="#ff9e81"/><stop offset="0.55" stop-color="#ff9475"/><stop offset="0.60" stop-color="#ff8969"/><stop offset="0.65" stop-color="#ff7e5e"/><stop offset="0.70" stop-color="#ff7352"/><stop offset="0.75" stop-color="#ff6846"/><stop offset="0.80" stop-color="#ff5b3a"/><stop offset="0.85" stop-color="#ff4d2e"/><stop offset="0.90" stop-color="#ff3e22"/><stop offset="0.95" stop-color="#ff2913"/><stop offset="1.00" stop-color="#ff0000"/></linearGradient></defs>
<rect x="651.60" y="299.50" width="19.20" height="93.05" fill="url(#cbf)" />
<line x1="651.60" y1="318.30" x2="655.40" y2="318.30" stroke="#fff" stroke-width="0.7" />
<line x1="667.00" y1="318.30" x2="670.80" y2="318.30" stroke="#fff" stroke-width="0.7" />
<text x="673.40" y="321.10" font-size="8.0" fill="#1a1a1a" stroke="#1a1a1a" stroke-width="0.12" >0.3</text>
<line x1="651.60" y1="343.05" x2="655.40" y2="343.05" stroke="#fff" stroke-width="0.7" />
<line x1="667.00" y1="343.05" x2="670.80" y2="343.05" stroke="#fff" stroke-width="0.7" />
<text x="673.40" y="345.85" font-size="8.0" fill="#1a1a1a" stroke="#1a1a1a" stroke-width="0.12" >0.2</text>
<line x1="651.60" y1="367.80" x2="655.40" y2="367.80" stroke="#fff" stroke-width="0.7" />
<line x1="667.00" y1="367.80" x2="670.80" y2="367.80" stroke="#fff" stroke-width="0.7" />
<text x="673.40" y="370.60" font-size="8.0" fill="#1a1a1a" stroke="#1a1a1a" stroke-width="0.12" >0.1</text>
<text x="673.40" y="395.35" font-size="8.0" fill="#1a1a1a" stroke="#1a1a1a" stroke-width="0.12" >0</text>
<text x="610.20" y="256.40" font-size="8.0" fill="#1a1a1a" stroke="#1a1a1a" stroke-width="0.12" text-anchor="middle" ><tspan font-style="italic">P</tspan> = 0.36</text>
<line x1="591.00" y1="258.20" x2="630.30" y2="258.20" stroke="#3a3a3a" stroke-width="0.75" />
<text x="616.40" y="268.20" font-size="8.0" fill="#1a1a1a" stroke="#1a1a1a" stroke-width="0.12" text-anchor="middle" ><tspan font-style="italic">P</tspan> = 0.02</text>
<line x1="607.00" y1="272.30" x2="626.60" y2="272.30" stroke="#3a3a3a" stroke-width="0.75" />
<text x="586.20" y="277.00" font-size="8.0" fill="#1a1a1a" stroke="#1a1a1a" stroke-width="0.12" text-anchor="middle" ><tspan font-style="italic">P</tspan> = 0.001</text>
<line x1="591.00" y1="278.60" x2="610.70" y2="278.60" stroke="#3a3a3a" stroke-width="0.75" />
<text x="643.20" y="277.00" font-size="8.0" fill="#1a1a1a" stroke="#1a1a1a" stroke-width="0.12" text-anchor="middle" ><tspan font-style="italic">P</tspan> = 0.18</text>
<line x1="623.90" y1="278.60" x2="643.00" y2="278.60" stroke="#3a3a3a" stroke-width="0.75" />
<text transform="translate(597.05,502.30) rotate(-45)" font-size="8.0" fill="#1a1a1a" stroke="#1a1a1a" stroke-width="0.12" text-anchor="end" >Control</text>
<text transform="translate(612.75,502.30) rotate(-45)" font-size="8.0" fill="#1a1a1a" stroke="#1a1a1a" stroke-width="0.12" text-anchor="end" ><tspan font-style="italic">Pten</tspan><tspan dy="-3.3" dx="0.6" font-style="italic" font-size="5.2">null</tspan></text>
<text transform="translate(628.45,502.30) rotate(-45)" font-size="8.0" fill="#1a1a1a" stroke="#1a1a1a" stroke-width="0.12" text-anchor="end" ><tspan font-style="italic">Trp53</tspan><tspan dy="-3.3" dx="0.6" font-style="italic" font-size="5.2">afl</tspan></text>
<text transform="translate(644.15,502.30) rotate(-45)" font-size="8.0" fill="#1a1a1a" stroke="#1a1a1a" stroke-width="0.12" text-anchor="end" ><tspan font-style="italic">Kras</tspan><tspan dy="-3.3" dx="1.2" font-style="italic" font-size="5.2">G12D</tspan></text>
<text x="314.20" y="549.30" font-size="10.5" fill="#000" stroke="#000" stroke-width="0.12" font-weight="bold" >g</text>
<line x1="352.10" y1="555.20" x2="352.10" y2="614.80" stroke="#8a8a8a" stroke-width="0.7" />
<line x1="351.80" y1="614.50" x2="640.20" y2="614.50" stroke="#8a8a8a" stroke-width="0.7" />
<line x1="349.60" y1="557.00" x2="352.10" y2="557.00" stroke="#8a8a8a" stroke-width="0.7" />
<text x="346.70" y="559.80" font-size="8.0" fill="#1a1a1a" stroke="#1a1a1a" stroke-width="0.12" text-anchor="end" >2</text>
<line x1="349.60" y1="568.15" x2="352.10" y2="568.15" stroke="#8a8a8a" stroke-width="0.7" />
<text x="346.70" y="570.95" font-size="8.0" fill="#1a1a1a" stroke="#1a1a1a" stroke-width="0.12" text-anchor="end" >1</text>
<line x1="349.60" y1="579.30" x2="352.10" y2="579.30" stroke="#8a8a8a" stroke-width="0.7" />
<text x="346.70" y="582.10" font-size="8.0" fill="#1a1a1a" stroke="#1a1a1a" stroke-width="0.12" text-anchor="end" >0</text>
<line x1="349.60" y1="590.45" x2="352.10" y2="590.45" stroke="#8a8a8a" stroke-width="0.7" />
<text x="346.70" y="593.25" font-size="8.0" fill="#1a1a1a" stroke="#1a1a1a" stroke-width="0.12" text-anchor="end" >−1</text>
<line x1="349.60" y1="601.60" x2="352.10" y2="601.60" stroke="#8a8a8a" stroke-width="0.7" />
<text x="346.70" y="604.40" font-size="8.0" fill="#1a1a1a" stroke="#1a1a1a" stroke-width="0.12" text-anchor="end" >−2</text>
<line x1="349.60" y1="612.75" x2="352.10" y2="612.75" stroke="#8a8a8a" stroke-width="0.7" />
<text x="346.70" y="615.55" font-size="8.0" fill="#1a1a1a" stroke="#1a1a1a" stroke-width="0.12" text-anchor="end" >−3</text>
<rect x="355.30" y="579.30" width="17.00" height="0.78" fill="#000" />
<line x1="363.80" y1="614.50" x2="363.80" y2="617.80" stroke="#8a8a8a" stroke-width="0.7" />
<text x="363.80" y="628.20" font-size="8.0" fill="#1a1a1a" stroke="#1a1a1a" stroke-width="0.12" text-anchor="middle" >AA</text>
<text transform="translate(365.20,613.90) rotate(-90)" font-size="7.75" fill="#1a1a1a" stroke="#1a1a1a" stroke-width="0.12" >(<tspan font-style="italic">P</tspan> = 0.92)</text>
<rect x="374.21" y="579.30" width="17.00" height="29.32" fill="#000" />
<line x1="382.71" y1="614.50" x2="382.71" y2="617.80" stroke="#8a8a8a" stroke-width="0.7" />
<text x="382.71" y="628.20" font-size="8.0" fill="#1a1a1a" stroke="#1a1a1a" stroke-width="0.12" text-anchor="middle" >AB</text>
<text transform="translate(384.11,577.70) rotate(-90)" font-size="7.75" fill="#1a1a1a" stroke="#1a1a1a" stroke-width="0.12" >(<tspan font-style="italic">P</tspan> = 0.005)</text>
<rect x="393.12" y="579.30" width="17.00" height="21.30" fill="#000" />
<line x1="401.62" y1="614.50" x2="401.62" y2="617.80" stroke="#8a8a8a" stroke-width="0.7" />
<text x="401.62" y="628.20" font-size="8.0" fill="#1a1a1a" stroke="#1a1a1a" stroke-width="0.12" text-anchor="middle" >AC</text>
<text transform="translate(403.02,577.70) rotate(-90)" font-size="7.75" fill="#1a1a1a" stroke="#1a1a1a" stroke-width="0.12" >(<tspan font-style="italic">P</tspan> = 0.07)</text>
<rect x="412.03" y="579.30" width="17.00" height="2.34" fill="#000" />
<line x1="420.53" y1="614.50" x2="420.53" y2="617.80" stroke="#8a8a8a" stroke-width="0.7" />
<text x="420.53" y="628.20" font-size="8.0" fill="#1a1a1a" stroke="#1a1a1a" stroke-width="0.12" text-anchor="middle" >AD</text>
<text transform="translate(421.93,577.70) rotate(-90)" font-size="7.75" fill="#1a1a1a" stroke="#1a1a1a" stroke-width="0.12" >(<tspan font-style="italic">P</tspan> = 0.77)</text>
<rect x="430.94" y="579.30" width="17.00" height="25.64" fill="#000" />
<line x1="439.44" y1="614.50" x2="439.44" y2="617.80" stroke="#8a8a8a" stroke-width="0.7" />
<text x="439.44" y="628.20" font-size="8.0" fill="#1a1a1a" stroke="#1a1a1a" stroke-width="0.12" text-anchor="middle" >AE</text>
<text transform="translate(440.84,577.70) rotate(-90)" font-size="7.75" fill="#1a1a1a" stroke="#1a1a1a" stroke-width="0.12" >(<tspan font-style="italic">P</tspan> = 0.02)</text>
<rect x="449.85" y="568.82" width="17.00" height="10.48" fill="#000" />
<line x1="458.35" y1="614.50" x2="458.35" y2="617.80" stroke="#8a8a8a" stroke-width="0.7" />
<text x="458.35" y="628.20" font-size="8.0" fill="#1a1a1a" stroke="#1a1a1a" stroke-width="0.12" text-anchor="middle" >BB</text>
<text transform="translate(459.75,613.90) rotate(-90)" font-size="7.75" fill="#1a1a1a" stroke="#1a1a1a" stroke-width="0.12" >(<tspan font-style="italic">P</tspan> = 0.03)</text>
<rect x="468.76" y="575.51" width="17.00" height="3.79" fill="#000" />
<line x1="477.26" y1="614.50" x2="477.26" y2="617.80" stroke="#8a8a8a" stroke-width="0.7" />
<text x="477.26" y="628.20" font-size="8.0" fill="#1a1a1a" stroke="#1a1a1a" stroke-width="0.12" text-anchor="middle" >BC</text>
<text transform="translate(478.66,613.90) rotate(-90)" font-size="7.75" fill="#1a1a1a" stroke="#1a1a1a" stroke-width="0.12" >(<tspan font-style="italic">P</tspan> = 0.57)</text>
<rect x="487.67" y="568.82" width="17.00" height="10.48" fill="#000" />
<line x1="496.17" y1="614.50" x2="496.17" y2="617.80" stroke="#8a8a8a" stroke-width="0.7" />
<text x="496.17" y="628.20" font-size="8.0" fill="#1a1a1a" stroke="#1a1a1a" stroke-width="0.12" text-anchor="middle" >BD</text>
<text transform="translate(497.57,613.90) rotate(-90)" font-size="7.75" fill="#1a1a1a" stroke="#1a1a1a" stroke-width="0.12" >(<tspan font-style="italic">P</tspan> = 0.1)</text>
<rect x="506.58" y="579.30" width="17.00" height="9.25" fill="#000" />
<line x1="515.08" y1="614.50" x2="515.08" y2="617.80" stroke="#8a8a8a" stroke-width="0.7" />
<text x="515.08" y="628.20" font-size="8.0" fill="#1a1a1a" stroke="#1a1a1a" stroke-width="0.12" text-anchor="middle" >BE</text>
<text transform="translate(516.48,577.70) rotate(-90)" font-size="7.75" fill="#1a1a1a" stroke="#1a1a1a" stroke-width="0.12" >(<tspan font-style="italic">P</tspan> = 0.21)</text>
<rect x="525.49" y="570.16" width="17.00" height="9.14" fill="#000" />
<line x1="533.99" y1="614.50" x2="533.99" y2="617.80" stroke="#8a8a8a" stroke-width="0.7" />
<text x="533.99" y="628.20" font-size="8.0" fill="#1a1a1a" stroke="#1a1a1a" stroke-width="0.12" text-anchor="middle" >CC</text>
<text transform="translate(535.39,613.90) rotate(-90)" font-size="7.75" fill="#1a1a1a" stroke="#1a1a1a" stroke-width="0.12" >(<tspan font-style="italic">P</tspan> = 0.26)</text>
<rect x="544.40" y="576.85" width="17.00" height="2.45" fill="#000" />
<line x1="552.90" y1="614.50" x2="552.90" y2="617.80" stroke="#8a8a8a" stroke-width="0.7" />
<text x="552.90" y="628.20" font-size="8.0" fill="#1a1a1a" stroke="#1a1a1a" stroke-width="0.12" text-anchor="middle" >CD</text>
<text transform="translate(554.30,613.90) rotate(-90)" font-size="7.75" fill="#1a1a1a" stroke="#1a1a1a" stroke-width="0.12" >(<tspan font-style="italic">P</tspan> = 0.79)</text>
<rect x="563.31" y="579.30" width="17.00" height="6.36" fill="#000" />
<line x1="571.81" y1="614.50" x2="571.81" y2="617.80" stroke="#8a8a8a" stroke-width="0.7" />
<text x="571.81" y="628.20" font-size="8.0" fill="#1a1a1a" stroke="#1a1a1a" stroke-width="0.12" text-anchor="middle" >CE</text>
<text transform="translate(573.21,577.70) rotate(-90)" font-size="7.75" fill="#1a1a1a" stroke="#1a1a1a" stroke-width="0.12" >(<tspan font-style="italic">P</tspan> = 0.5)</text>
<rect x="582.22" y="560.90" width="17.00" height="18.40" fill="#000" />
<line x1="590.72" y1="614.50" x2="590.72" y2="617.80" stroke="#8a8a8a" stroke-width="0.7" />
<text x="590.72" y="628.20" font-size="8.0" fill="#1a1a1a" stroke="#1a1a1a" stroke-width="0.12" text-anchor="middle" >DD</text>
<text transform="translate(592.12,613.90) rotate(-90)" font-size="7.75" fill="#1a1a1a" stroke="#1a1a1a" stroke-width="0.12" >(<tspan font-style="italic">P</tspan> = 0.02)</text>
<rect x="601.13" y="579.30" width="17.00" height="12.82" fill="#000" />
<line x1="609.63" y1="614.50" x2="609.63" y2="617.80" stroke="#8a8a8a" stroke-width="0.7" />
<text x="609.63" y="628.20" font-size="8.0" fill="#1a1a1a" stroke="#1a1a1a" stroke-width="0.12" text-anchor="middle" >DE</text>
<text transform="translate(611.03,577.70) rotate(-90)" font-size="7.75" fill="#1a1a1a" stroke="#1a1a1a" stroke-width="0.12" >(<tspan font-style="italic">P</tspan> = 0.82)</text>
<rect x="620.04" y="579.30" width="17.00" height="10.82" fill="#000" />
<line x1="628.54" y1="614.50" x2="628.54" y2="617.80" stroke="#8a8a8a" stroke-width="0.7" />
<text x="628.54" y="628.20" font-size="8.0" fill="#1a1a1a" stroke="#1a1a1a" stroke-width="0.12" text-anchor="middle" >EE</text>
<text transform="translate(629.94,577.70) rotate(-90)" font-size="7.75" fill="#1a1a1a" stroke="#1a1a1a" stroke-width="0.12" >(<tspan font-style="italic">P</tspan> = 0.21)</text>
<text x="492.10" y="639.70" font-size="8.0" fill="#1a1a1a" stroke="#1a1a1a" stroke-width="0.12" text-anchor="middle" >Bin combo</text>
<text transform="translate(331.80,584.80) rotate(-90)" font-size="7.8" fill="#1a1a1a" stroke="#1a1a1a" stroke-width="0.12" text-anchor="middle" >log<tspan font-size="5.5" dy="1.8">2</tspan><tspan dy="-1.8">[FC (</tspan><tspan font-style="italic">O</tspan>/<tspan font-style="italic">E</tspan>)]</text>
</svg>
</body></html>
